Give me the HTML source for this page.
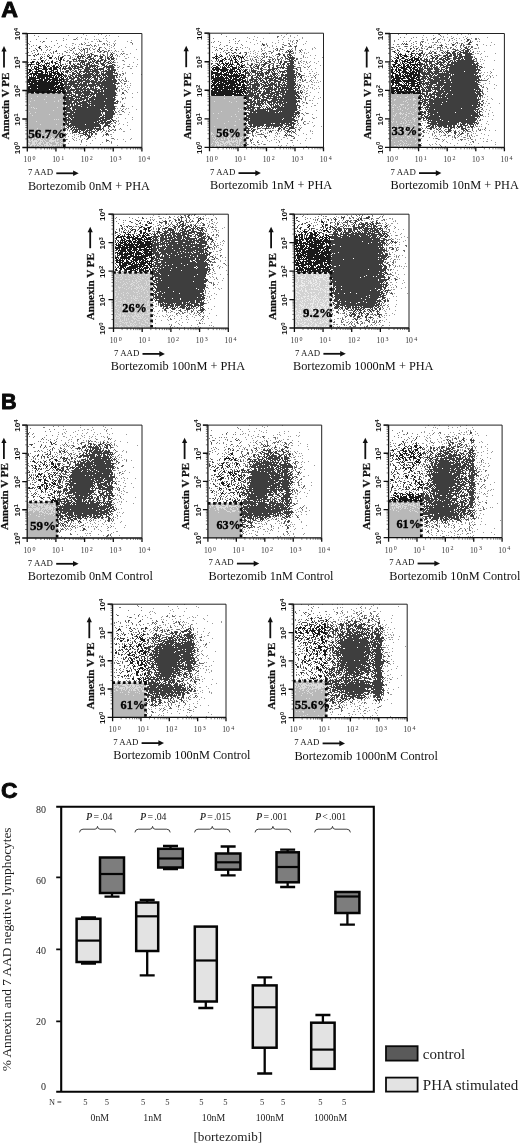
<!DOCTYPE html>
<html lang="en"><head><meta charset="utf-8"><title>Figure</title>
<style>html,body{margin:0;padding:0;background:#fff}body{width:520px;height:1144px;overflow:hidden}svg{display:block}</style>
</head><body>
<svg width="520" height="1144" viewBox="0 0 520 1144">
<rect width="520" height="1144" fill="#fff"/>
<text x="1.3" y="17.3" font-family='"Liberation Sans",Arial,sans-serif' font-weight="bold" font-size="21.8" fill="#0a0a0a" stroke="#0a0a0a" stroke-width=".9" textLength="16.7" lengthAdjust="spacingAndGlyphs" stroke-linejoin="round">A</text>
<text x="1" y="408.6" font-family='"Liberation Sans",Arial,sans-serif' font-weight="bold" font-size="21.6" fill="#0a0a0a" stroke="#0a0a0a" stroke-width=".9" textLength="15.6" lengthAdjust="spacingAndGlyphs" stroke-linejoin="round">B</text>
<text x="1.1" y="798.4" font-family='"Liberation Sans",Arial,sans-serif' font-weight="bold" font-size="22.9" fill="#0a0a0a" stroke="#0a0a0a" stroke-width=".9" textLength="16.5" lengthAdjust="spacingAndGlyphs" stroke-linejoin="round">C</text>
<g transform="translate(27.3,33.5)">
<rect x="0" y="59" width="37" height="55" fill="#b6b6b6"/>
<g transform="translate(0,.5)" fill="none" shape-rendering="crispEdges">
<path stroke="#dcdcdc" d="M35 60h1M10 62h1m8 0h1M27 63h1M4 64h1M17 65h1m15 0h1M7 66h1m23 0h1M3 67h1m23 0h1m3 0h1M19 68h1M2 70h1M35 71h1M4 73h1m1 0h1m23 0h1M7 74h1m1 0h1M26 76h1M2 77h1M8 78h1M3 79h1M22 80h1M5 81h1M27 85h1m1 0h1m1 0h1M9 87h1M13 90h1m15 0h1M34 92h1M10 94h1m23 0h1M22 95h1M5 96h1M7 98h1M6 99h2m2 0h2m3 0h1m3 0h1m8 0h1m1 0h1M18 100h1m1 0h1m12 0h1M7 101h2m1 0h1m1 0h1m1 0h1m1 0h1m12 0h1M5 102h1m3 0h1m2 0h4m1 0h3m4 0h1m8 0h1M1 103h2m1 0h3m1 0h3m3 0h1m1 0h2m3 0h2m2 0h1m1 0h1m3 0h1M5 104h2m1 0h1m2 0h2m1 0h1m9 0h3m1 0h1m4 0h3M1 105h2m2 0h1m4 0h4m2 0h1m2 0h1m3 0h2m3 0h1m1 0h2M2 106h1m1 0h2m1 0h3m1 0h1m1 0h3m1 0h1m4 0h7m1 0h1m3 0h1M2 107h2m1 0h6m2 0h1m1 0h1m2 0h1m3 0h5m1 0h1m4 0h1M5 108h3m1 0h1m2 0h3m1 0h1m2 0h3m2 0h1m3 0h4m2 0h2M1 109h2m2 0h3m1 0h1m1 0h3m2 0h1m2 0h2m1 0h1m6 0h2m2 0h1M2 110h1m1 0h5m1 0h1m1 0h2m3 0h4m1 0h3m4 0h1m1 0h1m1 0h2M3 111h2m2 0h1m2 0h2m2 0h2m1 0h1m1 0h3m1 0h2m1 0h4m1 0h1m1 0h1M3 112h1m3 0h1m1 0h1m2 0h2m1 0h1m1 0h7m1 0h1m1 0h1m5 0h1m1 0h1M5 113h2m1 0h2m2 0h4m1 0h2m8 0h1m1 0h2"/>
<path stroke="#9a9a9a" d="M56 0h1m14 0h1m2 0h1M41 1h1m17 0h1m19 0h1m2 0h1M67 2h1m10 0h1m12 0h1M50 3h1m3 0h1M58 4h1m17 0h1m2 0h1M39 5h1m6 0h1m3 0h1m7 0h1m1 0h1m6 0h1m1 0h1m1 0h1M79 6h1m8 0h1m15 0h1M64 7h2m4 0h1m3 0h1m5 0h1m6 0h1m12 0h1M57 8h1m3 0h1m20 0h1m20 0h1M45 9h2m21 0h1m10 0h1m6 0h1m1 0h1M39 10h1m8 0h1m3 0h1m4 0h1m13 0h1m3 0h1m6 0h1m22 0h1M45 11h1m13 0h1m11 0h1m8 0h1m3 0h1M38 12h1m12 0h1m13 0h1m3 0h1m12 0h1m3 0h1M39 13h1m2 0h1m11 0h1m8 0h1m10 0h1m2 0h1m6 0h1m13 0h1M44 14h1m6 0h1m13 0h1m2 0h1m13 0h1m4 0h1M42 15h1m36 0h1m14 0h1m14 0h1M40 16h1m7 0h1m14 0h1m20 0h1M37 17h1m8 0h1m20 0h1m19 0h1m1 0h1m1 0h1m3 0h2M40 18h1m1 0h1m22 0h1m1 0h1m15 0h1M45 19h1m41 0h1m9 0h1m5 0h1M73 20h1m19 0h1m5 0h2M38 21h1m1 0h1m5 0h1m41 0h1M48 22h1m41 0h1m1 0h1m4 0h1M45 23h1m55 0h1m5 0h1M37 24h1m30 0h1m20 0h1m8 0h2M89 25h1m20 0h1M95 26h1M97 27h1M88 28h1m1 0h1m15 0h1M38 29h1m1 0h1m7 0h1M96 30h2m4 0h1m7 0h1M90 31h1M72 32h1m1 0h1m17 0h1m7 0h1m1 0h1m2 0h1m3 0h1M90 33h1m5 0h1M95 34h1m7 0h2M90 35h1M91 37h1m3 0h1M98 38h1M98 39h1m6 0h1M114 40h1M95 41h1M92 43h1m1 0h1m3 0h1M101 47h1M95 49h1m7 0h1M94 51h1m5 0h1m2 0h1M92 52h1m1 0h1m3 0h1M100 53h1m1 0h1M94 54h1m1 0h1M92 55h1m8 0h1M97 56h1M90 57h1m1 0h1M100 58h1m9 0h1M105 59h1M94 60h1m2 0h1M90 61h1M94 63h1m3 0h1m6 0h1M98 64h1M93 67h1M93 68h1M97 69h1M95 70h1M89 72h1m7 0h1m7 0h1M90 74h1m2 0h1m2 0h1m2 0h1m1 0h1M98 75h1m10 0h1M92 76h1M92 78h1m4 0h1m4 0h1M90 80h1m1 0h1m1 0h1m6 0h1M87 82h1M91 83h1m13 0h1M89 84h1m8 0h1M105 85h1M91 86h1M91 87h1M100 88h1M37 89h1m47 0h1m6 0h1M91 90h1m4 0h1M88 91h1m11 0h1M37 92h1M84 93h1M92 95h1m1 0h1m8 0h1M40 96h1m38 0h1M37 97h1m4 0h1m53 0h2M74 98h1m11 0h1M38 99h1m1 0h1m2 0h1M47 100h1m1 0h1m1 0h1m24 0h1m6 0h2M38 101h1m8 0h1M41 102h1m3 0h1m5 0h1m13 0h1m1 0h1m7 0h1m8 0h1M38 103h1m8 0h1m5 0h1M37 104h1m7 0h1m3 0h1m7 0h1m10 0h1m15 0h1m19 0h1M40 105h1m11 0h1m2 0h1m31 0h1m2 0h1m5 0h1m6 0h1M47 106h1m1 0h1m15 0h1M37 107h1m4 0h1m16 0h1m22 0h1m1 0h1m13 0h1M54 108h1m20 0h1M41 109h1m21 0h1m20 0h1M38 110h1m14 0h1m19 0h1M59 111h1m30 0h1M74 113h2"/>
<path stroke="#6a6a6a" d="M49 4h1M47 5h2M72 6h1M72 7h2M104 8h1M54 9h1m3 0h1m17 0h2m27 0h1M54 10h2m7 0h1m13 0h1m2 0h1m6 0h1M60 11h3m1 0h1m2 0h2m18 0h1M67 12h1M47 13h1m24 0h2M46 14h2m8 0h1m1 0h3m1 0h1m15 0h1M45 15h1m6 0h1m1 0h1m5 0h1m1 0h1m3 0h2m4 0h1M43 16h2m8 0h1m1 0h1m1 0h1m2 0h1m9 0h1m4 0h2m4 0h2m5 0h1M38 17h1m15 0h1m2 0h1m2 0h1m9 0h1m3 0h1m3 0h2m1 0h1M39 18h1m6 0h1m5 0h1m4 0h1m1 0h2m11 0h2m2 0h2m2 0h1m4 0h1M47 19h1m1 0h1m1 0h1m1 0h1m3 0h1m5 0h1m16 0h1m5 0h1m7 0h1m1 0h1M48 20h2m4 0h2m1 0h1m2 0h1m1 0h1m3 0h1m8 0h2m3 0h1m2 0h1m5 0h1m5 0h1M37 21h1m3 0h2m15 0h1m1 0h1m9 0h1m6 0h1m2 0h1m9 0h1M43 22h1m20 0h1m5 0h1m1 0h1m5 0h1m1 0h1m1 0h1M43 23h1m14 0h1m7 0h1m11 0h1M42 24h2m3 0h1m1 0h1m3 0h1m1 0h2m15 0h1m5 0h1m8 0h1M45 25h1m3 0h1m8 0h1m2 0h1m9 0h1m4 0h1M37 26h1m2 0h2m37 0h1m7 0h1m8 0h1M39 27h2m3 0h1m1 0h5m8 0h1m1 0h1m19 0h1m2 0h1M79 28h1m6 0h2M46 29h1m3 0h1m8 0h1m6 0h1m4 0h1m1 0h1m4 0h1m4 0h1M38 30h1m16 0h1m15 0h1m8 0h1m6 0h1M40 31h1m1 0h1m45 0h1M56 32h1m44 0h1M87 33h1m3 0h1M40 34h1m15 0h1m22 0h1M53 35h2m33 0h1M45 36h2m2 0h1m1 0h1M55 37h1m18 0h1M38 38h1m3 0h2m28 0h1m16 0h1M40 39h1m13 0h1m32 0h1m2 0h1m4 0h2M38 40h1m3 0h2m48 0h2m2 0h1M41 41h1m48 0h1m2 0h1M92 42h1M89 43h2M64 44h1m33 0h1M72 45h1m18 0h2m2 0h1m2 0h1M92 46h1m1 0h1m1 0h1m2 0h1M93 47h1m3 0h3M91 48h1m2 0h1M92 49h1m4 0h2M90 50h1m6 0h1M45 52h1m24 0h1m20 0h1M90 53h1M70 54h1m19 0h1M95 55h1M89 56h1m2 0h1m5 0h1M99 57h1M46 58h1m48 0h2M89 59h1M46 60h1M89 61h1M88 63h1M95 64h2M88 65h1m6 0h1M90 66h1M37 67h1m53 0h1M90 69h1M37 71h1M37 72h1m50 0h1m5 0h3M88 74h1M95 75h1M94 76h1M88 77h1m2 0h1m3 0h2M88 78h2M37 79h1m37 0h1M76 80h1m10 0h1m5 0h1M87 86h2M89 87h1M87 88h2M84 89h1m3 0h1M75 90h1m7 0h1M86 91h1M39 92h1m36 0h1m6 0h1m2 0h1M37 93h1m43 0h1m5 0h1M37 94h3m1 0h1m34 0h1m4 0h1m11 0h1M40 95h1m2 0h1m38 0h1m2 0h2m1 0h1M42 96h1m30 0h1m2 0h2m3 0h1m1 0h2m2 0h2M69 97h2m4 0h1m3 0h1m1 0h2M45 98h1m32 0h1M45 99h1m7 0h2m14 0h1M39 100h1m22 0h1m5 0h2m8 0h1m2 0h1M53 101h3m20 0h1m2 0h1m1 0h1M53 102h1m5 0h1M63 103h1M85 104h2M39 105h1m6 0h1m12 0h2m18 0h1M38 106h1m15 0h1m24 0h1m1 0h1M54 107h1m24 0h1M84 108h1"/>
<path stroke="#3e3e3e" d="M72 14h1M56 15h2m13 0h1M72 16h1M71 17h1m1 0h1m3 0h1M64 19h1m19 0h1M50 20h1m10 0h1m2 0h2m18 0h2M51 21h1m2 0h1m1 0h1m5 0h1m1 0h1m2 0h3m3 0h1m2 0h1m6 0h1m1 0h1M50 22h8m3 0h3m3 0h2m4 0h3m8 0h2M50 23h2m1 0h1m1 0h1m4 0h4m9 0h3m4 0h2m1 0h2m1 0h1M51 24h2m6 0h2m2 0h4m6 0h2m5 0h3m1 0h3M46 25h3m3 0h1m9 0h3m1 0h2m6 0h2m2 0h1m2 0h2m1 0h3M46 26h1m2 0h1m1 0h6m1 0h2m2 0h1m2 0h1m1 0h2m1 0h2m1 0h3m1 0h2m4 0h1M42 27h2m8 0h1m1 0h5m4 0h1m1 0h3m1 0h5m3 0h2m3 0h1m3 0h1M42 28h2m9 0h5m3 0h4m1 0h1m1 0h3m2 0h1m2 0h2m2 0h2m1 0h1m1 0h1M42 29h2m7 0h1m1 0h1m1 0h1m1 0h1m2 0h3m2 0h1m3 0h2m3 0h3m4 0h2m1 0h1M43 30h1m2 0h2m2 0h4m2 0h2m1 0h4m1 0h1m2 0h1m6 0h4m7 0h2M39 31h1m4 0h2m1 0h3m3 0h2m2 0h4m1 0h9m4 0h3m1 0h1m2 0h4m1 0h1M37 32h3m2 0h1m1 0h8m1 0h3m3 0h2m1 0h7m1 0h2m5 0h10M38 33h1m2 0h3m1 0h1m1 0h2m1 0h6m2 0h6m1 0h1m1 0h1m1 0h2m5 0h2m1 0h8M37 34h3m1 0h4m1 0h6m3 0h1m2 0h5m3 0h3m1 0h1m1 0h5m4 0h2m1 0h3M37 35h2m3 0h3m2 0h1m3 0h2m4 0h9m1 0h10m3 0h3m1 0h4M39 36h3m1 0h1m4 0h1m4 0h1m3 0h5m1 0h1m1 0h6m2 0h1m2 0h1m1 0h2m1 0h8M38 37h4m2 0h1m2 0h3m2 0h3m1 0h16m3 0h11m1 0h1M39 38h2m4 0h2m2 0h2m1 0h2m2 0h2m1 0h4m2 0h2m1 0h4m2 0h1m1 0h1m2 0h9M45 39h4m1 0h3m5 0h2m1 0h5m1 0h1m1 0h3m2 0h3m1 0h8m2 0h2M45 40h3m1 0h1m1 0h3m2 0h11m1 0h3m1 0h1m1 0h12m4 0h1M37 41h3m3 0h3m2 0h16m1 0h9m1 0h4m1 0h10M37 42h3m1 0h3m1 0h2m1 0h2m1 0h4m1 0h9m1 0h3m1 0h3m1 0h1m1 0h1m1 0h2m1 0h7m1 0h1M38 43h1m1 0h1m1 0h3m1 0h6m1 0h11m1 0h4m1 0h1m1 0h3m1 0h12M39 44h2m1 0h6m2 0h3m1 0h3m1 0h2m1 0h2m4 0h4m2 0h4m1 0h10M37 45h5m2 0h3m3 0h5m1 0h3m1 0h2m1 0h1m3 0h4m2 0h3m1 0h8m1 0h3M37 46h1m1 0h2m2 0h2m1 0h1m1 0h15m1 0h3m1 0h3m2 0h2m1 0h2m1 0h11M37 47h13m1 0h5m2 0h12m1 0h3m1 0h15M37 48h3m2 0h11m1 0h1m1 0h7m1 0h25M37 49h3m1 0h7m2 0h2m1 0h2m1 0h4m1 0h1m3 0h3m1 0h17m1 0h5M37 50h23m1 0h12m1 0h14M38 51h2m1 0h1m1 0h2m1 0h5m1 0h17m1 0h19M37 52h7m2 0h7m1 0h4m1 0h2m1 0h5m1 0h2m2 0h4m1 0h12M37 53h7m3 0h3m1 0h1m1 0h3m1 0h3m3 0h2m1 0h1m1 0h1m4 0h16M37 54h6m1 0h1m3 0h7m1 0h3m1 0h2m1 0h4m1 0h2m3 0h2m1 0h3m1 0h10M37 55h1m1 0h3m1 0h27m1 0h2m1 0h16M37 56h2m1 0h8m1 0h3m1 0h3m1 0h2m1 0h3m2 0h11m1 0h11M37 57h2m1 0h4m2 0h1m1 0h6m1 0h9m3 0h6m1 0h2m1 0h11M37 58h8m2 0h19m1 0h3m1 0h18M37 59h1m1 0h6m3 0h7m1 0h7m1 0h25m6 0h2M37 60h3m2 0h1m1 0h2m2 0h1m2 0h3m1 0h1m1 0h11m1 0h7m1 0h12M37 61h8m1 0h3m2 0h11m1 0h2m1 0h1m2 0h20M37 62h2m1 0h2m2 0h9m1 0h5m1 0h1m1 0h2m1 0h3m1 0h19M38 63h8m2 0h7m2 0h5m2 0h22m1 0h1M37 64h11m1 0h1m1 0h1m1 0h8m1 0h17m1 0h8M37 65h5m1 0h4m1 0h10m1 0h2m1 0h5m1 0h20M37 66h18m1 0h1m2 0h29M39 67h6m2 0h3m1 0h2m2 0h8m1 0h13m1 0h9m2 0h2M38 68h7m1 0h5m1 0h8m1 0h28m1 0h1M37 69h11m1 0h12m1 0h1m1 0h26M37 70h6m1 0h2m1 0h1m1 0h5m1 0h32M40 71h3m1 0h2m1 0h4m2 0h10m1 0h3m1 0h10m1 0h8m8 0h1M39 72h2m1 0h12m1 0h33M37 73h7m1 0h15m1 0h16m1 0h10M37 74h6m2 0h43M37 75h7m1 0h3m1 0h24m1 0h4m2 0h8M37 76h1m1 0h6m1 0h28m1 0h5m1 0h5m1 0h1M37 77h50M37 78h3m3 0h4m1 0h26m1 0h1m2 0h9M39 79h35m4 0h10M38 80h7m1 0h29m3 0h9M37 81h3m1 0h34m1 0h10M37 82h2m2 0h32m2 0h2m1 0h8M38 83h4m1 0h3m1 0h25m1 0h13M38 84h2m1 0h2m1 0h33m1 0h7M37 85h7m1 0h29m1 0h8m1 0h2M37 86h35m1 0h7m3 0h1m1 0h2M37 87h3m1 0h1m1 0h27m1 0h5m1 0h2m1 0h5m1 0h1M38 88h2m1 0h26m1 0h5m1 0h10M39 89h3m2 0h28m1 0h4m1 0h5M39 90h3m1 0h15m1 0h14m5 0h3M40 91h34m3 0h6M41 92h4m1 0h1m1 0h26m3 0h2m2 0h2m4 0h1M40 93h2m1 0h1m1 0h22m1 0h1m3 0h2m2 0h1M44 94h2m1 0h1m1 0h1m1 0h23m1 0h1M44 95h1m1 0h13m1 0h1m1 0h4m1 0h1m1 0h6m1 0h1M45 96h2m1 0h3m1 0h1m1 0h4m1 0h6m3 0h1m1 0h2M45 97h1m1 0h4m1 0h2m2 0h1m1 0h3m1 0h1m1 0h4M46 98h4m1 0h2m3 0h4m1 0h4m1 0h2M52 99h1m2 0h2m1 0h2m2 0h1m1 0h2m2 0h1m10 0h2M56 100h5m3 0h2m13 0h2M58 101h1m1 0h3m1 0h1M61 102h3M61 103h2M60 104h2M80 106h1"/>
<path stroke="#808080" d="M7 1h1M11 2h1M19 4h1m16 0h1M9 5h1M29 6h1m6 0h1M3 7h1m9 0h1m3 0h1m6 0h1M15 8h1M1 9h1m28 0h1M2 10h1M6 11h1m2 0h1m8 0h1m8 0h1m6 0h1M4 12h1m17 0h1m9 0h1M18 13h1m1 0h1m3 0h1m6 0h1M2 14h1m5 0h1M20 15h1m2 0h1M6 16h2m6 0h1m4 0h1m2 0h1M4 17h1m5 0h1m15 0h1M1 18h1m5 0h1m8 0h1m1 0h1m4 0h1M5 19h1m18 0h1m1 0h1m3 0h1m1 0h1m2 0h1M13 20h1m1 0h1m1 0h1m17 0h1M1 21h1m1 0h1m21 0h1m6 0h1M17 22h1M17 24h1m9 0h1M4 25h1m1 0h1m1 0h1m2 0h1m7 0h1m9 0h1M21 26h1M30 27h1M1 28h1M7 30h1m28 0h1M24 31h1M1 32h1m3 0h1"/>
<path stroke="#4a4a4a" d="M16 7h1M12 12h2m5 0h1M11 13h1M12 14h2M9 15h1m4 0h1M10 16h1m18 0h1M28 17h2M26 18h1M11 19h1M8 20h1m1 0h2m9 0h1M2 21h1m3 0h2m1 0h1m10 0h1m1 0h1M7 22h1m6 0h1m5 0h1m4 0h1m5 0h1m3 0h2M13 23h1m1 0h1m12 0h1m2 0h1m1 0h1M13 24h1m8 0h1m1 0h1m4 0h1m1 0h1M7 25h1m5 0h1m17 0h1m4 0h1M16 26h1m1 0h1m6 0h1m10 0h1M7 27h1m2 0h1m6 0h1m11 0h1M3 28h1m5 0h1m3 0h1m1 0h1m1 0h1m2 0h1m1 0h1m4 0h1m4 0h2M22 29h1m2 0h1m4 0h1m2 0h1M1 30h1m3 0h2m2 0h1m4 0h1m2 0h1m4 0h1m5 0h1m2 0h1m1 0h1m1 0h1M1 31h1m17 0h1m11 0h1M3 32h1m3 0h1m1 0h1m3 0h2m6 0h2m11 0h1m1 0h1M4 33h1M4 34h1m8 0h2m6 0h1m11 0h1m1 0h1M1 35h1m3 0h2m23 0h1m2 0h1m1 0h1M33 36h1M5 37h1m1 0h1m13 0h2m5 0h1m4 0h1m1 0h2M1 38h1m14 0h1m19 0h1M1 39h1M1 41h1m2 0h1M2 42h1M1 50h1M1 52h1M1 58h1m28 0h1"/>
<path stroke="#1a1a1a" d="M12 13h1M21 22h1M22 23h3m9 0h2M14 24h1m8 0h1m9 0h2M33 25h2M14 26h2m16 0h2M5 27h2m7 0h2m8 0h2m7 0h1M4 28h3m3 0h2m12 0h2m2 0h1M4 29h1m4 0h1m1 0h2m5 0h4m6 0h2M2 30h3m5 0h2m7 0h1M3 31h1m7 0h3m1 0h3m3 0h1m4 0h2m5 0h2M8 32h1m2 0h1m4 0h3m1 0h1m4 0h3m1 0h2m1 0h1M7 33h1m1 0h3m4 0h4m3 0h2m1 0h6m1 0h1m2 0h1M7 34h3m1 0h2m3 0h4m2 0h3m1 0h4m2 0h1m3 0h1M2 35h2m4 0h4m3 0h6m1 0h3m1 0h4M2 36h3m4 0h1m1 0h4m3 0h2m4 0h3m3 0h1M2 37h2m4 0h8m2 0h2m3 0h2m1 0h1m2 0h2M2 38h1m2 0h1m2 0h3m3 0h2m2 0h3m1 0h1m1 0h5m1 0h2m2 0h1M3 39h13m2 0h1m1 0h1m1 0h3m1 0h7m1 0h2M2 40h3m1 0h4m1 0h10m1 0h3m2 0h2m1 0h7M6 41h2m1 0h19m1 0h1m1 0h4m1 0h1M4 42h1m1 0h1m1 0h1m1 0h15m1 0h1m1 0h2m1 0h2m1 0h2M2 43h7m1 0h8m1 0h2m1 0h5m1 0h4m1 0h2m1 0h1M2 44h11m1 0h4m1 0h4m2 0h6m1 0h1m1 0h3M1 45h8m3 0h4m1 0h14m1 0h5M1 46h3m1 0h11m1 0h4m1 0h2m1 0h10m1 0h1M1 47h9m1 0h9m1 0h2m1 0h4m1 0h2m1 0h1m1 0h3M1 48h2m1 0h31M2 49h4m1 0h25m1 0h3M2 50h29m2 0h4M3 51h7m1 0h17m1 0h1m1 0h6M2 52h25m1 0h5m1 0h2M1 53h36M1 54h2m1 0h6m1 0h18m1 0h7M1 55h21m1 0h9m1 0h4M1 56h24m1 0h4m1 0h3m1 0h2M1 57h28m1 0h1m1 0h5M2 58h5m1 0h22m1 0h3m1 0h2"/>
</g>
</g>
<path d="M65.6 92.5H27.3" stroke="#0c0c0c" stroke-width="2.7" stroke-dasharray="2.7 2.6" fill="none"/>
<path d="M64.3 147V92.5" stroke="#0c0c0c" stroke-width="2.7" stroke-dasharray="2.7 2.6" fill="none"/>
<path d="M22.3 33.5H141.9V147.5" stroke="#222" stroke-width="1" fill="none"/>
<path d="M27.3 33.5V147.5H141.9M27.3 147.5h-5M27.3 147.5v4M27.3 119h-5M55.95 147.5v4M27.3 90.5h-5M84.6 147.5v4M27.3 62h-5M113.25 147.5v4M27.3 33.5h-5M141.9 147.5v4" stroke="#111" stroke-width="1.3" fill="none"/>
<path d="M27.3 138.92h-2M35.92 147.5v2M27.3 133.9h-2M40.97 147.5v2M27.3 130.34h-2M44.55 147.5v2M27.3 127.58h-2M47.33 147.5v2M27.3 125.32h-2M49.59 147.5v2M27.3 123.41h-2M51.51 147.5v2M27.3 121.76h-2M53.17 147.5v2M27.3 120.3h-2M54.64 147.5v2M27.3 110.42h-2M64.57 147.5v2M27.3 105.4h-2M69.62 147.5v2M27.3 101.84h-2M73.2 147.5v2M27.3 99.08h-2M75.98 147.5v2M27.3 96.82h-2M78.24 147.5v2M27.3 94.91h-2M80.16 147.5v2M27.3 93.26h-2M81.82 147.5v2M27.3 91.8h-2M83.29 147.5v2M27.3 81.92h-2M93.22 147.5v2M27.3 76.9h-2M98.27 147.5v2M27.3 73.34h-2M101.85 147.5v2M27.3 70.58h-2M104.63 147.5v2M27.3 68.32h-2M106.89 147.5v2M27.3 66.41h-2M108.81 147.5v2M27.3 64.76h-2M110.47 147.5v2M27.3 63.3h-2M111.94 147.5v2M27.3 53.42h-2M121.87 147.5v2M27.3 48.4h-2M126.92 147.5v2M27.3 44.84h-2M130.5 147.5v2M27.3 42.08h-2M133.28 147.5v2M27.3 39.82h-2M135.54 147.5v2M27.3 37.91h-2M137.46 147.5v2M27.3 36.26h-2M139.12 147.5v2M27.3 34.8h-2M140.59 147.5v2" stroke="#222" stroke-width="0.6" fill="none"/>
<text transform="translate(20.1,148.1) rotate(-90)" font-family='"Liberation Sans",Arial,sans-serif' font-weight="bold" font-size="8.1" text-anchor="middle" fill="#111">10<tspan dy="-2.4" font-size="6">0</tspan></text>
<text transform="translate(20.1,119.6) rotate(-90)" font-family='"Liberation Sans",Arial,sans-serif' font-weight="bold" font-size="8.1" text-anchor="middle" fill="#111">10<tspan dy="-2.4" font-size="6">1</tspan></text>
<text transform="translate(20.1,91.1) rotate(-90)" font-family='"Liberation Sans",Arial,sans-serif' font-weight="bold" font-size="8.1" text-anchor="middle" fill="#111">10<tspan dy="-2.4" font-size="6">2</tspan></text>
<text transform="translate(20.1,62.6) rotate(-90)" font-family='"Liberation Sans",Arial,sans-serif' font-weight="bold" font-size="8.1" text-anchor="middle" fill="#111">10<tspan dy="-2.4" font-size="6">3</tspan></text>
<text transform="translate(20.1,34.1) rotate(-90)" font-family='"Liberation Sans",Arial,sans-serif' font-weight="bold" font-size="8.1" text-anchor="middle" fill="#111">10<tspan dy="-2.4" font-size="6">4</tspan></text>
<text x="23.5" y="162.3" font-family='"Liberation Serif","Times New Roman",serif' font-size="7.6" fill="#333" letter-spacing=".1">10<tspan dx="1.2" dy="-2.1" font-size="6">0</tspan></text>
<text x="52.15" y="162.3" font-family='"Liberation Serif","Times New Roman",serif' font-size="7.6" fill="#333" letter-spacing=".1">10<tspan dx="1.2" dy="-2.1" font-size="6">1</tspan></text>
<text x="80.8" y="162.3" font-family='"Liberation Serif","Times New Roman",serif' font-size="7.6" fill="#333" letter-spacing=".1">10<tspan dx="1.2" dy="-2.1" font-size="6">2</tspan></text>
<text x="109.45" y="162.3" font-family='"Liberation Serif","Times New Roman",serif' font-size="7.6" fill="#333" letter-spacing=".1">10<tspan dx="1.2" dy="-2.1" font-size="6">3</tspan></text>
<text x="138.1" y="162.3" font-family='"Liberation Serif","Times New Roman",serif' font-size="7.6" fill="#333" letter-spacing=".1">10<tspan dx="1.2" dy="-2.1" font-size="6">4</tspan></text>
<text transform="translate(8.5,139.5) rotate(-90)" font-family='"Liberation Serif","Times New Roman",serif' font-weight="bold" font-size="11" fill="#111" stroke="#111" stroke-width=".25">Annexin V PE</text>
<path d="M4 67.5V50.5" stroke="#111" stroke-width="1.8" fill="none"/>
<path d="M4 46.1l-2.6 5.4h5.2z" fill="#111"/>
<text x="27.9" y="175.1" font-family='"Liberation Serif","Times New Roman",serif' font-size="8.8" fill="#111">7 AAD</text>
<path d="M56.3 173.3H74.3" stroke="#111" stroke-width="1.8" fill="none"/>
<path d="M78.7 173.3l-5.6 -2.8v5.6z" fill="#111"/>
<text x="27.9" y="189.5" font-family='"Liberation Serif","Times New Roman",serif' font-size="12.3" fill="#111">Bortezomib 0nM + PHA</text>
<text x="28.2" y="137.9" font-family='"Liberation Serif","Times New Roman",serif' font-weight="bold" font-size="13.3" fill="#000" stroke="#000" stroke-width=".35">56.7%</text>
<g transform="translate(209.5,33.2)">
<rect x="0" y="62.8" width="35.5" height="51.3" fill="#b6b6b6"/>
<g transform="translate(0,.5)" fill="none" shape-rendering="crispEdges">
<path stroke="#dcdcdc" d="M26 64h1M14 65h1m9 0h1M4 68h1m14 0h1m6 0h1M21 69h1M28 75h1M30 76h1m1 0h1M11 78h1m16 0h1M3 80h1m4 0h1M25 81h1M21 83h1m4 0h1M7 85h1M29 86h1M18 88h1m6 0h1M14 90h1M24 92h2M4 93h1M15 94h1M16 96h1M19 98h1m9 0h1M1 99h1m16 0h3M1 100h2m8 0h1m5 0h1m4 0h1M1 101h1m1 0h1m3 0h2m8 0h1M6 102h1m3 0h1m1 0h1m1 0h1m3 0h2m4 0h1M2 103h1m1 0h1m6 0h1m2 0h1m2 0h3m2 0h1m9 0h1M5 104h1m1 0h1m6 0h2m1 0h1m1 0h1m4 0h1m5 0h2M3 105h1m1 0h1m2 0h1m2 0h1m2 0h1m2 0h2m2 0h1m1 0h2m1 0h1m1 0h1m2 0h1m1 0h1M4 106h1m2 0h1m3 0h2m1 0h1m3 0h1m2 0h1m4 0h1m2 0h2m2 0h1M6 107h1m2 0h1m8 0h2m1 0h1m1 0h1m1 0h3m1 0h3M3 108h1m1 0h1m1 0h1m2 0h4m2 0h10m1 0h1m1 0h2M5 109h4m3 0h2m1 0h5m2 0h2m2 0h2m1 0h1M2 110h1m3 0h1m1 0h1m1 0h1m2 0h3m1 0h1m1 0h2m6 0h1m1 0h1m3 0h1M1 111h1m3 0h1m1 0h2m1 0h3m1 0h1m1 0h1m2 0h3m2 0h1m1 0h1m2 0h1m1 0h1M5 112h1m1 0h4m3 0h2m5 0h1m4 0h3m3 0h1M1 113h1m2 0h2m2 0h1m1 0h3m1 0h1m1 0h1m2 0h1m2 0h3m1 0h1m1 0h1m2 0h1m1 0h1"/>
<path stroke="#9a9a9a" d="M59 0h1m17 0h1M76 1h1M71 2h1m8 0h1m6 0h1M44 3h1m29 0h1m5 0h1M37 4h1m9 0h1m25 0h1m10 0h1m7 0h1M39 5h1m13 0h1m24 0h1m13 0h1M43 6h1m28 0h1m16 0h1M46 7h1m21 0h1m9 0h1m1 0h1m2 0h1M36 8h1m13 0h1m29 0h1m15 0h1M40 9h1m21 0h1m5 0h1m4 0h1m8 0h1M47 10h1m8 0h1m8 0h1m18 0h1m1 0h1m8 0h1M44 11h1m27 0h1m9 0h1m10 0h1M51 12h1m10 0h1m13 0h1M57 13h1m4 0h1m3 0h1m11 0h1M35 14h1m1 0h1m17 0h1m3 0h1m44 0h1M39 15h1m11 0h1m2 0h1m8 0h1m18 0h1m19 0h1m2 0h1M39 16h1m33 0h1m21 0h1m6 0h1M44 17h1m9 0h1m8 0h1m21 0h1m6 0h1M40 18h1m2 0h1m4 0h1m2 0h1m6 0h1m10 0h1m2 0h1M38 19h1m6 0h1m39 0h1m3 0h1m1 0h1m2 0h1m3 0h1M40 20h1m2 0h1m3 0h1m11 0h1m12 0h1m12 0h1m8 0h1m1 0h1M45 21h1m5 0h1m4 0h1m34 0h1M39 22h1m7 0h1m14 0h1m2 0h1m18 0h1m8 0h1m6 0h1m4 0h1M37 23h1m1 0h1m1 0h1m1 0h1m5 0h1m1 0h1m11 0h1M93 24h1m1 0h1m1 0h1m14 0h1M37 25h1m2 0h1m1 0h1m5 0h1m1 0h1m39 0h2m12 0h1M38 27h1m9 0h1m24 0h1m17 0h1M41 28h1m2 0h1m43 0h1m4 0h2m1 0h1m3 0h1m7 0h1M37 29h1m53 0h1m7 0h1m4 0h1M44 30h1m21 0h1m26 0h1m3 0h1m8 0h1M85 31h1m9 0h1M89 32h1m1 0h1m8 0h1m9 0h1M56 33h1m28 0h1m7 0h1m3 0h1M38 34h1m56 0h1M105 35h1M39 36h1m57 0h1m3 0h1M99 38h1m2 0h1M106 39h1M94 40h1m4 0h2m3 0h1M106 41h1m1 0h1M69 42h1m24 0h1m5 0h1m2 0h1M96 43h1m1 0h1M94 44h1m6 0h2M105 45h1M101 46h1m11 0h1M103 47h1m3 0h1M87 48h1m11 0h1m10 0h1M89 49h2m5 0h2m4 0h1m1 0h1m1 0h1m1 0h1M87 50h1M91 51h1m9 0h2M93 52h1m4 0h1m5 0h1M98 53h1m9 0h1M92 54h1m1 0h1m5 0h1m1 0h1M91 55h1m4 0h2m4 0h1m3 0h1m2 0h1M93 56h1m10 0h1M94 57h1m2 0h1M96 58h1M94 59h1m5 0h1m7 0h1M97 60h1M92 61h1m2 0h1M99 62h1M91 63h1m1 0h1m3 0h1m6 0h1M93 64h1m16 0h1M103 65h1m4 0h1M95 67h1m3 0h2m1 0h1M92 68h1M94 69h1M92 70h1m9 0h1m4 0h1M93 72h1m10 0h2M54 73h1m46 0h1M96 74h1M92 76h1M90 77h1m15 0h1M95 79h1M91 80h1m6 0h1M102 81h1M94 82h1M92 84h1m9 0h1m3 0h1M86 85h1m17 0h1m8 0h1M88 86h1M95 88h1m3 0h1M102 89h1M97 90h2M35 91h1m59 0h1M86 92h1m1 0h1m1 0h1m13 0h1M103 93h1m7 0h1M86 94h1m2 0h1m1 0h1M52 97h1m2 0h1m2 0h1m4 0h1m1 0h1m34 0h1M70 98h1m29 0h1m1 0h1M48 99h1m4 0h1m3 0h1M40 100h1m4 0h1m9 0h1m1 0h1m7 0h1m3 0h1m11 0h1m11 0h1m8 0h1M47 101h1m19 0h1m18 0h1m9 0h1M37 102h1m7 0h1m13 0h1m5 0h1m22 0h1M39 103h1m6 0h1m3 0h1m15 0h1m2 0h1M51 104h1m12 0h1m8 0h2M42 105h1m13 0h1m20 0h1m18 0h1m3 0h1M64 106h1m1 0h1m4 0h1M48 107h1m8 0h1m3 0h1m6 0h1m11 0h1m1 0h1m4 0h1m7 0h1M52 108h1m6 0h1M43 109h1m22 0h1m2 0h1m12 0h1M41 110h1m9 0h1m25 0h1m12 0h1M38 111h1m4 0h1m4 0h2m3 0h1m1 0h1M35 112h1m9 0h1m22 0h1m2 0h1m4 0h1m6 0h1M41 113h1m5 0h1m22 0h1m9 0h1m15 0h1"/>
<path stroke="#6a6a6a" d="M67 3h2M67 4h1M86 7h2M82 8h1m4 0h1M86 9h1M52 10h1m25 0h2M54 11h1m1 0h1m16 0h1m5 0h1M54 12h1m2 0h1m16 0h2m10 0h1M72 13h1m6 0h3m2 0h1m1 0h1M72 14h2M66 15h2m2 0h1m14 0h1M51 16h1m13 0h1m4 0h3m6 0h1m1 0h1m3 0h1m5 0h1M52 17h1m13 0h2m1 0h1m7 0h1m4 0h1m6 0h2M59 18h2m2 0h1m18 0h1M36 19h1m18 0h1m5 0h2m12 0h3m5 0h1M52 20h3m1 0h1m4 0h1m19 0h3M36 21h1m29 0h2m2 0h1m3 0h1m2 0h1M35 22h1m18 0h1M46 23h1m5 0h1m1 0h1m1 0h2m1 0h1m7 0h2m6 0h1m1 0h1m15 0h1M36 24h1m7 0h2m1 0h1m6 0h1m1 0h1m2 0h3m5 0h1m3 0h2m11 0h1M52 25h1m9 0h1m1 0h1m2 0h1m2 0h1m1 0h1m2 0h1m10 0h2M40 26h1m1 0h1m2 0h2m11 0h3m1 0h1m2 0h1m1 0h1m1 0h1m1 0h1m3 0h1m1 0h1m9 0h1M36 27h2m3 0h1m1 0h1m2 0h1m3 0h1m1 0h3m7 0h1m2 0h1m5 0h1m13 0h1M46 28h1m10 0h1m5 0h2m3 0h1m8 0h2m6 0h1m4 0h1M46 29h3m1 0h2m1 0h1m10 0h1m3 0h1m19 0h1m7 0h1M37 30h1m3 0h2m6 0h1m7 0h2m2 0h3m3 0h1m20 0h2M37 31h2m7 0h2m1 0h1m1 0h1m8 0h1m23 0h1M39 32h1m4 0h1m4 0h1m1 0h1m10 0h2m2 0h1m1 0h2m1 0h1m4 0h1M43 33h1m32 0h1m22 0h1M36 34h2m2 0h1m2 0h1m10 0h2m13 0h1m17 0h4m3 0h1m3 0h1M45 35h2m23 0h1m4 0h1m8 0h2m4 0h1M37 36h1m10 0h1m4 0h4m11 0h1m18 0h1m2 0h1M39 37h1m6 0h1m18 0h1m1 0h1m1 0h1m4 0h1m9 0h1m2 0h1m2 0h1M39 38h1m7 0h1m1 0h1m17 0h1m18 0h1m3 0h2M54 39h1m6 0h1m13 0h1m10 0h1M41 40h1m25 0h1m1 0h1M41 41h1m13 0h1m2 0h1m1 0h1m25 0h1M37 42h1m5 0h3m22 0h1m23 0h2m11 0h1M55 43h1m31 0h2m15 0h1M37 44h1m6 0h1m42 0h1m17 0h1M37 45h1m15 0h1M37 46h1m1 0h1m45 0h1m3 0h2m1 0h1m2 0h1M48 47h1m39 0h1m1 0h1m1 0h1m1 0h2m4 0h1M85 48h1m6 0h2m7 0h1M42 49h1m6 0h1m22 0h1M66 50h1M87 51h1m1 0h1M51 52h1m35 0h1M49 53h1m40 0h1m3 0h1M64 54h1m21 0h1m1 0h1M51 56h1m1 0h1m31 0h1m1 0h2M90 57h2M51 58h1m36 0h1m3 0h1M92 59h1M89 60h1m6 0h1M70 61h1M50 62h1m5 0h1m33 0h1M50 63h1m45 0h1M95 64h1M42 65h1m48 0h1m3 0h1M59 66h1m31 0h1m3 0h1M35 67h1m53 0h1M55 69h1m33 0h1m3 0h1m2 0h1M87 70h1m8 0h2M35 71h1m17 0h1m1 0h2M46 72h1m10 0h1m31 0h1M36 73h1m16 0h1m2 0h1m1 0h1m31 0h1M45 74h2m5 0h1m35 0h1M35 75h1m53 0h1M45 76h1m41 0h1M35 77h1m1 0h2m50 0h1M35 79h2m1 0h1M92 80h1m3 0h2M36 81h1m56 0h1M87 82h1m1 0h1M89 83h1M86 84h1m1 0h1M92 85h1m10 0h1M91 86h2M35 87h1m51 0h1m3 0h1M87 88h1m6 0h1M35 89h1m51 0h1m5 0h1M36 90h1m48 0h1m2 0h1m4 0h1M74 91h1m12 0h1m6 0h1M37 92h1M35 93h1m2 0h1m15 0h1m18 0h1M51 94h1m9 0h1m3 0h1m19 0h1M35 95h1m3 0h1m1 0h1m5 0h1m1 0h2m1 0h3m3 0h3m1 0h2m12 0h2m12 0h1M45 96h1m1 0h1m23 0h1m1 0h1m11 0h1m2 0h2M36 97h1m3 0h1m9 0h2m8 0h1m1 0h1m4 0h1m3 0h1m3 0h2m4 0h1m3 0h1m3 0h1M46 98h1m3 0h1m17 0h1m5 0h1m8 0h1m1 0h1M46 99h2m11 0h1m1 0h1m4 0h1m8 0h1m1 0h1m1 0h1m1 0h1m1 0h1M39 100h1m2 0h1m8 0h1m15 0h1m17 0h1M42 101h1m5 0h6m23 0h1m1 0h1M42 102h2m10 0h1m19 0h1m3 0h2m1 0h1M43 103h1m10 0h1m1 0h1m19 0h1m4 0h3M84 104h1M35 105h1m2 0h1m44 0h2M40 106h1m1 0h1M40 107h1m40 0h1M40 108h1m6 0h1m21 0h1M35 109h2m4 0h1m5 0h2M35 110h1M37 111h1m6 0h1m9 0h1M36 112h1"/>
<path stroke="#3e3e3e" d="M52 11h2M53 12h1m26 0h1M85 13h1M85 14h1M67 16h1M78 17h1m1 0h1M76 18h1m1 0h4m8 0h1M79 19h2M36 20h1m31 0h2m9 0h1M53 21h1m14 0h2m3 0h1m4 0h3M69 22h1m3 0h2m2 0h1m1 0h3M74 23h1m3 0h1m1 0h1m1 0h1M53 24h1m21 0h1m2 0h6M76 25h2m1 0h6M51 26h1m11 0h1m4 0h1m9 0h2m1 0h3m2 0h1M59 27h1m8 0h1m10 0h4m1 0h1M51 28h1m2 0h1m3 0h3m9 0h2m2 0h3m2 0h5M55 29h2m2 0h2m9 0h2m2 0h3m3 0h4M54 30h3m12 0h2m2 0h2m2 0h7M41 31h2m2 0h1m6 0h4m3 0h1m3 0h1m6 0h1m1 0h3m2 0h2m1 0h3M40 32h2m4 0h1m1 0h1m4 0h2m3 0h2m7 0h1m5 0h1m4 0h6M40 33h1m4 0h4m3 0h2m4 0h2m3 0h1m2 0h2m3 0h1m1 0h1m3 0h8M41 34h1m2 0h1m2 0h2m2 0h1m6 0h2m2 0h2m3 0h2m1 0h5m2 0h7M41 35h2m4 0h2m1 0h3m6 0h1m2 0h6m4 0h2m2 0h8m2 0h1M36 36h1m4 0h1m1 0h1m6 0h2m6 0h7m1 0h1m10 0h6m3 0h1M36 37h1m4 0h5m5 0h2m4 0h4m1 0h2m11 0h9M37 38h1m3 0h5m2 0h1m1 0h2m4 0h1m1 0h2m1 0h1m1 0h2m4 0h6m1 0h9M35 39h4m1 0h1m1 0h4m1 0h1m1 0h1m1 0h2m2 0h5m2 0h1m1 0h1m3 0h1m1 0h1m1 0h3m2 0h8m2 0h1M36 40h4m5 0h9m1 0h4m3 0h5m5 0h1m4 0h7m2 0h1m1 0h2M38 41h2m5 0h1m1 0h2m1 0h4m2 0h1m5 0h4m1 0h1m3 0h3m1 0h11m2 0h3M35 42h1m2 0h3m1 0h1m4 0h7m3 0h1m2 0h2m1 0h2m1 0h1m4 0h14m1 0h1m2 0h1m1 0h1M38 43h1m2 0h2m3 0h2m1 0h1m2 0h2m3 0h6m1 0h2m1 0h1m3 0h2m2 0h11m4 0h2M35 44h2m4 0h2m2 0h4m1 0h1m1 0h1m2 0h4m2 0h1m1 0h5m1 0h3m1 0h3m1 0h9m4 0h2M41 45h3m2 0h1m1 0h4m2 0h10m1 0h7m1 0h11m1 0h1m5 0h1M40 46h8m1 0h2m1 0h1m2 0h2m2 0h4m1 0h2m2 0h6m1 0h10M37 47h1m1 0h4m1 0h3m3 0h4m2 0h1m1 0h10m2 0h6m1 0h7m1 0h1M36 48h3m1 0h1m1 0h6m2 0h2m1 0h2m1 0h2m1 0h2m3 0h7m2 0h1m1 0h10M36 49h3m1 0h2m2 0h1m1 0h2m4 0h6m1 0h1m1 0h2m1 0h2m2 0h3m2 0h2m2 0h8M36 50h2m1 0h2m3 0h5m1 0h2m2 0h2m1 0h2m1 0h5m3 0h2m2 0h1m1 0h1m1 0h10M37 51h13m1 0h3m1 0h2m1 0h9m1 0h4m1 0h3m1 0h9M36 52h3m1 0h1m1 0h8m3 0h10m1 0h3m1 0h2m1 0h14m1 0h1m2 0h2M36 53h1m2 0h2m1 0h4m1 0h2m3 0h6m1 0h2m1 0h1m2 0h6m1 0h1m1 0h1m1 0h8m1 0h1m2 0h1M36 54h5m1 0h6m3 0h2m1 0h1m3 0h5m3 0h3m1 0h16m3 0h1M36 55h13m1 0h2m1 0h10m1 0h3m1 0h17m3 0h1M36 56h1m1 0h1m1 0h3m1 0h4m1 0h1m5 0h12m1 0h2m1 0h3m1 0h2m1 0h6M36 57h5m1 0h5m1 0h2m4 0h1m1 0h4m1 0h2m1 0h2m2 0h2m1 0h15M37 58h4m1 0h1m1 0h1m1 0h5m2 0h2m1 0h6m3 0h10m1 0h10m1 0h1m2 0h1M36 59h7m1 0h3m2 0h2m2 0h7m1 0h8m1 0h5m1 0h13m1 0h2M36 60h2m1 0h7m1 0h4m1 0h13m1 0h5m1 0h15m1 0h1m2 0h1M36 61h1m1 0h6m1 0h1m1 0h2m2 0h5m2 0h1m1 0h3m1 0h5m2 0h3m1 0h13M36 62h13m2 0h3m3 0h5m1 0h2m1 0h3m3 0h13m1 0h3M35 63h8m1 0h5m3 0h3m2 0h10m1 0h3m1 0h14m1 0h3M35 64h4m2 0h1m1 0h7m2 0h7m1 0h1m2 0h24m1 0h2M36 65h3m5 0h7m2 0h1m2 0h11m1 0h1m1 0h3m1 0h17M36 66h6m2 0h2m1 0h1m1 0h1m1 0h6m5 0h24M37 67h5m1 0h2m2 0h3m1 0h7m3 0h7m1 0h18m1 0h1M36 68h3m1 0h6m1 0h7m1 0h1m1 0h9m1 0h5m1 0h17M36 69h7m1 0h2m1 0h3m1 0h2m1 0h1m2 0h5m1 0h13m1 0h10M35 70h2m3 0h2m1 0h11m1 0h1m2 0h2m1 0h1m1 0h2m1 0h2m1 0h4m1 0h12M36 71h2m2 0h5m1 0h5m1 0h1m6 0h5m1 0h1m1 0h1m1 0h2m1 0h14m1 0h1M37 72h5m1 0h2m3 0h4m8 0h2m1 0h1m1 0h4m1 0h1m1 0h17M37 73h2m1 0h4m5 0h1m1 0h1m9 0h1m1 0h7m1 0h2m1 0h13m2 0h1M37 74h8m2 0h4m5 0h2m1 0h1m1 0h26m2 0h1M36 75h5m1 0h3m2 0h3m3 0h1m1 0h1m1 0h4m1 0h2m1 0h1m1 0h20M35 76h2m1 0h1m1 0h4m3 0h16m3 0h21M39 77h5m1 0h11m1 0h1m1 0h28M40 78h18m1 0h10m1 0h1m1 0h13m2 0h2M37 79h1m2 0h2m1 0h3m1 0h18m1 0h2m1 0h21M36 80h1m1 0h46m1 0h5M39 81h48m1 0h1M36 82h48m1 0h1M36 83h50m2 0h1M35 84h2m1 0h44m1 0h2M35 85h4m1 0h33m1 0h10M36 86h36m1 0h12M36 87h3m1 0h47M36 88h1m1 0h44m2 0h2M38 89h46M38 90h23m1 0h1m2 0h5m1 0h4m1 0h3m1 0h5M39 91h3m1 0h11m2 0h17m2 0h7m1 0h2M40 92h2m1 0h11m1 0h18m3 0h1m1 0h4m1 0h1M36 93h1m2 0h7m1 0h3m2 0h1m3 0h4m1 0h1m1 0h6m1 0h2m3 0h4m2 0h3M35 94h3m2 0h1m2 0h2m2 0h1m8 0h1m1 0h1m4 0h1m5 0h1m1 0h2m1 0h2m3 0h5M36 95h3m3 0h1m5 0h1m6 0h3m10 0h3m2 0h2m4 0h6M38 96h1m2 0h1m1 0h2m10 0h1m12 0h2m4 0h1m3 0h2M37 97h3m2 0h3m23 0h1m8 0h2M36 98h3m2 0h3m15 0h3m15 0h4m1 0h1M36 99h3m3 0h1m41 0h1M37 100h2m37 0h1M75 101h1M75 102h2m3 0h1M55 103h1M36 104h3m16 0h1M36 105h2M41 107h1M36 110h1"/>
<path stroke="#808080" d="M11 1h1M16 3h1M3 5h1m21 0h1M23 6h1M19 7h1m9 0h1M4 8h1m3 0h1m16 0h1m2 0h1M1 9h1m1 0h1m6 0h1m8 0h1M25 10h1m1 0h1M10 11h1m20 0h1M9 12h1m6 0h2m14 0h1M2 13h1m11 0h1m5 0h1M4 14h1m1 0h1m15 0h1m3 0h2m2 0h1M9 15h1m2 0h1m4 0h1m14 0h1M28 16h1M5 17h1m1 0h1m6 0h1m1 0h2m4 0h1M13 18h1M2 19h1m7 0h1m4 0h1m3 0h1m1 0h1m12 0h1M6 20h1m19 0h1M4 21h1m14 0h1M32 22h1M17 23h1M17 24h1M11 25h1M29 26h1M1 27h1M2 28h1m2 0h1m10 0h1M5 30h1M24 32h1"/>
<path stroke="#4a4a4a" d="M10 15h1m10 0h1M6 16h1m4 0h1m8 0h1m4 0h2M21 17h1m4 0h1M18 19h1m5 0h2m4 0h1m4 0h1M16 20h2m4 0h2m5 0h2M6 21h1m3 0h1m5 0h1m18 0h1M9 22h1m9 0h1m1 0h1m1 0h2m1 0h1m1 0h1M11 23h2m7 0h1m1 0h1m3 0h1m3 0h1m3 0h1M2 24h2m4 0h2m5 0h1m4 0h1m7 0h1M3 25h1m15 0h1m1 0h1m1 0h1m5 0h1m3 0h1M8 26h1m7 0h1m1 0h2m11 0h1m2 0h1M6 27h1m1 0h1m5 0h1m7 0h1m4 0h1m3 0h1m3 0h1M7 28h1m12 0h1m1 0h1m5 0h1m4 0h2M9 29h1m5 0h1m2 0h1m1 0h1m1 0h1m1 0h1m5 0h1M1 30h2m3 0h2m1 0h1m1 0h1m20 0h1M1 31h1m8 0h1m12 0h1m5 0h1m1 0h1m2 0h1M3 32h3m20 0h1m7 0h1M2 33h1m7 0h1m1 0h1m13 0h1m1 0h1m6 0h1M1 34h1m8 0h1m7 0h1m9 0h1m4 0h2M20 35h1M18 36h1m12 0h1m1 0h1M1 37h1m30 0h1M27 38h1M32 39h2M3 42h1M1 46h1m33 0h1M1 48h1M1 50h1M1 55h1M1 62h1m31 0h1"/>
<path stroke="#1a1a1a" d="M6 22h1m4 0h1m15 0h1M5 23h3m2 0h1m13 0h1m3 0h2m2 0h1M4 24h1m1 0h1m16 0h3m4 0h4M5 25h3m6 0h2m9 0h1m5 0h1M6 26h1m5 0h2m1 0h1m5 0h1m2 0h3M10 27h3m7 0h2m3 0h1M9 28h4m12 0h2m4 0h2M12 29h1m12 0h3m3 0h1M12 30h2m1 0h4m1 0h1m1 0h1m4 0h2M7 31h2m4 0h2m1 0h2m1 0h4m4 0h2M8 32h2m3 0h1m1 0h2m1 0h2m1 0h1m7 0h1m1 0h3M6 33h2m6 0h1m1 0h1m1 0h1m1 0h3m7 0h3M3 34h6m3 0h4m1 0h1m1 0h1m2 0h5m2 0h1m1 0h2M2 35h2m1 0h5m2 0h5m5 0h5m1 0h1m1 0h1M2 36h16m2 0h5m2 0h3m5 0h1M3 37h2m1 0h3m1 0h8m1 0h4m1 0h1m1 0h1m2 0h2m3 0h2M1 38h2m4 0h2m2 0h5m1 0h1m1 0h8m2 0h2m2 0h3M1 39h7m2 0h2m1 0h1m2 0h7m2 0h1m1 0h1m2 0h1M1 40h11m2 0h3m1 0h1m1 0h3m1 0h1m1 0h1m1 0h3m4 0h1M1 41h2m2 0h14m2 0h1m1 0h5m1 0h1m1 0h3m1 0h1M1 42h1m3 0h5m1 0h1m1 0h22M1 43h3m1 0h1m1 0h2m1 0h3m1 0h1m1 0h1m1 0h12m1 0h1m1 0h3M1 44h3m1 0h9m1 0h3m1 0h3m1 0h1m1 0h4m1 0h5M1 45h18m1 0h2m1 0h4m2 0h2m1 0h3M3 46h12m1 0h1m1 0h3m1 0h11M2 47h22m1 0h6m1 0h4M2 48h1m1 0h5m1 0h7m1 0h9m1 0h2m1 0h5M2 49h5m1 0h4m1 0h14m2 0h5m1 0h1M3 50h3m1 0h2m1 0h4m1 0h10m1 0h2m1 0h2m2 0h1M2 51h3m1 0h13m1 0h11m1 0h3M1 52h15m1 0h1m1 0h7m1 0h4m1 0h4M1 53h2m1 0h3m1 0h5m1 0h9m1 0h4m3 0h4M1 54h1m2 0h32M2 55h6m1 0h4m1 0h11m1 0h4m1 0h1m1 0h3M2 56h16m1 0h1m1 0h4m1 0h3m1 0h6M1 57h2m1 0h7m1 0h11m1 0h8m1 0h2M1 58h6m1 0h28M1 59h22m1 0h9m1 0h2M1 60h25m1 0h1m1 0h2m1 0h2m1 0h1M1 61h4m1 0h26m1 0h1M2 62h12m1 0h7m2 0h9m1 0h2"/>
</g>
</g>
<path d="M245 146.8V96" stroke="#0c0c0c" stroke-width="2.7" stroke-dasharray="2.7 2.6" fill="none"/>
<path d="M204.5 33.2H323.5V147.3" stroke="#222" stroke-width="1" fill="none"/>
<path d="M209.5 33.2V147.3H323.5M209.5 147.3h-5M209.5 147.3v4M209.5 118.78h-5M238 147.3v4M209.5 90.25h-5M266.5 147.3v4M209.5 61.73h-5M295 147.3v4M209.5 33.2h-5M323.5 147.3v4" stroke="#111" stroke-width="1.3" fill="none"/>
<path d="M209.5 138.71h-2M218.08 147.3v2M209.5 133.69h-2M223.1 147.3v2M209.5 130.13h-2M226.66 147.3v2M209.5 127.36h-2M229.42 147.3v2M209.5 125.1h-2M231.68 147.3v2M209.5 123.19h-2M233.59 147.3v2M209.5 121.54h-2M235.24 147.3v2M209.5 120.08h-2M236.7 147.3v2M209.5 110.19h-2M246.58 147.3v2M209.5 105.17h-2M251.6 147.3v2M209.5 101.6h-2M255.16 147.3v2M209.5 98.84h-2M257.92 147.3v2M209.5 96.58h-2M260.18 147.3v2M209.5 94.67h-2M262.09 147.3v2M209.5 93.01h-2M263.74 147.3v2M209.5 91.56h-2M265.2 147.3v2M209.5 81.66h-2M275.08 147.3v2M209.5 76.64h-2M280.1 147.3v2M209.5 73.08h-2M283.66 147.3v2M209.5 70.31h-2M286.42 147.3v2M209.5 68.05h-2M288.68 147.3v2M209.5 66.14h-2M290.59 147.3v2M209.5 64.49h-2M292.24 147.3v2M209.5 63.03h-2M293.7 147.3v2M209.5 53.14h-2M303.58 147.3v2M209.5 48.12h-2M308.6 147.3v2M209.5 44.55h-2M312.16 147.3v2M209.5 41.79h-2M314.92 147.3v2M209.5 39.53h-2M317.18 147.3v2M209.5 37.62h-2M319.09 147.3v2M209.5 35.96h-2M320.74 147.3v2M209.5 34.51h-2M322.2 147.3v2" stroke="#222" stroke-width="0.6" fill="none"/>
<text transform="translate(202.3,147.9) rotate(-90)" font-family='"Liberation Sans",Arial,sans-serif' font-weight="bold" font-size="8.1" text-anchor="middle" fill="#111">10<tspan dy="-2.4" font-size="6">0</tspan></text>
<text transform="translate(202.3,119.38) rotate(-90)" font-family='"Liberation Sans",Arial,sans-serif' font-weight="bold" font-size="8.1" text-anchor="middle" fill="#111">10<tspan dy="-2.4" font-size="6">1</tspan></text>
<text transform="translate(202.3,90.85) rotate(-90)" font-family='"Liberation Sans",Arial,sans-serif' font-weight="bold" font-size="8.1" text-anchor="middle" fill="#111">10<tspan dy="-2.4" font-size="6">2</tspan></text>
<text transform="translate(202.3,62.33) rotate(-90)" font-family='"Liberation Sans",Arial,sans-serif' font-weight="bold" font-size="8.1" text-anchor="middle" fill="#111">10<tspan dy="-2.4" font-size="6">3</tspan></text>
<text transform="translate(202.3,33.8) rotate(-90)" font-family='"Liberation Sans",Arial,sans-serif' font-weight="bold" font-size="8.1" text-anchor="middle" fill="#111">10<tspan dy="-2.4" font-size="6">4</tspan></text>
<text x="205.7" y="162.1" font-family='"Liberation Serif","Times New Roman",serif' font-size="7.6" fill="#333" letter-spacing=".1">10<tspan dx="1.2" dy="-2.1" font-size="6">0</tspan></text>
<text x="234.2" y="162.1" font-family='"Liberation Serif","Times New Roman",serif' font-size="7.6" fill="#333" letter-spacing=".1">10<tspan dx="1.2" dy="-2.1" font-size="6">1</tspan></text>
<text x="262.7" y="162.1" font-family='"Liberation Serif","Times New Roman",serif' font-size="7.6" fill="#333" letter-spacing=".1">10<tspan dx="1.2" dy="-2.1" font-size="6">2</tspan></text>
<text x="291.2" y="162.1" font-family='"Liberation Serif","Times New Roman",serif' font-size="7.6" fill="#333" letter-spacing=".1">10<tspan dx="1.2" dy="-2.1" font-size="6">3</tspan></text>
<text x="319.7" y="162.1" font-family='"Liberation Serif","Times New Roman",serif' font-size="7.6" fill="#333" letter-spacing=".1">10<tspan dx="1.2" dy="-2.1" font-size="6">4</tspan></text>
<text transform="translate(190.7,139.3) rotate(-90)" font-family='"Liberation Serif","Times New Roman",serif' font-weight="bold" font-size="11" fill="#111" stroke="#111" stroke-width=".25">Annexin V PE</text>
<path d="M186.2 67.2V50.2" stroke="#111" stroke-width="1.8" fill="none"/>
<path d="M186.2 45.8l-2.6 5.4h5.2z" fill="#111"/>
<text x="210.1" y="174.9" font-family='"Liberation Serif","Times New Roman",serif' font-size="8.8" fill="#111">7 AAD</text>
<path d="M238.5 173.1H256.5" stroke="#111" stroke-width="1.8" fill="none"/>
<path d="M260.9 173.1l-5.6 -2.8v5.6z" fill="#111"/>
<text x="210.1" y="189.3" font-family='"Liberation Serif","Times New Roman",serif' font-size="12.3" fill="#111">Bortezomib 1nM + PHA</text>
<text x="216.3" y="137.4" font-family='"Liberation Serif","Times New Roman",serif' font-weight="bold" font-size="12.3" fill="#000" stroke="#000" stroke-width=".35">56%</text>
<g transform="translate(390,33.5)">
<rect x="0" y="59.2" width="29.5" height="54.6" fill="#b6b6b6"/>
<g transform="translate(0,.5)" fill="none" shape-rendering="crispEdges">
<path stroke="#dcdcdc" d="M7 62h1m9 0h1m5 0h1M10 63h1m4 0h2M1 64h1m21 0h2M4 65h2m12 0h1m1 0h1m2 0h3M4 66h1m11 0h1m6 0h1M1 67h1m11 0h1m1 0h1M17 68h1m7 0h1M1 70h1m2 0h1m5 0h4m4 0h1m4 0h2M3 71h1m1 0h1m5 0h1m5 0h1m5 0h1m2 0h1M9 72h1M2 73h2m3 0h1m5 0h1m1 0h1m5 0h1m1 0h1M10 74h1m4 0h1m2 0h1m7 0h1M3 75h1m4 0h1m1 0h1m6 0h1m7 0h1M12 76h1m13 0h1M3 77h1m16 0h1m4 0h1M10 78h1m5 0h1m6 0h1m4 0h1M6 79h1m2 0h3m1 0h1m4 0h2m1 0h1M5 80h1m4 0h1m1 0h1m2 0h2m5 0h2M3 81h1m1 0h1m10 0h1m10 0h1M4 82h1m10 0h1m2 0h1M10 83h1m2 0h1m9 0h1m2 0h1M3 84h1m8 0h1m2 0h1m6 0h1m1 0h2M3 85h1m10 0h1m8 0h2m2 0h1M15 86h1m2 0h1m1 0h1m3 0h1M1 87h1m1 0h1m2 0h1m4 0h1m4 0h1m7 0h1M2 88h1m3 0h1m6 0h1m2 0h1m2 0h1m1 0h1M10 89h2m1 0h1m1 0h1M7 90h1m9 0h3m3 0h1M12 91h1m2 0h2m7 0h2M2 92h1m2 0h1m1 0h1m4 0h1m5 0h1M3 93h1m1 0h1m6 0h1m3 0h1m5 0h3M6 94h1m7 0h2m1 0h1m3 0h1M2 95h1m5 0h1m2 0h1m1 0h2m4 0h2m2 0h1M5 97h3m2 0h1m5 0h1m1 0h1m2 0h1M15 98h1m7 0h1M12 99h1m5 0h1m2 0h1M12 100h1m12 0h1M4 101h1m4 0h1m5 0h1M17 102h3M5 103h2m4 0h1m1 0h1m3 0h1m2 0h1m2 0h1M2 104h1m15 0h1m6 0h1M25 105h1M1 106h1m8 0h2m3 0h1M8 107h1m3 0h1m3 0h1m4 0h1m5 0h1M4 108h1m8 0h1m12 0h1M10 109h1m3 0h1m1 0h1m8 0h1M9 110h1m3 0h1m4 0h1m1 0h1M4 111h2m1 0h1m2 0h2m1 0h1m1 0h1m1 0h1M8 112h1m1 0h1m2 0h1m2 0h1m2 0h1"/>
<path stroke="#9a9a9a" d="M48 0h1m8 0h1m9 0h1m3 0h1m6 0h1m1 0h1M33 1h1m9 0h1M51 2h1m1 0h1m7 0h1m13 0h1M32 3h1m3 0h1m8 0h1m7 0h1m3 0h1m5 0h1m9 0h1m3 0h1m19 0h1M50 4h1m10 0h1m4 0h1m2 0h1m11 0h1m6 0h1M32 5h2m3 0h1m3 0h1m10 0h1m1 0h1m4 0h1m4 0h1m9 0h1m14 0h1M37 6h1m16 0h1m7 0h1m3 0h1m4 0h1M58 7h1m23 0h1m4 0h1m1 0h1M35 8h1m6 0h2m1 0h1m2 0h1m1 0h1m12 0h1m10 0h1m26 0h1M38 9h1m16 0h1m5 0h1m7 0h1M45 10h1m10 0h1m1 0h1m17 0h1m16 0h1m10 0h1M41 11h1m1 0h1m3 0h1m1 0h1m16 0h1m29 0h1m3 0h1M35 12h2M43 13h1m22 0h1m21 0h1M34 14h1m17 0h1m1 0h1m3 0h1m25 0h1m1 0h1m1 0h1M44 15h2m1 0h1m34 0h1M40 16h1M46 17h1m2 0h1m11 0h1m25 0h1m1 0h1m4 0h1M35 18h1M85 19h1m1 0h2m2 0h1m13 0h1M83 20h1m6 0h1M51 21h1M35 22h1m3 0h1m44 0h1m10 0h1m1 0h1M91 23h1M61 24h1M90 25h1m1 0h1M94 26h1m9 0h1M90 27h1M93 29h1M91 30h1M94 33h1M103 35h1M100 37h1M91 38h1m2 0h1m2 0h1M100 39h1M93 40h1M92 41h1m4 0h1m1 0h1m2 0h1m3 0h1M96 42h1M100 43h1m2 0h1M94 44h1m3 0h1M99 47h1M90 48h1M95 49h1m3 0h1M93 50h1m10 0h1M106 51h1M96 53h1M104 54h1M92 55h1m4 0h1M97 57h1M95 60h1M97 62h1M92 63h1m1 0h1M101 64h1M97 65h1m4 0h1M96 67h1M95 69h1m2 0h2m9 0h1M97 71h1M94 72h1M100 73h1M96 75h1M93 76h1m5 0h1M95 77h1M92 78h1m9 0h1M98 79h1M98 80h1M103 81h1M93 82h1m1 0h1m2 0h1M92 85h1m9 0h1M30 87h2m65 0h1M35 88h1M32 89h1m63 0h1M91 90h1m6 0h1M34 91h1M87 92h1m1 0h1m1 0h1M31 93h1m52 0h1m10 0h1M35 94h1m17 0h1m34 0h1M31 95h1m24 0h1m22 0h1m12 0h1M37 96h1m6 0h1m18 0h1m5 0h1m16 0h1m8 0h1m3 0h1m5 0h1M39 97h1m6 0h1m24 0h1m11 0h1m2 0h1M30 98h1m5 0h1m9 0h1m14 0h1m13 0h1m5 0h1M38 99h1m3 0h1m1 0h1m38 0h1m1 0h1m5 0h1M31 100h1m17 0h1m31 0h1m12 0h1M29 101h1m12 0h1m8 0h1m1 0h1m6 0h1m14 0h1m3 0h1m6 0h2m10 0h1M44 102h1m1 0h1m3 0h1m11 0h1m8 0h1m5 0h1m4 0h1m1 0h1M39 103h1m16 0h1m5 0h1m4 0h1m5 0h1m1 0h1M31 104h1m11 0h1m1 0h1m31 0h2m11 0h1m2 0h1M29 105h1m19 0h1m2 0h1m1 0h1m7 0h1m11 0h2m6 0h1m2 0h1m11 0h1M37 106h1m30 0h1m9 0h1m6 0h1m15 0h1M46 107h1m5 0h1m3 0h1m36 0h1m2 0h2M57 108h1m22 0h1m24 0h1M31 109h1m13 0h1m14 0h1m6 0h1m8 0h1m11 0h1M39 110h1m2 0h1m3 0h1m2 0h1m29 0h1m1 0h1m23 0h1M30 111h2m8 0h1m23 0h1m10 0h1M55 112h1m28 0h1m7 0h1M39 113h1m12 0h1m32 0h1m3 0h1"/>
<path stroke="#6a6a6a" d="M49 0h1M50 1h1M43 4h2m17 0h1m13 0h1m8 0h2M43 5h1m4 0h2m29 0h1m5 0h2M47 6h1m11 0h1m20 0h1M31 7h3m13 0h1m28 0h2M30 8h1m1 0h1m13 0h1m19 0h2m13 0h1M30 9h1m34 0h1m1 0h1m3 0h2M30 10h1m13 0h1m6 0h1m12 0h1m8 0h1m3 0h1m2 0h1m5 0h2M30 11h1m1 0h1m19 0h1m9 0h1m7 0h2m1 0h2m12 0h1M32 12h1m6 0h1m1 0h1m13 0h2m8 0h1m4 0h1m2 0h1m2 0h1m1 0h2m1 0h2M31 13h1m6 0h2m1 0h1m5 0h4m1 0h1m3 0h1m3 0h2m8 0h1m3 0h1m3 0h1m3 0h1M31 14h2m4 0h1m9 0h1m2 0h1m6 0h1m2 0h1m2 0h1m7 0h1m8 0h1m4 0h1M29 15h1m6 0h2m12 0h1m11 0h2m1 0h1m1 0h1m2 0h1m2 0h1M29 16h4m17 0h3m4 0h2m8 0h2m2 0h1m8 0h1M40 17h1m1 0h2m9 0h1m1 0h1m24 0h1m2 0h1M51 18h1m15 0h1m14 0h2M34 19h1m3 0h2m1 0h1m2 0h1m1 0h1m5 0h2m1 0h1M34 20h1m1 0h2m4 0h1m5 0h2m17 0h1m14 0h1M31 21h1m1 0h1m6 0h1m3 0h2m4 0h1m2 0h1M33 22h1m3 0h1m23 0h1m20 0h1M32 23h1m4 0h1m13 0h1m32 0h1M34 24h1m5 0h1m8 0h1m10 0h1m25 0h1M39 25h1m43 0h2m1 0h1M31 26h1m12 0h1m17 0h1m23 0h1M44 27h1m1 0h1m38 0h2M44 28h1m11 0h1M34 29h1m53 0h1M39 30h1m14 0h2M47 32h1m41 0h1m1 0h1M49 33h1m1 0h1m37 0h1m2 0h1M90 34h1M42 35h1m10 0h1M34 36h2m54 0h1M43 37h1M101 38h1M89 39h2M90 41h1M100 42h1M90 43h1M91 45h1m5 0h1M37 46h1m53 0h6M89 48h1M89 50h1M35 51h1m7 0h2m45 0h2M33 52h1m57 0h1m1 0h1M92 53h2M97 54h1M42 55h1M92 56h1M30 57h1m11 0h1m49 0h1M34 59h1m4 0h1m52 0h2M93 60h1M92 61h1M32 62h1m59 0h1M88 63h1m1 0h1M30 64h1m59 0h1M90 65h1M29 66h1m62 0h2M89 67h1m1 0h1M29 68h1m7 0h1m55 0h1M29 69h1m63 0h1M31 70h1M91 71h2M32 72h1M32 73h1m1 0h1m55 0h2M33 74h1m55 0h1m2 0h1M31 75h1m3 0h1m55 0h2M89 76h1M29 77h1m61 0h1M37 79h1M30 80h1m4 0h1m56 0h1M92 81h1M30 82h1M89 83h1M31 84h1m56 0h1M90 85h1M33 86h3m51 0h1m1 0h2M87 87h1M88 88h1M37 89h1m30 0h1m1 0h1m17 0h1M30 90h1m37 0h1m16 0h1m1 0h1M30 91h2m45 0h1m7 0h1M36 92h1m8 0h1m40 0h1M51 93h1m14 0h1m8 0h1m1 0h3M32 94h1m4 0h2m4 0h2m1 0h1m1 0h1m15 0h1m2 0h1m14 0h1m12 0h1M41 95h1m4 0h1m3 0h1m4 0h1m15 0h1m6 0h1m3 0h1m5 0h1m1 0h1m3 0h1M33 96h2m13 0h1m2 0h1m2 0h1m6 0h1m3 0h1m16 0h1m6 0h2M32 97h1m10 0h1m5 0h1m2 0h1m2 0h2m11 0h1m4 0h1m1 0h1m1 0h4M33 98h2m9 0h1m4 0h1m1 0h1m1 0h1m12 0h1m2 0h1M31 99h1m22 0h1m2 0h1m11 0h1m3 0h1m3 0h2M42 100h1m12 0h1m9 0h1m2 0h1m2 0h1m5 0h1M33 101h1m11 0h1m8 0h2m2 0h2m4 0h1m2 0h1m1 0h1m7 0h1m3 0h1M32 102h2m24 0h1m5 0h1m3 0h1m10 0h1M64 103h2m8 0h1m5 0h1M46 104h2m17 0h1m14 0h1M48 105h1m21 0h3m8 0h1M53 106h1m17 0h1M82 107h2M83 108h1M50 111h1M51 112h1"/>
<path stroke="#3e3e3e" d="M77 5h2M77 6h2M80 7h1M79 8h2M78 9h2M31 10h1m30 0h2m7 0h1m6 0h2M50 11h2m11 0h1M51 12h1M40 13h1m34 0h2m4 0h1M75 14h3M64 15h1m9 0h1m2 0h3M65 16h2m5 0h2m1 0h4M32 17h1m24 0h1m5 0h3m3 0h2m2 0h1m1 0h4M31 18h2m6 0h1m1 0h1m2 0h2m6 0h1m1 0h1m1 0h4m2 0h3m3 0h1m1 0h8m1 0h1M29 19h4m7 0h1m4 0h1m11 0h4m1 0h4m1 0h1m1 0h2m2 0h9M29 20h2m2 0h1m22 0h2m2 0h2m1 0h3m2 0h4m3 0h7M30 21h1m5 0h1m4 0h1m4 0h2m1 0h1m4 0h4m1 0h3m1 0h3m1 0h1m1 0h3m3 0h6M30 22h1m10 0h2m2 0h1m1 0h2m4 0h3m1 0h4m3 0h4m1 0h13M42 23h3m1 0h2m4 0h1m2 0h4m4 0h4m1 0h5m1 0h9M30 24h2m4 0h1m4 0h3m1 0h3m2 0h2m1 0h3m1 0h3m3 0h8m1 0h1m1 0h8m3 0h1M30 25h2m2 0h4m4 0h1m2 0h2m2 0h5m1 0h5m3 0h3m2 0h2m1 0h3m1 0h7M32 26h3m1 0h2m1 0h1m2 0h1m4 0h2m3 0h3m1 0h2m2 0h2m2 0h1m1 0h18M33 27h11m3 0h1m1 0h2m2 0h3m2 0h3m1 0h1m1 0h2m1 0h18M30 28h1m4 0h2m2 0h3m5 0h8m3 0h2m1 0h23m3 0h1M29 29h4m3 0h1m2 0h3m3 0h4m1 0h2m1 0h1m3 0h2m2 0h24m1 0h2M30 30h5m1 0h2m3 0h4m1 0h2m1 0h4m4 0h6m1 0h18m1 0h5M29 31h3m2 0h4m2 0h3m1 0h2m4 0h4m2 0h30m1 0h2M30 32h2m1 0h3m1 0h2m1 0h3m1 0h1m1 0h1m3 0h1m2 0h5m2 0h28m2 0h1M29 33h2m1 0h1m1 0h2m1 0h1m1 0h1m1 0h1m1 0h5m4 0h3m1 0h32m3 0h1M30 34h3m1 0h9m1 0h5m2 0h1m3 0h3m1 0h27m1 0h1M30 35h4m3 0h5m2 0h6m1 0h2m1 0h1m1 0h1m2 0h31M30 36h3m4 0h4m4 0h4m1 0h2m1 0h1m1 0h3m1 0h28m1 0h2M30 37h3m1 0h1m1 0h1m1 0h4m2 0h8m1 0h21m1 0h11m2 0h1M30 38h6m1 0h6m1 0h5m3 0h1m1 0h1m1 0h33M31 39h9m1 0h18m1 0h28M32 40h9m1 0h2m1 0h2m1 0h13m1 0h1m1 0h20m1 0h2M30 41h1m2 0h2m1 0h1m2 0h4m1 0h1m2 0h14m1 0h24m1 0h1m1 0h1M29 42h9m1 0h3m1 0h11m1 0h4m1 0h31M32 43h4m1 0h2m1 0h9m1 0h9m1 0h29M29 44h1m1 0h6m1 0h3m2 0h15m1 0h30M30 45h4m1 0h1m1 0h6m1 0h16m1 0h26m1 0h2M30 46h1m2 0h2m4 0h11m1 0h3m1 0h5m1 0h30M29 47h6m3 0h1m1 0h45m1 0h3M30 48h2m1 0h1m1 0h12m1 0h6m2 0h5m1 0h25m1 0h1M30 49h9m1 0h7m1 0h40M30 50h1m1 0h3m1 0h7m3 0h43M30 51h2m1 0h1m3 0h1m1 0h3m3 0h8m1 0h34M30 52h2m4 0h6m2 0h1m2 0h3m1 0h1m1 0h7m1 0h28M31 53h2m1 0h17m1 0h37M32 54h2m1 0h1m1 0h4m1 0h1m1 0h6m1 0h39M31 55h4m1 0h1m1 0h3m2 0h7m1 0h2m1 0h30m1 0h6M30 56h1m1 0h3m1 0h6m3 0h1m1 0h13m1 0h25m1 0h1m1 0h2M32 57h9m3 0h2m2 0h6m1 0h37M32 58h1m3 0h2m5 0h42m1 0h4m2 0h1M31 59h3m2 0h2m2 0h1m1 0h3m1 0h6m1 0h4m1 0h28m1 0h4M30 60h1m1 0h3m1 0h2m1 0h12m1 0h4m1 0h5m1 0h28M29 61h3m2 0h3m1 0h4m2 0h1m1 0h42m1 0h3M29 62h3m2 0h5m1 0h5m2 0h8m1 0h32m1 0h2M30 63h1m1 0h1m2 0h1m1 0h2m1 0h5m1 0h3m1 0h1m1 0h35M31 64h1m1 0h1m1 0h1m3 0h2m2 0h14m1 0h29m1 0h1M30 65h1m1 0h11m1 0h46M30 66h3m1 0h4m1 0h50M29 67h1m2 0h4m2 0h18m1 0h31m4 0h1M30 68h3m1 0h3m2 0h13m1 0h37M31 69h1m1 0h3m1 0h1m1 0h4m1 0h44m1 0h2M30 70h1m2 0h2m1 0h15m1 0h38m1 0h2M30 71h1m2 0h3m1 0h45m1 0h4m1 0h2M29 72h2m5 0h3m1 0h50M29 73h3m3 0h53M29 74h2m4 0h1m1 0h1m1 0h32m1 0h14m2 0h1M29 75h2m5 0h8m1 0h44M29 76h1m6 0h1m1 0h46m1 0h1m1 0h1M30 77h3m1 0h2m1 0h48m1 0h2m1 0h2M30 78h6m2 0h9m1 0h17m1 0h20m1 0h3M31 79h1m2 0h2m2 0h1m1 0h48m1 0h1M31 80h3m4 0h5m1 0h44m1 0h2M31 81h2m1 0h1m2 0h2m1 0h41m1 0h7m1 0h2M31 82h1m2 0h4m1 0h10m1 0h40M31 83h3m1 0h50m2 0h1M33 84h2m1 0h51M33 85h1m2 0h1m1 0h12m1 0h25m1 0h10M37 86h2m1 0h1m1 0h10m1 0h33M38 87h8m1 0h11m1 0h26M37 88h2m2 0h28m2 0h16M38 89h9m1 0h19m5 0h4m1 0h6m1 0h1m1 0h2M40 90h27m3 0h5m2 0h1m1 0h5M38 91h3m1 0h2m1 0h1m1 0h10m1 0h4m1 0h2m2 0h1m2 0h2m1 0h4m3 0h1m2 0h1M37 92h3m1 0h3m2 0h1m1 0h4m1 0h4m1 0h4m1 0h2m2 0h6m2 0h1m2 0h1m1 0h4M36 93h1m3 0h4m1 0h1m3 0h1m4 0h5m1 0h5m3 0h2m1 0h2m8 0h2M39 94h3m8 0h1m7 0h1m1 0h2m9 0h5M40 95h1m6 0h1m1 0h1m8 0h3m11 0h2m1 0h2M58 96h3m12 0h2m1 0h2M33 97h1m16 0h1m6 0h4m3 0h2M56 98h1m1 0h1m5 0h2m6 0h1M64 99h2m5 0h2M70 100h1"/>
<path stroke="#808080" d="M8 0h1m7 0h1M10 3h1m3 0h1m8 0h1m2 0h1M21 4h1M8 5h1M4 6h1m15 0h1M4 7h1m8 0h1m2 0h1m2 0h1m5 0h2M23 8h1M21 9h1m4 0h1M3 10h1m3 0h2m2 0h1m11 0h1M21 11h1M6 12h1m1 0h2m4 0h1m2 0h1m2 0h1m2 0h1m1 0h2M1 13h1m26 0h1M4 14h1m4 0h2m5 0h1m7 0h1M1 15h2m9 0h1M5 16h1m8 0h1M2 17h1m23 0h1m1 0h1M15 19h1M5 20h1m12 0h1M1 22h1m3 0h1m12 0h1m7 0h1M3 23h1M1 25h1M6 59h1"/>
<path stroke="#4a4a4a" d="M12 9h1m1 0h1m1 0h1M13 10h1m1 0h3M15 12h2M2 13h2m19 0h1M20 14h2m4 0h2M7 15h1m12 0h1m5 0h1M7 16h2m8 0h1m5 0h2M3 17h1m5 0h1m6 0h1m2 0h1m2 0h2M4 18h2m2 0h1m9 0h1m2 0h1M6 19h1m1 0h1m1 0h1m12 0h2m1 0h2M20 20h1m4 0h1M7 21h1m4 0h2m8 0h1m2 0h1M10 22h1m9 0h1m3 0h1m3 0h1M16 23h1m3 0h1M4 24h2m5 0h1m2 0h1m3 0h1M9 25h1M9 26h1m1 0h2M1 27h3m5 0h1M10 28h1m12 0h1m1 0h1M7 29h1m2 0h1m4 0h2M2 30h1m8 0h1M1 32h1M1 33h1m2 0h1m4 0h1M3 35h1m13 0h1M11 36h1m6 0h1M4 37h1M6 38h1m4 0h1M12 40h1M1 44h1m13 0h1M12 48h1M13 49h1M1 51h1m3 0h1M23 54h1M2 59h1m1 0h1m16 0h1"/>
<path stroke="#1a1a1a" d="M4 17h1m12 0h2M21 19h2M7 20h1m1 0h3m3 0h1m5 0h1m6 0h1M8 21h1m1 0h1m3 0h3m4 0h1m7 0h1M8 22h1m2 0h1m2 0h4m3 0h1M6 23h3m3 0h2m8 0h3m3 0h2M7 24h2m3 0h2m7 0h2m1 0h5M6 25h1m3 0h1m4 0h3m1 0h4m1 0h5M2 26h1m2 0h3m6 0h2m1 0h3m1 0h4m1 0h4M5 27h3m4 0h6m2 0h1m1 0h2m1 0h2m2 0h1M4 28h3m5 0h1m1 0h1m2 0h6m5 0h2M5 29h2m5 0h2m5 0h2m4 0h1m1 0h1M3 30h3m2 0h2m3 0h2m2 0h2m1 0h10M3 31h2m2 0h4m2 0h2m1 0h3m1 0h1m1 0h3m1 0h2M3 32h4m1 0h1m2 0h1m1 0h3m1 0h3m1 0h1m2 0h2m1 0h1M2 33h1m3 0h2m2 0h5m1 0h6m1 0h4m1 0h1M2 34h1m3 0h1m1 0h1m2 0h6m2 0h2m1 0h3m2 0h1m1 0h1M1 35h2m2 0h2m1 0h3m2 0h4m3 0h2m1 0h5m1 0h1M1 36h2m2 0h2m1 0h3m2 0h3m4 0h2m1 0h1m1 0h5M1 37h2m3 0h2m1 0h1m2 0h5m2 0h2m1 0h3m1 0h4M1 38h3m4 0h2m2 0h7m1 0h7m1 0h2M2 39h4m3 0h2m2 0h1m1 0h9m1 0h2m1 0h2M2 40h1m2 0h3m1 0h2m3 0h2m1 0h1m1 0h11M1 41h2m2 0h6m1 0h2m1 0h7m1 0h7M1 42h3m1 0h4m1 0h12m1 0h3m1 0h2M1 43h3m1 0h6m2 0h2m1 0h3m1 0h5m1 0h4M3 44h12m2 0h3m1 0h6m1 0h1M2 45h3m1 0h4m1 0h2m5 0h6m2 0h4M1 46h10m1 0h14m1 0h3M1 47h3m1 0h7m1 0h14M1 48h8m5 0h1m1 0h3m2 0h4m2 0h3M2 49h2m1 0h5m5 0h2m1 0h10m1 0h1M2 50h2m2 0h1m1 0h4m2 0h1m1 0h1m1 0h1m2 0h4m2 0h3M2 51h1m3 0h13m1 0h5m1 0h3M1 52h1m3 0h1m2 0h1m2 0h5m1 0h1m1 0h1m1 0h9M1 53h7m1 0h2m1 0h7m1 0h2m3 0h1m2 0h2M1 54h7m1 0h2m1 0h10m2 0h6M1 55h3m2 0h7m1 0h1m1 0h7m2 0h3m1 0h1M1 56h8m1 0h2m2 0h3m1 0h3m2 0h1m1 0h5M1 57h4m1 0h8m1 0h3m1 0h6m2 0h1m1 0h1M1 58h3m1 0h1m2 0h17m1 0h3M9 59h2m2 0h4m1 0h2m3 0h5"/>
</g>
</g>
<path d="M420.8 92.7H390" stroke="#0c0c0c" stroke-width="2.7" stroke-dasharray="2.7 2.6" fill="none"/>
<path d="M419.5 146.8V92.7" stroke="#0c0c0c" stroke-width="2.7" stroke-dasharray="2.7 2.6" fill="none"/>
<path d="M385 33.5H504.4V147.3" stroke="#222" stroke-width="1" fill="none"/>
<path d="M390 33.5V147.3H504.4M390 147.3h-5M390 147.3v4M390 118.85h-5M418.6 147.3v4M390 90.4h-5M447.2 147.3v4M390 61.95h-5M475.8 147.3v4M390 33.5h-5M504.4 147.3v4" stroke="#111" stroke-width="1.3" fill="none"/>
<path d="M390 138.74h-2M398.61 147.3v2M390 133.73h-2M403.65 147.3v2M390 130.17h-2M407.22 147.3v2M390 127.41h-2M409.99 147.3v2M390 125.16h-2M412.26 147.3v2M390 123.26h-2M414.17 147.3v2M390 121.61h-2M415.83 147.3v2M390 120.15h-2M417.29 147.3v2M390 110.29h-2M427.21 147.3v2M390 105.28h-2M432.25 147.3v2M390 101.72h-2M435.82 147.3v2M390 98.96h-2M438.59 147.3v2M390 96.71h-2M440.86 147.3v2M390 94.81h-2M442.77 147.3v2M390 93.16h-2M444.43 147.3v2M390 91.7h-2M445.89 147.3v2M390 81.84h-2M455.81 147.3v2M390 76.83h-2M460.85 147.3v2M390 73.27h-2M464.42 147.3v2M390 70.51h-2M467.19 147.3v2M390 68.26h-2M469.46 147.3v2M390 66.36h-2M471.37 147.3v2M390 64.71h-2M473.03 147.3v2M390 63.25h-2M474.49 147.3v2M390 53.39h-2M484.41 147.3v2M390 48.38h-2M489.45 147.3v2M390 44.82h-2M493.02 147.3v2M390 42.06h-2M495.79 147.3v2M390 39.81h-2M498.06 147.3v2M390 37.91h-2M499.97 147.3v2M390 36.26h-2M501.63 147.3v2M390 34.8h-2M503.09 147.3v2" stroke="#222" stroke-width="0.6" fill="none"/>
<text transform="translate(382.8,147.9) rotate(-90)" font-family='"Liberation Sans",Arial,sans-serif' font-weight="bold" font-size="8.1" text-anchor="middle" fill="#111">10<tspan dy="-2.4" font-size="6">0</tspan></text>
<text transform="translate(382.8,119.45) rotate(-90)" font-family='"Liberation Sans",Arial,sans-serif' font-weight="bold" font-size="8.1" text-anchor="middle" fill="#111">10<tspan dy="-2.4" font-size="6">1</tspan></text>
<text transform="translate(382.8,91) rotate(-90)" font-family='"Liberation Sans",Arial,sans-serif' font-weight="bold" font-size="8.1" text-anchor="middle" fill="#111">10<tspan dy="-2.4" font-size="6">2</tspan></text>
<text transform="translate(382.8,62.55) rotate(-90)" font-family='"Liberation Sans",Arial,sans-serif' font-weight="bold" font-size="8.1" text-anchor="middle" fill="#111">10<tspan dy="-2.4" font-size="6">3</tspan></text>
<text transform="translate(382.8,34.1) rotate(-90)" font-family='"Liberation Sans",Arial,sans-serif' font-weight="bold" font-size="8.1" text-anchor="middle" fill="#111">10<tspan dy="-2.4" font-size="6">4</tspan></text>
<text x="386.2" y="162.1" font-family='"Liberation Serif","Times New Roman",serif' font-size="7.6" fill="#333" letter-spacing=".1">10<tspan dx="1.2" dy="-2.1" font-size="6">0</tspan></text>
<text x="414.8" y="162.1" font-family='"Liberation Serif","Times New Roman",serif' font-size="7.6" fill="#333" letter-spacing=".1">10<tspan dx="1.2" dy="-2.1" font-size="6">1</tspan></text>
<text x="443.4" y="162.1" font-family='"Liberation Serif","Times New Roman",serif' font-size="7.6" fill="#333" letter-spacing=".1">10<tspan dx="1.2" dy="-2.1" font-size="6">2</tspan></text>
<text x="472" y="162.1" font-family='"Liberation Serif","Times New Roman",serif' font-size="7.6" fill="#333" letter-spacing=".1">10<tspan dx="1.2" dy="-2.1" font-size="6">3</tspan></text>
<text x="500.6" y="162.1" font-family='"Liberation Serif","Times New Roman",serif' font-size="7.6" fill="#333" letter-spacing=".1">10<tspan dx="1.2" dy="-2.1" font-size="6">4</tspan></text>
<text transform="translate(371.2,139.3) rotate(-90)" font-family='"Liberation Serif","Times New Roman",serif' font-weight="bold" font-size="11" fill="#111" stroke="#111" stroke-width=".25">Annexin V PE</text>
<path d="M366.7 67.5V50.5" stroke="#111" stroke-width="1.8" fill="none"/>
<path d="M366.7 46.1l-2.6 5.4h5.2z" fill="#111"/>
<text x="390.6" y="174.9" font-family='"Liberation Serif","Times New Roman",serif' font-size="8.8" fill="#111">7 AAD</text>
<path d="M419 173.1H437" stroke="#111" stroke-width="1.8" fill="none"/>
<path d="M441.4 173.1l-5.6 -2.8v5.6z" fill="#111"/>
<text x="390.6" y="189.3" font-family='"Liberation Serif","Times New Roman",serif' font-size="12.3" fill="#111">Bortezomib 10nM + PHA</text>
<text x="391.6" y="135.4" font-family='"Liberation Serif","Times New Roman",serif' font-weight="bold" font-size="12.8" fill="#000" stroke="#000" stroke-width=".35">33%</text>
<g transform="translate(113.5,214.2)">
<rect x="0" y="58.3" width="38.1" height="55.6" fill="#c4c4c4"/>
<g transform="translate(0,.5)" fill="none" shape-rendering="crispEdges">
<path stroke="#dcdcdc" d="M2 59h3m4 0h1m8 0h1m2 0h1M6 60h1m1 0h2m4 0h1m11 0h1m3 0h1m1 0h3M1 61h1m3 0h1m1 0h1m7 0h2m2 0h1m3 0h1m2 0h1m5 0h1m3 0h1M1 62h1m5 0h1m3 0h1m2 0h1m2 0h1m2 0h1m3 0h2m10 0h1M2 63h3m1 0h1m1 0h1m6 0h1m7 0h1m2 0h1m1 0h1m2 0h1m2 0h1M8 64h1m10 0h1m1 0h1m2 0h1m3 0h2m3 0h1M2 65h1m3 0h2m3 0h2m1 0h2m6 0h1m2 0h2M1 66h1m16 0h1m2 0h2m4 0h1m3 0h1m2 0h2M2 67h1m1 0h1m4 0h1m5 0h1m2 0h1m3 0h1m1 0h2m6 0h1m2 0h1M6 68h1m5 0h1m6 0h2m2 0h1m8 0h1M10 69h1m2 0h1m3 0h2m3 0h1m3 0h1m3 0h1m1 0h1m2 0h1M2 70h1m6 0h1m1 0h1m4 0h2m1 0h1m4 0h1m7 0h1m1 0h2M8 71h1m9 0h1m1 0h1m3 0h1m2 0h1m3 0h1m1 0h1M4 72h1m7 0h1m4 0h1m4 0h1m2 0h1m1 0h2m6 0h1M4 73h3m1 0h1m6 0h1m6 0h3m1 0h1m1 0h1m1 0h1m1 0h1m3 0h1M1 74h1m3 0h1m4 0h1m3 0h1m2 0h1m2 0h2m1 0h1m1 0h1m2 0h1m2 0h1m3 0h1M12 75h1m4 0h1m4 0h1m4 0h1m1 0h2M5 76h1m18 0h1m4 0h1m2 0h1M1 77h2m16 0h1m4 0h1m2 0h1m5 0h1M9 78h1m3 0h1m6 0h1m1 0h2m6 0h1m2 0h1M1 79h1m2 0h1m2 0h1m4 0h1m1 0h1m10 0h1m4 0h1M1 80h1m2 0h1m4 0h1m13 0h1m9 0h1M1 81h1m7 0h1m3 0h1m2 0h1m2 0h1m7 0h1m6 0h1M3 82h1m15 0h1m1 0h1m1 0h1m1 0h1m1 0h1m4 0h2M2 83h2m2 0h1m3 0h1m6 0h1m3 0h1m7 0h1m1 0h1M7 84h1m5 0h1m3 0h1m1 0h1m1 0h3m11 0h1M2 85h1m3 0h1m13 0h1m6 0h1m2 0h1m5 0h1M1 86h1m7 0h3m5 0h1m3 0h2m1 0h1m6 0h1m2 0h1M4 87h4m2 0h2m5 0h1m9 0h1m5 0h2M1 88h2m4 0h1m1 0h1m1 0h1m1 0h2m1 0h1m8 0h1m7 0h2M1 89h1m4 0h1m3 0h1m9 0h1m5 0h1m1 0h2m1 0h1m1 0h1M1 90h1m6 0h2m4 0h1m9 0h1m3 0h1m4 0h1m1 0h2M1 91h1m1 0h2m1 0h1m5 0h1m4 0h2m1 0h2m11 0h3M2 92h1m3 0h1m6 0h1m6 0h2m2 0h2m1 0h1m2 0h1m1 0h1M5 93h1m2 0h2m8 0h1m3 0h3M1 94h2m5 0h1m1 0h2m11 0h1m3 0h1m3 0h2M4 95h1m3 0h1m1 0h2m1 0h1m1 0h1m3 0h1m1 0h1m3 0h1m1 0h1m4 0h1m2 0h1M3 96h1m6 0h1m5 0h1m1 0h4m2 0h1m2 0h1m5 0h4M4 97h1m4 0h1m1 0h2m2 0h1m7 0h1m3 0h1m5 0h1M6 98h1m3 0h1m3 0h2m5 0h1m5 0h1m5 0h1m2 0h1M1 99h1m1 0h1m2 0h1m1 0h2m2 0h1m5 0h1m1 0h2m3 0h1m3 0h1m4 0h2M4 100h3m2 0h1m11 0h1m1 0h2m1 0h1m1 0h2m1 0h4M2 101h1m2 0h2m1 0h4m2 0h1m2 0h1m2 0h3m1 0h1m2 0h1m1 0h1m6 0h1M2 102h3m1 0h1m1 0h1m1 0h2m1 0h1m1 0h1m2 0h3m1 0h5m1 0h1m5 0h1M1 103h1m3 0h1m4 0h1m7 0h2m3 0h1m2 0h1m1 0h1m2 0h1M1 104h1m1 0h3m4 0h1m1 0h1m1 0h1m4 0h3m2 0h4m2 0h1m2 0h1M6 105h1m3 0h1m1 0h1m1 0h1m5 0h1m1 0h1m6 0h1m2 0h2M6 106h1m1 0h1m1 0h1m1 0h1m4 0h2m4 0h3m4 0h2m2 0h1M5 107h3m7 0h1m2 0h1m2 0h1m6 0h1m2 0h1M8 108h2m1 0h3m1 0h1m4 0h2m3 0h1m5 0h3M1 109h2m3 0h1m3 0h1m1 0h1m3 0h2m1 0h1m5 0h1m1 0h1m5 0h1m1 0h1M3 110h1m8 0h1m3 0h1m1 0h1m1 0h1m1 0h1m4 0h4M6 111h2m5 0h2m1 0h2m1 0h1m1 0h1m9 0h1m2 0h2M1 112h1m1 0h1m1 0h2m1 0h1m2 0h1m2 0h2m3 0h1m5 0h2m2 0h1M5 113h2m2 0h1m8 0h2m2 0h1m3 0h1m2 0h1m1 0h1"/>
<path stroke="#9a9a9a" d="M44 0h2m6 0h1m20 0h1m4 0h1m17 0h1M39 1h1m26 0h1m10 0h1m13 0h1m7 0h1M44 2h2m14 0h1m3 0h1m19 0h1m4 0h1M38 3h1m10 0h1m19 0h1m12 0h1m18 0h1M45 4h1m1 0h1m3 0h1m2 0h1m4 0h1m19 0h1m12 0h1m1 0h1M38 5h1m1 0h1m61 0h1M48 6h1m43 0h1M42 7h1m15 0h1m36 0h1m2 0h1M95 8h1m4 0h1m2 0h1M43 9h1m10 0h1m29 0h1m1 0h1m6 0h1m3 0h1m4 0h1M39 10h1m33 0h1m5 0h1m15 0h1m3 0h1M43 11h1m5 0h1m2 0h1m30 0h1m1 0h2m14 0h1M41 12h1m7 0h1m6 0h1m39 0h1M39 13h1m53 0h1m7 0h2m7 0h1M42 14h1m52 0h1m12 0h1M39 15h1m2 0h1m55 0h1m1 0h1M63 16h1m40 0h1M38 17h1m60 0h1m2 0h1M97 18h1m6 0h1M93 19h1M79 22h1m24 0h1M101 23h2M102 25h1M94 27h1m6 0h1m6 0h1m1 0h1M106 28h1M103 29h1m5 0h1M106 30h1M104 31h1m3 0h1M102 33h1m1 0h1M106 34h1M96 35h1m1 0h1m1 0h1M105 36h1M99 37h1m2 0h2M106 38h1M101 40h1m1 0h1M99 41h1M101 42h1M108 43h1m2 0h1M97 45h1m6 0h1M106 46h1m4 0h1M106 47h1M109 49h1M104 51h1m7 0h1m1 0h1M103 52h1m2 0h1M99 53h1m8 0h1M105 54h1M112 56h1M100 57h1M98 58h1M96 59h1m3 0h2M98 60h1m7 0h1m6 0h1M95 62h1m2 0h1M96 63h1m2 0h1m2 0h1M109 64h1M100 65h1m2 0h1M108 66h1M99 68h1m4 0h1M103 70h1M93 71h1M101 73h1M94 74h1m4 0h1m4 0h1m2 0h1M105 75h1M95 77h1M91 79h1m2 0h1m5 0h1M102 80h1M91 81h1m5 0h1M93 82h1m1 0h1M95 83h1M92 84h1m7 0h1M96 85h1M38 86h1m54 0h1M38 88h2m54 0h1M42 89h1m49 0h1M42 90h1M38 91h2m4 0h1M41 92h2m57 0h1M38 93h1M94 94h1M38 95h1m58 0h1M45 96h1m2 0h1m7 0h1m5 0h1m1 0h1m5 0h1m11 0h1m8 0h1M40 97h1m3 0h1m3 0h1m9 0h1M52 98h1m1 0h1m1 0h1m3 0h1m10 0h1m1 0h1m6 0h1M43 99h1m31 0h1m6 0h1m6 0h1m5 0h1M39 100h1m12 0h1m13 0h1m9 0h1m2 0h1M40 101h1m7 0h1m4 0h1m2 0h1m1 0h1m4 0h1m9 0h1m7 0h2m7 0h1m11 0h1M42 102h1m2 0h1m3 0h1m1 0h1m8 0h1m6 0h1m10 0h1m7 0h1m6 0h1M54 103h1m18 0h1m6 0h1M60 104h1m6 0h1m26 0h1M41 105h1m11 0h1m18 0h1m1 0h1m14 0h1M47 106h1m6 0h1m10 0h1m16 0h1m1 0h1m1 0h1M62 107h1m25 0h1M38 108h1m22 0h1m6 0h1m4 0h1m23 0h1M41 109h1m22 0h1m23 0h1m1 0h1M55 110h1m1 0h1m7 0h1m17 0h1M67 111h1m9 0h1m17 0h1m1 0h1M38 112h1m21 0h1m23 0h1m14 0h1M41 113h1m14 0h1m1 0h1m4 0h1m6 0h1m5 0h1m4 0h1m4 0h1"/>
<path stroke="#6a6a6a" d="M75 0h1m4 0h2M70 1h2m3 0h1m4 0h1M55 2h1m15 0h1m1 0h1M55 3h2m6 0h1m2 0h1m4 0h1m3 0h1m7 0h1m2 0h1M46 4h1m17 0h1m7 0h1m2 0h1m8 0h1m3 0h2m12 0h1M60 5h2m5 0h1m4 0h1m3 0h1m10 0h1m1 0h1m7 0h2M39 6h1m11 0h1m3 0h2m5 0h1m1 0h1m6 0h2m2 0h1m2 0h1m18 0h1M45 7h1m3 0h1m5 0h1m5 0h1m7 0h1m5 0h1m1 0h3m3 0h1M45 8h1m1 0h2m8 0h1m4 0h1m1 0h1m7 0h3m1 0h1m10 0h1M47 9h1m9 0h1m13 0h1m10 0h1m5 0h2m8 0h1M45 10h1m5 0h1m2 0h1m1 0h1m1 0h1m3 0h2m7 0h1m4 0h2m3 0h1M44 11h1m1 0h1m13 0h1m10 0h1m16 0h1m1 0h1m3 0h1M47 12h1m6 0h1m3 0h1m3 0h1m14 0h1m1 0h1m14 0h1m3 0h1M44 13h1m1 0h1m18 0h1m9 0h1m9 0h1m3 0h2m6 0h3M39 14h1m8 0h1m14 0h1m27 0h1M48 15h1m12 0h1m1 0h1m17 0h1m10 0h1m8 0h1M48 16h1m12 0h1m3 0h1m18 0h1m5 0h1m1 0h1m9 0h1M39 17h2m1 0h1m6 0h1m32 0h1m8 0h2M40 18h1m6 0h1m6 0h1m7 0h1M38 19h1m52 0h1M43 20h1m34 0h2m1 0h1m9 0h1m2 0h1m4 0h1m2 0h2M91 21h1m1 0h1m4 0h2m2 0h1m1 0h1M77 22h1m3 0h1m13 0h1M83 23h1m8 0h1m4 0h1M44 24h1M93 25h1M44 26h1m54 0h1m9 0h1M97 27h1M97 28h1m1 0h1M96 29h1m3 0h1M93 30h1m2 0h2m2 0h1M46 31h1m47 0h1m5 0h2m1 0h1M91 32h1m7 0h1m2 0h1M96 33h2m2 0h1M98 34h1m1 0h1M107 35h1M106 36h1M94 37h1M97 38h1M95 41h1m10 0h2M96 42h2m8 0h1M95 43h1m2 0h2m1 0h1M94 44h1m7 0h2M98 45h3M45 47h1m51 0h1m2 0h1M94 48h1m1 0h1m1 0h4M39 49h1m70 0h1M95 50h1m1 0h2m12 0h1M95 51h1m1 0h2M95 53h1m9 0h1M98 54h1M96 55h1m2 0h1M99 56h1M95 57h1M94 58h1M95 59h1M93 60h2M38 64h1m63 0h1M93 65h1M38 66h1M94 67h1M95 68h3M38 69h1m58 0h1m1 0h1M91 70h1m7 0h2M99 71h1M38 73h1m53 0h2M39 74h1M38 76h3m50 0h1M91 77h1M91 78h1M38 79h1M39 83h1M38 85h1m1 0h1M90 86h1M41 87h1m47 0h1M44 89h1m46 0h1M44 90h1M46 92h1m42 0h1M55 93h1m7 0h1m1 0h1m16 0h2m2 0h1M39 94h1m8 0h2m4 0h1m9 0h1m5 0h1m6 0h1m2 0h1m1 0h1M66 95h1m12 0h1M50 96h1m1 0h1m18 0h1m5 0h1m1 0h1m4 0h2M52 97h1m4 0h1m8 0h2m5 0h1m3 0h1M64 98h1m3 0h1m1 0h1m6 0h1m5 0h2m1 0h2m1 0h1M62 99h2m1 0h1m2 0h2m10 0h1M62 100h1m21 0h1m1 0h1M85 101h1M55 102h1m16 0h1m15 0h2M89 103h1M56 104h1m31 0h1M56 105h2m29 0h1M85 108h1M85 109h2M57 111h1M56 112h1"/>
<path stroke="#3e3e3e" d="M74 1h1M67 2h1m6 0h1M67 3h2m5 0h1M67 4h1m17 0h2M64 5h2m18 0h1m1 0h1M61 6h1m3 0h1m1 0h1m16 0h2M50 7h3m13 0h3m3 0h1m11 0h1M46 8h1m4 0h2m12 0h2m2 0h1m13 0h1M51 9h2m10 0h1m1 0h1m2 0h2M66 10h4m19 0h2M55 11h1m3 0h1m3 0h1m1 0h2m1 0h3m3 0h1m1 0h2m2 0h2m7 0h1M60 12h2m2 0h2m1 0h3m2 0h4m5 0h2M51 13h3m5 0h3m2 0h1m3 0h1m2 0h3m2 0h1m2 0h1m1 0h1m1 0h2m2 0h2M44 14h2m3 0h4m1 0h4m2 0h2m5 0h3m1 0h2m4 0h4m1 0h2m1 0h4M44 15h2m4 0h1m3 0h6m6 0h1m1 0h4m3 0h2m1 0h2m3 0h2m2 0h3M44 16h1m6 0h1m1 0h7m6 0h3m1 0h2m1 0h4m1 0h2m5 0h4M43 17h3m4 0h4m2 0h1m1 0h3m4 0h1m2 0h7m2 0h5m4 0h1m1 0h1M43 18h4m3 0h4m2 0h5m3 0h1m1 0h5m1 0h1m1 0h7m1 0h6m1 0h1M40 19h1m1 0h2m1 0h1m2 0h5m2 0h2m1 0h9m1 0h5m1 0h4m2 0h1m2 0h8M39 20h3m4 0h3m1 0h2m1 0h4m1 0h3m1 0h5m1 0h7m7 0h2m1 0h5M40 21h2m2 0h1m1 0h12m1 0h3m1 0h8m2 0h5m3 0h1m1 0h6M38 22h8m1 0h3m1 0h2m1 0h1m1 0h2m1 0h9m1 0h3m1 0h2m1 0h1m3 0h1m3 0h4m1 0h3m1 0h2M39 23h5m2 0h4m1 0h2m1 0h7m1 0h6m1 0h7m5 0h1m2 0h1m2 0h4m3 0h2M38 24h2m1 0h2m3 0h13m1 0h2m1 0h5m1 0h1m1 0h12m2 0h7m2 0h4M39 25h5m2 0h7m2 0h2m1 0h9m1 0h3m1 0h9m1 0h1m1 0h5m1 0h1m3 0h1m1 0h3M38 26h6m2 0h4m1 0h23m1 0h3m1 0h12m2 0h1m4 0h1M38 27h2m1 0h1m1 0h1m2 0h3m1 0h6m1 0h4m3 0h17m1 0h3m1 0h7m5 0h1M38 28h4m1 0h4m1 0h3m1 0h1m1 0h15m2 0h10m2 0h10M38 29h1m1 0h5m1 0h17m1 0h13m1 0h1m1 0h1m1 0h1m2 0h8M38 30h13m1 0h2m1 0h33m3 0h2M38 31h7m3 0h1m1 0h1m1 0h6m1 0h9m1 0h3m1 0h2m1 0h16M38 32h4m1 0h2m3 0h4m1 0h26m2 0h10m2 0h2M39 33h3m1 0h26m1 0h7m1 0h6m1 0h5m3 0h3M38 34h7m1 0h5m1 0h6m1 0h6m1 0h22m1 0h1m1 0h3m1 0h1M38 35h5m1 0h6m1 0h20m1 0h21M38 36h5m1 0h16m1 0h20m1 0h8m1 0h3M38 37h4m1 0h1m1 0h21m1 0h2m1 0h9m1 0h4m1 0h5m1 0h1m1 0h1M39 38h6m2 0h16m1 0h7m1 0h2m1 0h2m1 0h2m2 0h8m1 0h2m2 0h2M38 39h7m1 0h6m1 0h4m1 0h9m1 0h10m1 0h7m1 0h1m1 0h5m1 0h2M38 40h2m1 0h6m1 0h5m1 0h10m1 0h26m1 0h4M41 41h5m2 0h1m1 0h5m1 0h5m1 0h14m1 0h6m1 0h10M39 42h2m1 0h4m1 0h2m1 0h21m1 0h7m1 0h3m1 0h9m5 0h1M39 43h2m1 0h13m1 0h11m1 0h7m1 0h17M39 44h4m1 0h1m1 0h35m1 0h11m7 0h1M38 45h2m1 0h5m3 0h32m1 0h3m1 0h6m1 0h2M38 46h1m1 0h4m1 0h31m1 0h2m2 0h10m1 0h4M38 47h2m2 0h3m2 0h29m2 0h3m1 0h8m1 0h1m3 0h2M40 48h4m3 0h4m1 0h30m1 0h10M41 49h26m1 0h26M39 50h1m1 0h6m1 0h10m1 0h14m1 0h21M39 51h3m1 0h3m1 0h4m1 0h2m1 0h15m1 0h23M38 52h44m1 0h9m1 0h1M40 53h1m2 0h1m1 0h4m1 0h12m1 0h17m2 0h1m1 0h7m2 0h2M38 54h8m1 0h10m1 0h24m1 0h11m1 0h1M38 55h2m1 0h2m1 0h52M38 56h4m1 0h13m1 0h10m1 0h26m1 0h1M38 57h5m1 0h49m1 0h1M39 58h2m1 0h51M38 59h7m1 0h47M38 60h8m1 0h36m1 0h8M38 61h1m1 0h14m1 0h37M38 62h42m1 0h11M38 63h2m1 0h1m2 0h47M41 64h5m1 0h45M41 65h49m1 0h2M39 66h4m1 0h3m1 0h46M39 67h2m1 0h37m1 0h13M40 68h3m1 0h48M39 69h1m2 0h48M38 70h53M39 71h1m2 0h50M39 72h2m2 0h49M40 73h2m1 0h11m1 0h36M41 74h41m1 0h8M42 75h42m1 0h4m1 0h1M42 76h48M39 77h1m1 0h5m1 0h12m1 0h30M40 78h3m2 0h5m1 0h38M39 79h1m1 0h1m1 0h5m1 0h16m1 0h20m2 0h2M38 80h5m1 0h46M38 81h2m1 0h2m1 0h44m1 0h2M39 82h1m1 0h6m1 0h42M40 83h43m1 0h3m1 0h3M39 84h1m1 0h9m1 0h7m1 0h7m1 0h24M42 85h1m2 0h21m1 0h23M41 86h40m1 0h6M44 87h31m1 0h5m1 0h4m1 0h1M44 88h5m1 0h18m1 0h3m1 0h1m1 0h6m1 0h8M46 89h1m1 0h2m1 0h1m1 0h6m1 0h1m1 0h6m1 0h7m1 0h7m2 0h5M46 90h10m1 0h3m1 0h11m1 0h5m2 0h5m1 0h4M46 91h4m1 0h9m1 0h5m1 0h4m1 0h7m1 0h9M47 92h1m1 0h5m2 0h4m1 0h1m1 0h1m2 0h6m1 0h1m1 0h1m1 0h5m2 0h1m1 0h1M49 93h1m2 0h2m2 0h1m1 0h1m1 0h1m1 0h1m3 0h5m1 0h1m1 0h2m1 0h1m1 0h1m7 0h2M51 94h3m3 0h5m6 0h2m2 0h5m1 0h1m7 0h1m1 0h2M50 95h2m6 0h3m11 0h4m10 0h5M51 96h1m13 0h2m6 0h1m12 0h4M78 97h1m4 0h1m3 0h2M85 99h1"/>
<path stroke="#808080" d="M2 3h1m12 0h1m8 0h1m11 0h1M1 4h1m16 0h1m13 0h1M5 5h1m15 0h1m14 0h1M9 6h1m1 0h1m13 0h1m1 0h1m8 0h1M2 7h1m12 0h1m14 0h1M9 8h1m8 0h1M4 9h1m16 0h1M9 10h1m13 0h1m4 0h1M26 11h1M10 12h1m8 0h1m1 0h2m1 0h1M5 14h1m4 0h1m4 0h1M2 15h1m34 0h1M12 16h1m1 0h1m8 0h1M5 17h1m1 0h1M3 18h1m3 0h1M5 19h1m16 0h1M3 20h1M1 21h1M1 41h1M1 52h1M8 57h1M1 58h1m1 0h1m24 0h1"/>
<path stroke="#4a4a4a" d="M28 3h1M28 4h2M22 6h2M16 7h1m7 0h1m8 0h2M17 8h1m8 0h1m6 0h1m3 0h1M25 9h2m7 0h2m1 0h1M22 10h1m8 0h1M6 11h2m6 0h1m16 0h1m1 0h1M7 12h1m4 0h2m1 0h3m10 0h1m7 0h2M8 13h1m4 0h1m4 0h1m6 0h1m1 0h1m1 0h2m2 0h1M7 14h2m8 0h1m7 0h1M5 15h1m2 0h1m2 0h1m4 0h1m2 0h3m2 0h1m4 0h1M5 16h1m4 0h1m7 0h1m8 0h1m8 0h1M1 17h1m7 0h1m4 0h1m1 0h1m3 0h2m3 0h1m5 0h1m2 0h1M1 18h1m7 0h1m1 0h1m1 0h1m2 0h1m3 0h1m8 0h1M1 19h1m18 0h1m6 0h1m5 0h1m1 0h2M6 20h1m3 0h1m1 0h1m3 0h1m1 0h2m4 0h1m12 0h1M8 21h1m13 0h1m3 0h1m8 0h1M11 22h1m14 0h1m10 0h1M1 24h1M1 26h1m1 0h2m1 0h1M1 27h1M1 28h1m1 0h1M1 30h1M1 32h1M1 36h2M28 37h1M1 38h1M1 39h1M3 41h1m1 0h1M1 42h1M4 43h1m30 0h1M33 44h2M1 46h1m14 0h1M1 49h1M2 50h1M3 51h1m9 0h1M1 53h1m1 0h2M36 55h1M1 56h1m1 0h1m1 0h1m4 0h1m8 0h1m3 0h1M14 57h1m19 0h1m1 0h1M5 58h2m4 0h2m1 0h1m6 0h1m1 0h2m1 0h1m4 0h1"/>
<path stroke="#1a1a1a" d="M35 8h1M36 9h1M32 10h1M32 11h1M27 12h1M26 13h1m7 0h3M30 14h3m1 0h2M18 15h1m11 0h3m1 0h1M17 16h1m3 0h1m4 0h1m4 0h1m2 0h2M26 17h2m7 0h1M2 18h1m7 0h1m4 0h1m10 0h2m2 0h2M11 19h1m2 0h1m11 0h1m2 0h2m1 0h1M13 20h3m9 0h1m3 0h1m1 0h1m1 0h2M4 21h2m4 0h1m3 0h1m1 0h1m2 0h1m3 0h1m1 0h1m2 0h3m1 0h3M3 22h2m1 0h5m2 0h3m1 0h1m1 0h2m2 0h2m3 0h4M2 23h6m1 0h1m2 0h8m1 0h3m3 0h3m1 0h2m1 0h4M2 24h1m4 0h1m1 0h2m2 0h3m2 0h10m2 0h1m1 0h5M2 25h1m4 0h2m1 0h2m3 0h1m2 0h4m1 0h6m1 0h8M7 26h4m1 0h5m1 0h1m2 0h2m1 0h3m1 0h3m2 0h1m2 0h1M4 27h1m1 0h1m1 0h1m1 0h3m1 0h4m1 0h3m1 0h5m2 0h8M5 28h7m1 0h1m1 0h3m1 0h11m1 0h6M2 29h1m1 0h1m1 0h3m1 0h3m1 0h2m1 0h2m1 0h1m2 0h7m1 0h7M2 30h1m1 0h3m2 0h16m1 0h12M2 31h7m1 0h10m1 0h3m1 0h11m1 0h1M4 32h3m1 0h3m1 0h2m1 0h6m1 0h10m1 0h5M1 33h30m1 0h6M1 34h5m1 0h7m1 0h3m1 0h4m2 0h2m3 0h3m2 0h1m1 0h1M2 35h2m1 0h1m1 0h5m1 0h5m1 0h5m1 0h13M4 36h8m1 0h4m1 0h5m1 0h4m1 0h6m2 0h1M4 37h1m1 0h7m1 0h4m2 0h1m1 0h3m5 0h8M2 38h2m1 0h4m2 0h1m1 0h1m1 0h6m1 0h5m2 0h5m1 0h3M3 39h6m1 0h10m1 0h8m1 0h8M3 40h1m1 0h13m1 0h1m1 0h7m1 0h1m1 0h7M4 41h1m2 0h2m1 0h4m2 0h4m1 0h2m1 0h1m2 0h11M3 42h1m3 0h6m1 0h20m1 0h1m1 0h1M1 43h3m2 0h11m2 0h13m4 0h3M1 44h2m1 0h1m1 0h10m2 0h2m1 0h8m1 0h3m4 0h2M2 45h2m1 0h2m1 0h1m1 0h1m1 0h1m1 0h2m2 0h12m1 0h2m4 0h1M2 46h8m2 0h2m3 0h1m1 0h5m1 0h2m1 0h4m1 0h1m2 0h2M2 47h2m1 0h2m1 0h2m2 0h3m2 0h3m1 0h2m2 0h1m1 0h3m1 0h7M2 48h7m1 0h8m1 0h2m1 0h2m1 0h9m1 0h1m1 0h1M5 49h2m1 0h9m1 0h3m1 0h1m1 0h1m1 0h6m1 0h5M5 50h2m1 0h5m1 0h5m1 0h11m3 0h2m1 0h2M5 51h8m4 0h7m1 0h3m1 0h5m1 0h3M4 52h1m1 0h6m3 0h15m2 0h2m2 0h2M6 53h4m1 0h1m1 0h11m1 0h2m1 0h1m1 0h5m1 0h2M2 54h1m2 0h3m1 0h2m1 0h10m1 0h3m1 0h1m1 0h5m1 0h1M1 55h2m3 0h2m2 0h8m1 0h1m1 0h3m1 0h5m1 0h1m3 0h1M2 56h1m3 0h1m4 0h2m3 0h3m1 0h2m3 0h5m1 0h4m1 0h1M5 57h1m6 0h1m2 0h3m3 0h2m2 0h2m2 0h3m1 0h1m3 0h1M15 58h2m13 0h1m6 0h2"/>
</g>
</g>
<path d="M152.9 272.5H113.5" stroke="#0c0c0c" stroke-width="2.7" stroke-dasharray="2.7 2.6" fill="none"/>
<path d="M151.6 327.6V272.5" stroke="#0c0c0c" stroke-width="2.7" stroke-dasharray="2.7 2.6" fill="none"/>
<path d="M108.5 214.2H228.3V328.1" stroke="#222" stroke-width="1" fill="none"/>
<path d="M113.5 214.2V328.1H228.3M113.5 328.1h-5M113.5 328.1v4M113.5 299.62h-5M142.2 328.1v4M113.5 271.15h-5M170.9 328.1v4M113.5 242.68h-5M199.6 328.1v4M113.5 214.2h-5M228.3 328.1v4" stroke="#111" stroke-width="1.3" fill="none"/>
<path d="M113.5 319.53h-2M122.14 328.1v2M113.5 314.51h-2M127.19 328.1v2M113.5 310.96h-2M130.78 328.1v2M113.5 308.2h-2M133.56 328.1v2M113.5 305.94h-2M135.83 328.1v2M113.5 304.04h-2M137.75 328.1v2M113.5 302.38h-2M139.42 328.1v2M113.5 300.93h-2M140.89 328.1v2M113.5 291.05h-2M150.84 328.1v2M113.5 286.04h-2M155.89 328.1v2M113.5 282.48h-2M159.48 328.1v2M113.5 279.72h-2M162.26 328.1v2M113.5 277.47h-2M164.53 328.1v2M113.5 275.56h-2M166.45 328.1v2M113.5 273.91h-2M168.12 328.1v2M113.5 272.45h-2M169.59 328.1v2M113.5 262.58h-2M179.54 328.1v2M113.5 257.56h-2M184.59 328.1v2M113.5 254.01h-2M188.18 328.1v2M113.5 251.25h-2M190.96 328.1v2M113.5 248.99h-2M193.23 328.1v2M113.5 247.09h-2M195.15 328.1v2M113.5 245.43h-2M196.82 328.1v2M113.5 243.98h-2M198.29 328.1v2M113.5 234.1h-2M208.24 328.1v2M113.5 229.09h-2M213.29 328.1v2M113.5 225.53h-2M216.88 328.1v2M113.5 222.77h-2M219.66 328.1v2M113.5 220.52h-2M221.93 328.1v2M113.5 218.61h-2M223.85 328.1v2M113.5 216.96h-2M225.52 328.1v2M113.5 215.5h-2M226.99 328.1v2" stroke="#222" stroke-width="0.6" fill="none"/>
<text transform="translate(105.3,328.7) rotate(-90)" font-family='"Liberation Sans",Arial,sans-serif' font-weight="bold" font-size="8.1" text-anchor="middle" fill="#111">10<tspan dy="-2.4" font-size="6">0</tspan></text>
<text transform="translate(105.3,300.23) rotate(-90)" font-family='"Liberation Sans",Arial,sans-serif' font-weight="bold" font-size="8.1" text-anchor="middle" fill="#111">10<tspan dy="-2.4" font-size="6">1</tspan></text>
<text transform="translate(105.3,271.75) rotate(-90)" font-family='"Liberation Sans",Arial,sans-serif' font-weight="bold" font-size="8.1" text-anchor="middle" fill="#111">10<tspan dy="-2.4" font-size="6">2</tspan></text>
<text transform="translate(105.3,243.28) rotate(-90)" font-family='"Liberation Sans",Arial,sans-serif' font-weight="bold" font-size="8.1" text-anchor="middle" fill="#111">10<tspan dy="-2.4" font-size="6">3</tspan></text>
<text transform="translate(105.3,214.8) rotate(-90)" font-family='"Liberation Sans",Arial,sans-serif' font-weight="bold" font-size="8.1" text-anchor="middle" fill="#111">10<tspan dy="-2.4" font-size="6">4</tspan></text>
<text x="109.7" y="342.9" font-family='"Liberation Serif","Times New Roman",serif' font-size="7.6" fill="#333" letter-spacing=".1">10<tspan dx="1.2" dy="-2.1" font-size="6">0</tspan></text>
<text x="138.4" y="342.9" font-family='"Liberation Serif","Times New Roman",serif' font-size="7.6" fill="#333" letter-spacing=".1">10<tspan dx="1.2" dy="-2.1" font-size="6">1</tspan></text>
<text x="167.1" y="342.9" font-family='"Liberation Serif","Times New Roman",serif' font-size="7.6" fill="#333" letter-spacing=".1">10<tspan dx="1.2" dy="-2.1" font-size="6">2</tspan></text>
<text x="195.8" y="342.9" font-family='"Liberation Serif","Times New Roman",serif' font-size="7.6" fill="#333" letter-spacing=".1">10<tspan dx="1.2" dy="-2.1" font-size="6">3</tspan></text>
<text x="224.5" y="342.9" font-family='"Liberation Serif","Times New Roman",serif' font-size="7.6" fill="#333" letter-spacing=".1">10<tspan dx="1.2" dy="-2.1" font-size="6">4</tspan></text>
<text transform="translate(93.7,320.1) rotate(-90)" font-family='"Liberation Serif","Times New Roman",serif' font-weight="bold" font-size="11" fill="#111" stroke="#111" stroke-width=".25">Annexin V PE</text>
<path d="M90.2 248.2V231.2" stroke="#111" stroke-width="1.8" fill="none"/>
<path d="M90.2 226.8l-2.6 5.4h5.2z" fill="#111"/>
<text x="114.1" y="355.7" font-family='"Liberation Serif","Times New Roman",serif' font-size="8.8" fill="#111">7 AAD</text>
<path d="M142.5 353.9H160.5" stroke="#111" stroke-width="1.8" fill="none"/>
<path d="M164.9 353.9l-5.6 -2.8v5.6z" fill="#111"/>
<text x="110.7" y="370.1" font-family='"Liberation Serif","Times New Roman",serif' font-size="12.3" fill="#111">Bortezomib 100nM + PHA</text>
<text x="122.3" y="312.2" font-family='"Liberation Serif","Times New Roman",serif' font-weight="bold" font-size="12.3" fill="#000" stroke="#000" stroke-width=".35">26%</text>
<g transform="translate(294.4,214.2)">
<rect x="0" y="58.4" width="36.4" height="55.4" fill="#d2d2d2"/>
<g transform="translate(0,.5)" fill="none" shape-rendering="crispEdges">
<path stroke="#ececec" d="M1 59h1m2 0h1m9 0h1m6 0h1m6 0h1M3 60h1m6 0h2m5 0h2m1 0h1m7 0h1m1 0h1m2 0h2M4 61h2m5 0h1m6 0h1m3 0h1m2 0h2m1 0h1m3 0h1M7 62h2m2 0h1m8 0h1m1 0h2m2 0h1m1 0h1m3 0h2M3 63h2m1 0h2m2 0h1m3 0h1m5 0h3m1 0h5m1 0h2m3 0h1M3 64h1m3 0h4m4 0h1m2 0h1m4 0h2m4 0h1m3 0h2M4 65h1m7 0h1m6 0h1m1 0h1m3 0h1m3 0h2M4 66h1m2 0h2m5 0h1m1 0h1m2 0h1m1 0h2m8 0h1m1 0h3M4 67h1m2 0h1m2 0h1m1 0h1m2 0h2m2 0h1m2 0h1m2 0h2m5 0h1M1 68h1m1 0h1m3 0h2m5 0h1m1 0h2m3 0h2m3 0h1M1 69h2m5 0h3m3 0h1m1 0h2m1 0h2m2 0h1m1 0h1m6 0h1M3 70h1m3 0h1m2 0h1m7 0h1m2 0h2m2 0h1M1 71h2m2 0h6m1 0h2m3 0h1m1 0h1m1 0h1m3 0h1m3 0h1m1 0h2m1 0h1M1 72h3m1 0h1m1 0h2m2 0h1m5 0h1m1 0h1m3 0h2M1 73h1m1 0h2m4 0h1m12 0h1m2 0h1m5 0h5M1 74h1m5 0h1m3 0h1m5 0h1m2 0h1m5 0h2m6 0h1M2 75h1m4 0h1m3 0h1m3 0h1m1 0h2m1 0h4m2 0h1m1 0h1m1 0h1m2 0h2M5 76h2m1 0h1m2 0h2m11 0h1m1 0h1m2 0h1m1 0h1m3 0h1M2 77h1m5 0h1m2 0h2m17 0h2m1 0h2M2 78h3m8 0h1m2 0h2m1 0h2m4 0h1m1 0h1m3 0h1m1 0h2M4 79h2m4 0h1m3 0h1m2 0h1m6 0h1M2 80h1m3 0h1m4 0h1m9 0h1m2 0h1m6 0h1M2 81h1m11 0h1m2 0h1m2 0h1m1 0h1m8 0h1m1 0h1M3 82h1m1 0h1m3 0h3m1 0h2m2 0h3m1 0h1m8 0h1M7 83h1m2 0h1m6 0h1m2 0h2m1 0h1m2 0h1m2 0h1m1 0h3M1 84h1m1 0h1m1 0h1m1 0h2m4 0h2m4 0h1m1 0h1m2 0h1M3 85h2m6 0h1m3 0h1m1 0h1m1 0h2m1 0h1m2 0h2m1 0h1m3 0h3M8 86h1m1 0h1m2 0h1m2 0h1m2 0h1m3 0h1m1 0h1m3 0h1m1 0h2m1 0h1M1 87h2m3 0h1m1 0h1m2 0h1m7 0h1m1 0h1m2 0h1m4 0h1m1 0h1m3 0h1M7 88h1m11 0h1m4 0h1m1 0h2m2 0h1m2 0h1M8 89h1m1 0h1m3 0h1m1 0h4m3 0h1m4 0h2m3 0h2M1 90h1m3 0h2m3 0h1m5 0h1m1 0h1m2 0h1m1 0h1m2 0h3m1 0h1m2 0h1M2 91h1m3 0h3m1 0h1m2 0h1m4 0h1m4 0h1m3 0h4m1 0h3M5 92h1m1 0h1m1 0h1m2 0h1m4 0h3m2 0h2m1 0h1m3 0h1m1 0h1m2 0h1M8 93h2m2 0h1m1 0h1m1 0h1m1 0h1m5 0h1m1 0h1m3 0h2m1 0h1M1 94h2m2 0h1m1 0h1m3 0h2m2 0h1m1 0h1m1 0h2m2 0h2m1 0h3m2 0h1m1 0h2M1 95h2m7 0h4m3 0h2m2 0h2m1 0h1m1 0h1m2 0h4M1 96h1m3 0h2m6 0h1m4 0h1m7 0h1m1 0h1m2 0h3M3 97h1m2 0h1m7 0h1m8 0h1m7 0h2M1 98h1m2 0h3m2 0h1m2 0h1m1 0h3m1 0h2m1 0h2m2 0h1m2 0h1m5 0h2M1 99h1m4 0h1m8 0h1m5 0h2m8 0h2m1 0h1M4 100h1m3 0h1m4 0h1m5 0h3m4 0h2m1 0h1m2 0h1M2 101h3m1 0h2m1 0h1m7 0h2m1 0h3m1 0h1m1 0h1M2 102h1m2 0h1m2 0h3m4 0h2m2 0h1m2 0h1m4 0h1m1 0h1m2 0h1m1 0h1M1 103h1m1 0h1m1 0h1m4 0h1m5 0h1m2 0h2m3 0h1m9 0h1M3 104h2m1 0h1m3 0h1m3 0h1m1 0h1m8 0h1m3 0h1m3 0h1M7 105h1m3 0h2m1 0h1m1 0h2m3 0h1m2 0h1m1 0h1m5 0h1m1 0h1M2 106h1m1 0h2m1 0h1m2 0h1m2 0h1m1 0h1m4 0h2m6 0h1m1 0h1m2 0h1M2 107h1m13 0h2m8 0h1m2 0h1m1 0h2M3 108h2m3 0h1m1 0h2m5 0h1m1 0h1m3 0h1m2 0h1m1 0h2m2 0h2M4 109h1m1 0h2m2 0h1m3 0h1m3 0h1m2 0h1m3 0h3M1 110h1m2 0h1m3 0h2m4 0h1m2 0h1m3 0h2m8 0h1M2 111h1m7 0h4m2 0h1m4 0h2m1 0h1m5 0h1m2 0h1M1 112h2m5 0h4m1 0h2m2 0h1m2 0h2m2 0h1m3 0h1m1 0h1m1 0h3M7 113h1m3 0h1m9 0h1m1 0h1m1 0h1m1 0h1m1 0h3"/>
<path stroke="#9a9a9a" d="M41 0h1m10 0h1m6 0h1m1 0h1m2 0h1m1 0h1m1 0h1m1 0h1m2 0h1m3 0h1m9 0h1M53 1h1m3 0h1m31 0h1M42 2h1m20 0h1m14 0h1m7 0h1M44 3h1m43 0h1M36 4h1m25 0h1m6 0h1m12 0h1m12 0h2m1 0h1M75 5h1m3 0h1m12 0h1m5 0h1M37 6h1m7 0h1m2 0h1m10 0h1m10 0h1m16 0h1m13 0h1M76 7h1m22 0h1m1 0h1M38 8h1m8 0h1m43 0h1M88 9h1m8 0h2m4 0h1M46 10h1m10 0h1m36 0h1M62 11h1m33 0h1M56 12h1m38 0h1m4 0h1M90 14h1m9 0h1M92 15h1m11 0h1m4 0h1M99 17h1M101 18h1M96 19h1m10 0h1M106 20h1M97 21h1m3 0h1m1 0h1M110 22h1M95 23h1m11 0h1m5 0h1M101 24h1M99 25h1m3 0h1m1 0h1M111 26h1M103 27h1m5 0h1M105 28h1M105 30h1M90 31h1m7 0h1m2 0h1M92 33h1m8 0h1m2 0h1M104 35h1M94 36h1M101 37h1M95 38h1m2 0h1M100 40h1M102 41h1m2 0h1m2 0h1M96 42h1m3 0h1M102 43h1m1 0h1m6 0h1M97 44h1M96 45h1m4 0h1m1 0h1m1 0h1M96 47h1m4 0h1M101 48h1M111 49h1M99 51h1m1 0h1m3 0h1M103 52h1m1 0h1m1 0h1m2 0h1m1 0h1M95 53h1m4 0h1M109 54h1M99 55h1M103 56h1M98 58h1m2 0h1M101 59h1M104 60h1m5 0h1M92 61h1m6 0h1M96 62h1m5 0h1M103 63h1M105 64h1M97 65h1m5 0h1M95 66h1m13 0h1M96 68h2m4 0h1m7 0h1M108 69h1M98 70h1M96 71h1m4 0h1M37 72h1M94 73h1m2 0h1m1 0h1m2 0h1m8 0h1M107 74h1M97 75h1m1 0h2M95 78h1M100 79h1m12 0h1M99 82h1m2 0h1M93 84h1m1 0h1M37 85h1M102 86h1M36 88h1M36 90h1m54 0h1m2 0h1m7 0h1M37 92h1m63 0h1M93 93h1M38 94h1m56 0h1M36 95h1m51 0h1m3 0h1m2 0h1M39 96h1m50 0h1m10 0h1M52 97h1m38 0h1M37 98h1M46 99h1m1 0h1m3 0h1m38 0h2m5 0h1M76 100h1m23 0h1M40 101h1m9 0h1m39 0h1m1 0h1m2 0h1M88 102h1M48 103h1m25 0h1m15 0h1M36 104h1m6 0h2m1 0h1m20 0h1m15 0h1M40 105h1m13 0h1m3 0h1m6 0h1m26 0h1M37 106h1m13 0h1m26 0h1m1 0h1m1 0h1m5 0h1M49 107h1m4 0h1m5 0h1m5 0h1m23 0h1M52 108h1m17 0h1m7 0h1m5 0h1m1 0h1m8 0h1M60 109h1m9 0h1M39 110h2m1 0h2m3 0h1m6 0h1m25 0h1m4 0h1M52 111h1m13 0h1m9 0h1m1 0h1m3 0h1m6 0h1m5 0h1M39 112h1m3 0h1m1 0h1m9 0h1m14 0h1m16 0h1M47 113h1m4 0h1m4 0h1m12 0h1m4 0h1m2 0h1m2 0h1"/>
<path stroke="#6a6a6a" d="M62 1h1m2 0h1m2 0h1m9 0h1M47 2h1m2 0h1m6 0h1m9 0h1m7 0h1m12 0h1M40 3h1m6 0h1m2 0h1m4 0h1m2 0h2m5 0h1m1 0h1m17 0h1M39 4h1m7 0h1m7 0h2m2 0h1m4 0h1m5 0h2m5 0h2m4 0h2M37 5h1m4 0h1m6 0h1m27 0h1m11 0h2M52 6h3m1 0h2m2 0h1m4 0h1m1 0h2m13 0h2m4 0h1m1 0h1M41 7h1m2 0h1m18 0h1m14 0h2M36 8h2m2 0h1m2 0h1m1 0h1m3 0h3m1 0h1m2 0h3m7 0h2m3 0h1m1 0h1m11 0h1M41 9h1m6 0h1m4 0h1m21 0h1m5 0h1m3 0h2m5 0h1M41 10h1m7 0h2m2 0h1m4 0h1m3 0h1m1 0h1m26 0h1M40 11h1m2 0h1m8 0h1m1 0h2m28 0h4m5 0h1M38 12h1m3 0h1m3 0h3m1 0h1m1 0h1m1 0h1m3 0h1m16 0h1m1 0h1m5 0h1m3 0h1m2 0h1M93 13h1m7 0h1M47 14h1m1 0h1m2 0h1m4 0h1m30 0h1m3 0h1M38 15h1m55 0h2M39 16h1m26 0h1m1 0h1m26 0h1M37 17h1m10 0h1m37 0h1m3 0h3m2 0h1M36 18h1m56 0h2M36 20h2M102 21h1M84 22h1m10 0h1M87 24h2m8 0h1M92 25h1m1 0h3m1 0h1M94 26h1M92 27h1m6 0h1m1 0h1M92 28h1m3 0h1M93 29h1m1 0h1m1 0h1m3 0h1M94 30h1M92 31h2m17 0h2M112 32h1M95 33h4m4 0h1M90 34h1m1 0h1m2 0h1m6 0h1M92 35h1m4 0h1m1 0h1m2 0h1M102 36h2m5 0h2M92 37h2m16 0h1M90 38h1M93 39h1m1 0h1M95 40h2M95 42h1m6 0h1m1 0h1M94 43h1M92 45h1m7 0h1M99 46h1M91 47h1m7 0h1M90 48h2m1 0h2m3 0h2M92 49h1m6 0h1M94 50h2m2 0h1M96 51h1M95 52h1m5 0h1M93 55h2m1 0h2M94 56h1m1 0h1M96 59h1M94 60h4M98 61h1M94 62h1M36 63h1m54 0h1M100 64h2M37 65h1M36 66h1m64 0h1M36 67h1M90 68h1m2 0h1M36 69h1M37 70h1m56 0h1M102 72h1M88 75h1m5 0h1M95 76h2M90 77h1M93 78h1m3 0h1M90 79h1m1 0h1m3 0h1m1 0h1M92 80h1m5 0h1M36 81h1m54 0h1M38 83h2m46 0h1m4 0h1M85 85h1m1 0h1m3 0h1m1 0h1M36 86h1m2 0h1m49 0h1M36 87h1m50 0h1m5 0h2M38 88h1m49 0h1m1 0h1M87 89h1m1 0h1M39 90h1m47 0h1M37 91h1m2 0h1m46 0h1m1 0h2m2 0h1M88 92h1m5 0h1M86 93h1m1 0h1M40 94h1m15 0h1m23 0h1m8 0h1M44 95h1m1 0h1m1 0h1m1 0h1m20 0h1m1 0h1M44 96h1m5 0h1m3 0h4m15 0h1m6 0h1m4 0h1M42 97h1m6 0h1m12 0h1m1 0h1m4 0h1m1 0h1m2 0h1m4 0h1m2 0h1M42 98h1m1 0h1m5 0h1m4 0h3m17 0h1m1 0h1m7 0h1M38 99h1m5 0h1m4 0h2m11 0h1m1 0h1m5 0h1m1 0h1m5 0h1M37 100h2m13 0h1m2 0h1m9 0h1m5 0h1m5 0h2m1 0h2m5 0h1M53 101h1m1 0h1m12 0h1m10 0h1m1 0h2m4 0h1M51 102h2m4 0h1m1 0h1m6 0h1m1 0h1m7 0h1m7 0h1M51 103h1m7 0h1m18 0h1m6 0h2M48 104h1m12 0h1m4 0h1m5 0h1m3 0h1m2 0h1M48 105h2m9 0h1m3 0h1m10 0h1m3 0h1M47 106h1m23 0h2m2 0h1m9 0h2M40 107h1m6 0h1m9 0h1m5 0h1m3 0h1m7 0h1m4 0h1m1 0h1M39 108h2m6 0h2m4 0h1m2 0h1m1 0h1m3 0h1m5 0h1m6 0h1m3 0h2m1 0h1M55 109h1m1 0h1m5 0h2m2 0h2m12 0h1M49 110h2m6 0h1m2 0h1m5 0h1m10 0h1M50 111h1m7 0h1m2 0h1m11 0h1m14 0h1M56 112h1m2 0h3m10 0h2M44 113h1"/>
<path stroke="#3e3e3e" d="M74 2h1M48 3h2m22 0h4M41 4h1m7 0h1m16 0h2m4 0h3M40 5h2m21 0h2m1 0h2M41 6h1m19 0h2m1 0h1M51 7h1m1 0h1m1 0h2m4 0h2m19 0h1M52 8h1m7 0h2m10 0h1m4 0h2m3 0h2M43 9h2m14 0h1m1 0h1m3 0h1m1 0h3m1 0h3m2 0h1m1 0h2m2 0h3M43 10h2m15 0h1m4 0h7m1 0h2m1 0h4m2 0h1M49 11h1m1 0h1m7 0h2m3 0h1m3 0h3m1 0h2m1 0h1m1 0h1m1 0h3m10 0h1M37 12h1m3 0h1m17 0h2m3 0h2m1 0h4m2 0h2m1 0h1m2 0h4m8 0h2M38 13h3m1 0h1m1 0h2m3 0h1m9 0h11m1 0h3m3 0h1m1 0h2m1 0h1m3 0h1m4 0h1M36 14h1m2 0h3m1 0h4m3 0h2m1 0h4m2 0h4m1 0h4m1 0h13m1 0h5M40 15h8m2 0h1m1 0h1m1 0h4m1 0h5m1 0h1m2 0h1m1 0h5m1 0h3m1 0h4m1 0h2m1 0h1M41 16h2m1 0h4m2 0h2m2 0h4m1 0h2m2 0h1m5 0h5m1 0h2m1 0h7m2 0h2M40 17h4m1 0h2m3 0h2m2 0h5m1 0h1m2 0h3m1 0h1m2 0h5m1 0h5m1 0h3m3 0h2M39 18h3m1 0h1m3 0h1m1 0h8m1 0h2m1 0h2m1 0h3m1 0h1m1 0h3m1 0h3m1 0h1m1 0h6m2 0h1m1 0h1M39 19h5m2 0h2m1 0h1m1 0h4m2 0h24m3 0h3m1 0h5M38 20h7m1 0h14m1 0h11m1 0h3m1 0h11m1 0h2m1 0h2M38 21h1m1 0h3m1 0h3m2 0h4m1 0h11m1 0h8m1 0h8m2 0h5m1 0h1m1 0h2M36 22h8m2 0h9m1 0h10m1 0h10m1 0h5m3 0h3m1 0h4M37 23h10m1 0h28m1 0h5m1 0h1m1 0h2m4 0h2M37 24h49m3 0h2M40 25h38m1 0h7m3 0h3M36 26h55m1 0h2m3 0h1M37 27h31m1 0h17m1 0h3m7 0h2M37 28h40m1 0h6m1 0h6m7 0h1m1 0h3M36 29h38m1 0h12m1 0h4M36 30h3m2 0h48m1 0h1m1 0h1M38 31h51M37 32h9m1 0h37m1 0h2m1 0h1M36 33h54M37 34h48m1 0h3m9 0h2M37 35h54m7 0h1M37 36h56M36 37h52m1 0h2M37 38h7m1 0h44M37 39h1m1 0h1m1 0h43m1 0h4m2 0h2M36 40h1m1 0h49m1 0h2m1 0h3M36 41h58M38 42h55m1 0h1M37 43h47m1 0h1m1 0h5m1 0h1M36 44h23m1 0h31m1 0h1M37 45h12m1 0h34m1 0h3m1 0h3M36 46h1m1 0h52M37 47h53M36 48h53M37 49h52m4 0h1M37 50h48m1 0h1m1 0h2M38 51h7m1 0h42m1 0h3m3 0h1M37 52h3m2 0h47m1 0h3M36 53h52m2 0h3M37 54h51m1 0h4M39 55h35m1 0h17M37 56h55M37 57h2m1 0h45m1 0h4m1 0h1M37 58h51m2 0h3M36 59h1m1 0h52m1 0h3M36 60h48m1 0h3m1 0h2m2 0h1M36 61h36m1 0h17M36 62h34m1 0h8m1 0h2m1 0h8M38 63h28m1 0h24m3 0h2M39 64h48m3 0h1m3 0h2M38 65h46m1 0h10m6 0h2M38 66h46m1 0h8M37 67h4m1 0h48m1 0h1M37 68h52m3 0h1M37 69h1m1 0h47m1 0h1m1 0h1m2 0h2M39 70h54M39 71h49m1 0h1m1 0h3M39 72h2m1 0h5m1 0h42m1 0h2M37 73h1m1 0h1m1 0h47m1 0h3M36 74h5m1 0h39m1 0h6m2 0h2M36 75h5m1 0h5m1 0h36m2 0h2m2 0h1M36 76h4m1 0h35m1 0h6m1 0h3m2 0h1m1 0h4M37 77h1m1 0h1m1 0h45m1 0h2m2 0h1m1 0h1M37 78h19m1 0h32m3 0h1M37 79h7m1 0h5m1 0h11m1 0h23m1 0h3m7 0h1M37 80h1m2 0h48m1 0h1M37 81h2m2 0h34m1 0h11m1 0h3M37 82h2m1 0h32m1 0h12m1 0h4M41 83h34m1 0h10m2 0h3M41 84h26m1 0h16m4 0h3M40 85h5m1 0h25m1 0h11m5 0h1M40 86h4m1 0h42m3 0h2m1 0h2M40 87h6m1 0h4m1 0h17m1 0h12m1 0h4m3 0h2M39 88h1m3 0h13m1 0h7m2 0h6m1 0h11m1 0h1M39 89h2m2 0h3m1 0h15m1 0h20m1 0h2M41 90h40m1 0h4M42 91h3m1 0h5m1 0h33m1 0h1M41 92h5m2 0h1m1 0h7m1 0h2m1 0h2m1 0h1m1 0h2m1 0h11m1 0h2m1 0h2M40 93h5m1 0h3m2 0h1m1 0h4m1 0h8m1 0h12m1 0h1m2 0h2M41 94h3m1 0h1m1 0h2m2 0h4m3 0h2m1 0h2m1 0h1m1 0h2m1 0h2m5 0h1m1 0h1m2 0h2m2 0h2M52 95h2m3 0h1m1 0h1m1 0h6m1 0h2m4 0h2m1 0h2m2 0h2m2 0h2M49 96h1m8 0h1m1 0h2m1 0h1m1 0h3m2 0h1m4 0h2m1 0h2m3 0h1M43 97h1m15 0h2m5 0h1m3 0h1m5 0h2m5 0h2M43 98h1m15 0h1m1 0h1m3 0h3m1 0h1m13 0h1M56 99h1m1 0h3m4 0h1m1 0h2m4 0h2m8 0h2M57 100h5m5 0h1m5 0h2m8 0h4M56 101h2m2 0h2m2 0h1m2 0h1m4 0h2m11 0h1M56 102h1m3 0h1m2 0h3m5 0h2m12 0h1M63 103h3m5 0h2m2 0h3M60 104h1m2 0h1M61 105h2m9 0h1M62 106h1m10 0h1M74 107h1m10 0h1M63 108h1"/>
<path stroke="#808080" d="M6 0h1m6 0h1m11 0h1M9 1h1m17 0h1M8 2h1m15 0h1m4 0h1m1 0h2M11 3h1m9 0h1M13 4h1m2 0h1m7 0h1m4 0h1m1 0h1M11 5h1m7 0h1m1 0h1m5 0h1M2 6h1m18 0h1m1 0h1M5 7h1m9 0h1m9 0h1m4 0h1m1 0h1M13 8h1m6 0h1m1 0h1m9 0h1M1 9h1m8 0h1m6 0h1M5 10h1m17 0h1m3 0h1M19 11h1m1 0h1M19 12h1M26 13h1M1 14h1m18 0h1M12 15h1m9 0h2M8 16h1m8 0h1m7 0h1M1 17h1M32 18h1M1 19h1M1 39h1M1 57h1M5 58h1"/>
<path stroke="#4a4a4a" d="M2 3h2M2 4h1M23 5h1m9 0h2M3 6h1m23 0h1m6 0h1M4 7h1M12 8h1m14 0h1M8 9h1m2 0h1m17 0h1m6 0h1M7 10h2m5 0h2m13 0h1m1 0h1m1 0h1M4 11h1m8 0h1m2 0h1m16 0h1m2 0h1M3 12h1m25 0h1m1 0h1M3 13h1m2 0h2m5 0h1m13 0h1m1 0h1m1 0h1m1 0h1m1 0h1M2 14h1m2 0h1m9 0h1m1 0h3m9 0h1m3 0h1M6 15h1m3 0h2m3 0h1m1 0h1m8 0h1m1 0h1m6 0h2M3 16h1m10 0h1m4 0h2m6 0h1M3 17h2m1 0h1m6 0h1m9 0h1m5 0h1m6 0h1M5 18h1m1 0h2m6 0h1m8 0h4m6 0h1M13 19h2m13 0h2M2 20h1m1 0h1m5 0h1m18 0h1m1 0h1m3 0h1M10 21h1m2 0h1m11 0h1m3 0h1M10 22h1m1 0h1m11 0h1M3 23h1m1 0h1m4 0h1M23 24h1M9 26h1M30 30h1m1 0h1M1 32h1m28 0h1M1 37h1M1 41h1M1 42h1M1 43h1M1 44h1M7 45h1M1 46h1M1 48h1M1 51h1M12 52h1m1 0h1m6 0h1M2 53h1M1 55h1M3 58h1m2 0h2m5 0h1m3 0h1m7 0h1m1 0h2m1 0h1m1 0h1"/>
<path stroke="#1a1a1a" d="M27 7h2M28 8h2M32 10h1M15 11h1m12 0h1m2 0h2M14 12h2m12 0h1m7 0h1M14 13h1m21 0h1M6 14h1m25 0h1M32 15h1M10 16h1m18 0h5M9 17h4m6 0h2m9 0h1m2 0h2M10 18h3m3 0h2m2 0h3m12 0h1M7 19h1m3 0h1m4 0h3m1 0h3m2 0h1M5 20h4m2 0h1m1 0h1m2 0h6m1 0h2m7 0h1M2 21h1m1 0h2m1 0h2m3 0h1m2 0h4m1 0h4m7 0h4M1 22h3m1 0h1m1 0h2m6 0h4m2 0h2m3 0h1m1 0h2m2 0h1m1 0h2M1 23h2m3 0h3m3 0h1m1 0h8m3 0h4m1 0h4m1 0h2M1 24h1m3 0h1m1 0h2m1 0h13m2 0h1m2 0h2m1 0h2m1 0h2M1 25h3m1 0h5m1 0h4m1 0h2m1 0h3m1 0h2m1 0h3m1 0h4m1 0h1M1 26h6m1 0h1m3 0h2m1 0h3m1 0h9m1 0h7M1 27h3m1 0h3m4 0h7m1 0h17M1 28h3m1 0h3m1 0h3m1 0h3m1 0h10m1 0h2m1 0h6M1 29h13m1 0h4m1 0h11m1 0h1m1 0h2M1 30h2m1 0h1m1 0h2m1 0h1m1 0h12m1 0h1m1 0h4m5 0h1M2 31h9m1 0h1m2 0h14m3 0h2m1 0h2M2 32h2m2 0h5m1 0h2m1 0h8m1 0h5m2 0h6M2 33h1m1 0h1m1 0h4m1 0h2m1 0h2m1 0h14m1 0h4M1 34h8m1 0h8m2 0h10m1 0h6M1 35h3m1 0h7m2 0h11m1 0h1m2 0h6M2 36h5m1 0h3m1 0h15m1 0h3m1 0h3m1 0h1M2 37h5m1 0h18m1 0h2m1 0h6M3 38h1m1 0h1m1 0h17m1 0h12M3 39h4m1 0h4m1 0h13m1 0h10M2 40h3m1 0h4m1 0h10m1 0h3m1 0h7m1 0h2M2 41h10m1 0h17m1 0h5M3 42h5m1 0h22m1 0h5M3 43h6m1 0h1m1 0h7m1 0h17M3 44h3m1 0h1m1 0h1m1 0h25M2 45h1m1 0h3m1 0h5m1 0h11m1 0h11M2 46h4m3 0h1m2 0h5m3 0h1m1 0h10m1 0h3M1 47h1m1 0h1m1 0h2m1 0h10m1 0h1m1 0h16M2 48h3m1 0h4m1 0h2m1 0h15m1 0h1m2 0h3M2 49h8m1 0h7m1 0h10m1 0h7M1 50h4m2 0h11m1 0h5m2 0h3m1 0h3m1 0h2M2 51h10m2 0h1m1 0h6m2 0h1m1 0h4m1 0h2m2 0h2M4 52h2m1 0h3m5 0h1m1 0h3m3 0h9m1 0h4M3 53h1m1 0h2m1 0h5m1 0h1m1 0h4m2 0h14M2 54h2m1 0h4m1 0h14m1 0h2m2 0h1m1 0h4m1 0h1M2 55h8m1 0h11m1 0h14M3 56h7m1 0h1m1 0h4m1 0h9m1 0h8M2 57h2m3 0h1m1 0h5m1 0h11m2 0h3m1 0h5M8 58h4m8 0h2m2 0h1m6 0h1m2 0h2"/>
</g>
</g>
<path d="M332.1 272.6H294.4" stroke="#0c0c0c" stroke-width="2.7" stroke-dasharray="2.7 2.6" fill="none"/>
<path d="M330.8 327.5V272.6" stroke="#0c0c0c" stroke-width="2.7" stroke-dasharray="2.7 2.6" fill="none"/>
<path d="M289.4 214.2H409V328" stroke="#222" stroke-width="1" fill="none"/>
<path d="M294.4 214.2V328H409M294.4 328h-5M294.4 328v4M294.4 299.55h-5M323.05 328v4M294.4 271.1h-5M351.7 328v4M294.4 242.65h-5M380.35 328v4M294.4 214.2h-5M409 328v4" stroke="#111" stroke-width="1.3" fill="none"/>
<path d="M294.4 319.44h-2M303.02 328v2M294.4 314.43h-2M308.07 328v2M294.4 310.87h-2M311.65 328v2M294.4 308.11h-2M314.43 328v2M294.4 305.86h-2M316.69 328v2M294.4 303.96h-2M318.61 328v2M294.4 302.31h-2M320.27 328v2M294.4 300.85h-2M321.74 328v2M294.4 290.99h-2M331.67 328v2M294.4 285.98h-2M336.72 328v2M294.4 282.42h-2M340.3 328v2M294.4 279.66h-2M343.08 328v2M294.4 277.41h-2M345.34 328v2M294.4 275.51h-2M347.26 328v2M294.4 273.86h-2M348.92 328v2M294.4 272.4h-2M350.39 328v2M294.4 262.54h-2M360.32 328v2M294.4 257.53h-2M365.37 328v2M294.4 253.97h-2M368.95 328v2M294.4 251.21h-2M371.73 328v2M294.4 248.96h-2M373.99 328v2M294.4 247.06h-2M375.91 328v2M294.4 245.41h-2M377.57 328v2M294.4 243.95h-2M379.04 328v2M294.4 234.09h-2M388.97 328v2M294.4 229.08h-2M394.02 328v2M294.4 225.52h-2M397.6 328v2M294.4 222.76h-2M400.38 328v2M294.4 220.51h-2M402.64 328v2M294.4 218.61h-2M404.56 328v2M294.4 216.96h-2M406.22 328v2M294.4 215.5h-2M407.69 328v2" stroke="#222" stroke-width="0.6" fill="none"/>
<text transform="translate(287.2,328.6) rotate(-90)" font-family='"Liberation Sans",Arial,sans-serif' font-weight="bold" font-size="8.1" text-anchor="middle" fill="#111">10<tspan dy="-2.4" font-size="6">0</tspan></text>
<text transform="translate(287.2,300.15) rotate(-90)" font-family='"Liberation Sans",Arial,sans-serif' font-weight="bold" font-size="8.1" text-anchor="middle" fill="#111">10<tspan dy="-2.4" font-size="6">1</tspan></text>
<text transform="translate(287.2,271.7) rotate(-90)" font-family='"Liberation Sans",Arial,sans-serif' font-weight="bold" font-size="8.1" text-anchor="middle" fill="#111">10<tspan dy="-2.4" font-size="6">2</tspan></text>
<text transform="translate(287.2,243.25) rotate(-90)" font-family='"Liberation Sans",Arial,sans-serif' font-weight="bold" font-size="8.1" text-anchor="middle" fill="#111">10<tspan dy="-2.4" font-size="6">3</tspan></text>
<text transform="translate(287.2,214.8) rotate(-90)" font-family='"Liberation Sans",Arial,sans-serif' font-weight="bold" font-size="8.1" text-anchor="middle" fill="#111">10<tspan dy="-2.4" font-size="6">4</tspan></text>
<text x="290.6" y="342.8" font-family='"Liberation Serif","Times New Roman",serif' font-size="7.6" fill="#333" letter-spacing=".1">10<tspan dx="1.2" dy="-2.1" font-size="6">0</tspan></text>
<text x="319.25" y="342.8" font-family='"Liberation Serif","Times New Roman",serif' font-size="7.6" fill="#333" letter-spacing=".1">10<tspan dx="1.2" dy="-2.1" font-size="6">1</tspan></text>
<text x="347.9" y="342.8" font-family='"Liberation Serif","Times New Roman",serif' font-size="7.6" fill="#333" letter-spacing=".1">10<tspan dx="1.2" dy="-2.1" font-size="6">2</tspan></text>
<text x="376.55" y="342.8" font-family='"Liberation Serif","Times New Roman",serif' font-size="7.6" fill="#333" letter-spacing=".1">10<tspan dx="1.2" dy="-2.1" font-size="6">3</tspan></text>
<text x="405.2" y="342.8" font-family='"Liberation Serif","Times New Roman",serif' font-size="7.6" fill="#333" letter-spacing=".1">10<tspan dx="1.2" dy="-2.1" font-size="6">4</tspan></text>
<text transform="translate(275.6,320) rotate(-90)" font-family='"Liberation Serif","Times New Roman",serif' font-weight="bold" font-size="11" fill="#111" stroke="#111" stroke-width=".25">Annexin V PE</text>
<path d="M271.1 248.2V231.2" stroke="#111" stroke-width="1.8" fill="none"/>
<path d="M271.1 226.8l-2.6 5.4h5.2z" fill="#111"/>
<text x="295" y="355.6" font-family='"Liberation Serif","Times New Roman",serif' font-size="8.8" fill="#111">7 AAD</text>
<path d="M323.4 353.8H341.4" stroke="#111" stroke-width="1.8" fill="none"/>
<path d="M345.8 353.8l-5.6 -2.8v5.6z" fill="#111"/>
<text x="293" y="370" font-family='"Liberation Serif","Times New Roman",serif' font-size="12.3" fill="#111">Bortezomib 1000nM + PHA</text>
<text x="303" y="316.8" font-family='"Liberation Serif","Times New Roman",serif' font-weight="bold" font-size="12.9" fill="#000" stroke="#000" stroke-width=".35">9.2%</text>
<g transform="translate(27.2,425.1)">
<rect x="0" y="76.9" width="29.9" height="36" fill="#b8b8b8"/>
<g transform="translate(0,.5)" fill="none" shape-rendering="crispEdges">
<path stroke="#dcdcdc" d="M1 78h2m5 0h1m1 0h1m1 0h1m1 0h1m2 0h2m2 0h1m2 0h5M2 79h4m2 0h1m1 0h7m3 0h1m6 0h2M3 80h1m1 0h2m4 0h5m1 0h1m1 0h3m1 0h1m1 0h4M2 81h1m1 0h5m2 0h1m2 0h2m1 0h4m1 0h2m2 0h3M5 82h1m3 0h2m1 0h1m1 0h1m3 0h8m2 0h1M1 83h4m1 0h7m2 0h6m1 0h4m1 0h1M1 84h1m1 0h3m1 0h6m1 0h2m1 0h1m1 0h1m1 0h3m1 0h1m2 0h1M1 85h4m1 0h1m1 0h1m1 0h2m2 0h1m1 0h1m3 0h1m3 0h2m1 0h2M1 86h1m4 0h2m4 0h4m2 0h1m2 0h1m2 0h1m1 0h2M6 87h1m5 0h1m2 0h2m1 0h1m5 0h1m2 0h1M17 88h1m1 0h2m1 0h4M3 89h1m8 0h1m1 0h1m6 0h1m1 0h1m3 0h1M9 90h1m7 0h1m8 0h1M1 91h1m9 0h2M17 93h1M9 95h1"/>
<path stroke="#9a9a9a" d="M53 0h1M31 1h1m4 0h1m39 0h1M53 2h1m11 0h1m12 0h1M84 3h1M36 4h1m1 0h1m18 0h1m2 0h2m4 0h1m10 0h1m2 0h1M51 5h1m3 0h1m8 0h1M39 6h1m8 0h1m30 0h1M31 7h1m5 0h1m8 0h1m13 0h1m6 0h1M35 8h1m2 0h1m16 0h1m3 0h1m13 0h1m6 0h1m4 0h1M31 9h1m3 0h1m14 0h1m15 0h1m3 0h1m11 0h1m16 0h1M43 10h1m10 0h1m2 0h1M30 11h1m5 0h2m10 0h1m6 0h1m6 0h1m2 0h1m2 0h1m5 0h1m1 0h1m3 0h1M39 12h1m5 0h1m11 0h1m6 0h1m12 0h1M30 13h1m22 0h1m8 0h1m5 0h1m15 0h1M42 14h1m1 0h1m25 0h1M34 15h1m6 0h1m14 0h1m2 0h1m17 0h1m10 0h1M44 16h1m5 0h1m8 0h1m5 0h1m1 0h1m5 0h1m13 0h1m5 0h1M38 17h1m2 0h1m4 0h1m10 0h1m11 0h1m1 0h1m12 0h1m15 0h1M46 18h1m3 0h1m36 0h1M35 19h1m15 0h1M33 20h1m8 0h1m1 0h1m40 0h1m1 0h1m1 0h1m20 0h1M37 21h1m1 0h1m35 0h1m14 0h1M43 22h1m42 0h1M48 23h1M31 24h1M40 25h1m4 0h2m39 0h1m9 0h1M51 26h2m37 0h1m4 0h1m3 0h1M46 27h1m52 0h1M30 28h1m5 0h1m11 0h1M32 29h1m1 0h1m3 0h1m7 0h1m45 0h1M30 30h1m6 0h1m3 0h1m52 0h1M47 31h1m38 0h1m1 0h1m1 0h1M30 32h1m61 0h1m1 0h1M32 34h1m58 0h1m5 0h1m1 0h1M95 35h1m8 0h1M33 36h1m65 0h1M35 38h1M37 39h1m51 0h1M46 40h1M106 42h1M88 45h1m2 0h1m6 0h1M95 46h1m1 0h1M102 47h1M87 48h1m2 0h1m5 0h1M94 49h1M30 50h1m61 0h1M96 52h1M90 53h1m3 0h1m2 0h1m2 0h1m7 0h1M88 54h1M97 55h1M89 56h1m1 0h2M96 57h1M35 58h1m62 0h1m5 0h1M91 59h1M93 60h1M97 61h2M87 62h1m1 0h1m16 0h1M96 63h1M88 64h1M96 65h1M94 66h1m2 0h1M68 67h1m23 0h1m6 0h2M88 68h1m5 0h1M90 69h1m5 0h1M29 70h1m60 0h1m1 0h1M34 72h1m73 0h1M73 73h1m20 0h1M89 74h1m1 0h1m4 0h1M74 75h1M92 76h1m1 0h1m4 0h1M86 77h1m3 0h1m3 0h1M106 78h1M93 79h1M88 80h1M88 82h1M94 83h1M91 84h1M90 87h1m1 0h1m3 0h1M95 88h1M89 89h1M86 91h1m3 0h1m2 0h1M88 92h1M90 93h1M30 94h1m45 0h1M56 95h1m2 0h1m6 0h1m1 0h1m4 0h1m4 0h1M35 96h1m35 0h1m22 0h1M60 97h1m6 0h1m9 0h1m15 0h1M46 98h1m1 0h1m9 0h1m4 0h1m4 0h1m6 0h1m8 0h1m2 0h1M65 99h1m5 0h1m4 0h1m2 0h1M48 100h1m1 0h1m32 0h1m14 0h1M52 101h1m5 0h1m2 0h1m2 0h1m1 0h1m1 0h1m1 0h1m3 0h1m5 0h1m5 0h1M50 102h1m4 0h1m5 0h1m21 0h1m13 0h1M30 103h1m2 0h1m9 0h1m4 0h1m18 0h1m12 0h1m7 0h1M30 104h1m10 0h1m25 0h1m3 0h1M38 105h1m4 0h1m9 0h1m5 0h1m13 0h1m6 0h2M48 106h1m15 0h1m9 0h1m14 0h2M30 107h1m55 0h1M58 108h1m1 0h1m1 0h2m20 0h1M50 109h1m20 0h1M59 110h1m3 0h1m12 0h1m15 0h1M34 111h1m18 0h1m1 0h1m28 0h1M30 112h1m7 0h1"/>
<path stroke="#6a6a6a" d="M79 5h1M80 12h1M81 13h2M50 14h2m17 0h1m11 0h1m1 0h1M50 15h1m10 0h1m1 0h1M61 16h1m2 0h1m3 0h1m7 0h1m3 0h1M54 17h3m16 0h1m3 0h1m2 0h2M38 18h1m14 0h1m7 0h1m2 0h1m1 0h1m8 0h1m3 0h1m3 0h1M37 19h1m1 0h1m14 0h1m3 0h1m2 0h1m4 0h1m1 0h1m2 0h1m5 0h1m6 0h1m2 0h1M36 20h1m3 0h1m4 0h2m13 0h1m14 0h1M41 21h1m5 0h1m7 0h1m17 0h1m3 0h1M33 22h1m11 0h1m13 0h1m1 0h1m15 0h1m5 0h1m1 0h1M33 23h2m2 0h1m6 0h1m4 0h1m5 0h1m3 0h1m14 0h1m1 0h1m6 0h1M36 24h1m1 0h1m11 0h1m1 0h1m1 0h1m6 0h1m14 0h1m4 0h1m5 0h1M32 25h1m1 0h1m19 0h1m2 0h1m30 0h1M35 26h1m3 0h1m15 0h1m33 0h1M32 27h1m5 0h1m1 0h1m15 0h2m27 0h1m2 0h1M34 28h1m6 0h1m1 0h2m7 0h2m33 0h1M44 29h1m2 0h1m4 0h1m33 0h1M43 30h1m5 0h2m18 0h1m4 0h1m16 0h1M34 31h1m8 0h1m41 0h1M33 32h1m6 0h1m4 0h1m3 0h1m1 0h1m4 0h1m31 0h1M33 33h1m13 0h2m9 0h1m1 0h1m24 0h1m3 0h1M41 34h2m1 0h1m3 0h1m5 0h1M42 35h1m4 0h1m2 0h1m1 0h1m34 0h1m1 0h1m9 0h1M31 36h2m3 0h1m1 0h1m1 0h1m2 0h3m4 0h1m34 0h1m3 0h1M43 37h1m2 0h1m42 0h1m1 0h2M30 38h1m2 0h1m6 0h1m2 0h1m43 0h2m2 0h1M36 39h1m6 0h1M35 40h1m59 0h2M31 41h1m5 0h2m3 0h1m44 0h1m6 0h2M32 42h1m1 0h1m53 0h1m1 0h1M42 43h2m43 0h1m2 0h2M39 44h1M41 45h1m2 0h1m41 0h2M31 46h1m10 0h1M30 47h1m9 0h2m1 0h1m48 0h2M30 48h1m1 0h2m1 0h2m55 0h1m2 0h1M36 49h1m1 0h2m2 0h1m44 0h1M31 50h1m8 0h2m45 0h1M36 51h1m1 0h1M31 52h1m8 0h1m48 0h1M30 53h1m5 0h1m51 0h1M30 54h1m3 0h1m1 0h2m2 0h2M36 55h1M35 56h1m2 0h3m46 0h1M35 57h1M30 58h1m7 0h1m48 0h1m1 0h1M32 59h2m4 0h1m50 0h1M35 60h1m32 0h1M38 61h1M30 62h1m4 0h1m5 0h1m27 0h1m21 0h1M90 63h1m1 0h1M42 64h1m47 0h1m1 0h1M31 65h1m1 0h1m34 0h1m2 0h1m13 0h1m5 0h2M34 66h1m38 0h1m1 0h1m1 0h1M30 68h1m4 0h2M34 69h1m3 0h1m26 0h3m1 0h1M35 70h1m8 0h1m1 0h1m22 0h1m17 0h1M30 71h1m5 0h2m1 0h1m53 0h1M32 72h1m34 0h2m4 0h1m1 0h1m3 0h1m13 0h1M30 73h1m11 0h1m24 0h1m17 0h1m2 0h1M86 74h2M42 75h1m16 0h1m13 0h1m11 0h1M35 76h1m32 0h1m10 0h1M74 77h1M34 78h1m52 0h1M30 79h1m54 0h2M29 81h2m55 0h1M30 83h1m58 0h1M89 84h1M30 85h1m57 0h1M85 86h2M85 88h1M30 89h1m54 0h1M84 90h1m5 0h1M62 92h1m13 0h1m1 0h2m6 0h1M30 93h1m7 0h1m18 0h1m6 0h1m4 0h1m1 0h1m2 0h1m10 0h1M35 94h1m2 0h1m20 0h1m3 0h1m2 0h1m17 0h1m1 0h1M33 95h1m16 0h1m11 0h1m1 0h1m15 0h1m3 0h1m1 0h1M30 96h2m5 0h1m6 0h1m1 0h1m16 0h1m14 0h1m3 0h1m2 0h1M33 97h1m3 0h1m6 0h1m6 0h1m2 0h1M35 98h1m4 0h1m2 0h1m8 0h1M31 99h1m1 0h1m4 0h1m4 0h1m12 0h1M33 100h1m6 0h1m1 0h1m2 0h1m8 0h3M34 101h1m1 0h1m1 0h2m1 0h2m1 0h1m1 0h2m5 0h1m30 0h1M37 102h1m7 0h1m2 0h1m20 0h1m11 0h1M35 103h1m2 0h1m1 0h1M35 104h2m2 0h1m4 0h1m13 0h1M33 105h1m21 0h2M31 106h1m1 0h1M32 107h1M43 108h1M43 109h2m36 0h1m1 0h1M81 110h1m1 0h1M79 111h2"/>
<path stroke="#3e3e3e" d="M62 16h1M61 17h1m14 0h1M54 18h1m7 0h2m9 0h1m2 0h1M63 19h2m2 0h1m4 0h3m3 0h1m1 0h3M57 20h2m4 0h1m3 0h1m1 0h1m1 0h2m5 0h3m1 0h2M46 21h1m9 0h3m2 0h4m1 0h1m1 0h3m1 0h1m6 0h2m2 0h1M51 22h2m2 0h3m4 0h10m1 0h1m4 0h3m3 0h1M50 23h4m9 0h1m1 0h7m1 0h1m5 0h2M58 24h1m1 0h1m2 0h1m1 0h2m1 0h6M37 25h1m20 0h3m1 0h4m1 0h4m1 0h2m1 0h2m1 0h2m1 0h2M32 26h2m2 0h2m21 0h2m1 0h3m1 0h10m1 0h6M33 27h1m3 0h1m21 0h1m2 0h1m1 0h11m1 0h9M56 28h1m1 0h2m1 0h2m2 0h17m1 0h1m1 0h1M42 29h1m12 0h2m2 0h2m1 0h6m2 0h3m1 0h1m1 0h2m2 0h6M53 30h15m3 0h3m2 0h3m1 0h1m1 0h1m1 0h1M50 31h1m1 0h3m1 0h6m1 0h5m1 0h5m2 0h6m1 0h1M34 32h1m1 0h2m6 0h1m7 0h2m6 0h2m1 0h19m1 0h2M35 33h6m3 0h2m16 0h12m1 0h9m3 0h1M36 34h2m1 0h1m15 0h4m1 0h1m1 0h3m2 0h13m1 0h2m1 0h1m1 0h3M30 35h1m5 0h1m1 0h2m14 0h3m1 0h4m1 0h1m1 0h21M37 36h1m9 0h2m2 0h3m2 0h3m1 0h3m1 0h13m1 0h6m6 0h1M40 37h2m5 0h2m2 0h1m1 0h5m1 0h7m1 0h17M31 38h2m8 0h1m6 0h1m1 0h2m1 0h25m1 0h8M30 39h3m9 0h1m5 0h8m1 0h9m1 0h17m1 0h2M31 40h2m9 0h1m5 0h8m1 0h7m1 0h3m1 0h17M36 41h1m2 0h3m3 0h1m2 0h1m2 0h7m1 0h28M35 42h2m2 0h2m2 0h5m1 0h5m1 0h10m1 0h21M30 43h2m2 0h3m3 0h1m4 0h2m1 0h4m1 0h26m1 0h2m1 0h1m1 0h2M30 44h4m1 0h2m3 0h2m5 0h13m1 0h1m1 0h4m1 0h16m1 0h1M30 45h1m1 0h5m1 0h1m6 0h10m1 0h7m1 0h5m1 0h15M34 46h2m1 0h3m5 0h9m1 0h5m1 0h4m1 0h5m1 0h13M34 47h1m3 0h2m4 0h42M38 48h1m6 0h23m1 0h6m1 0h7m1 0h2M33 49h1m3 0h1m6 0h42M32 50h1m1 0h1m8 0h15m1 0h3m1 0h2m1 0h16m1 0h2M32 51h4m1 0h1m4 0h40m1 0h5M33 52h2m1 0h1m1 0h2m2 0h31m1 0h14M32 53h1m1 0h1m4 0h1m3 0h1m1 0h22m1 0h9m1 0h8M32 54h2m9 0h21m1 0h11m1 0h9M31 55h3m5 0h1m2 0h25m1 0h2m1 0h5m1 0h1m2 0h6M31 56h3m7 0h3m1 0h23m1 0h8m1 0h6m1 0h2M31 57h3m8 0h24m1 0h7m3 0h6m1 0h2m2 0h1M32 58h1m6 0h3m1 0h4m2 0h19m2 0h2m1 0h7m1 0h2m1 0h2m2 0h1M30 59h1m9 0h26m1 0h1m2 0h10m1 0h2m1 0h1M30 60h2m2 0h1m4 0h2m1 0h25m3 0h5m1 0h5m1 0h3M31 61h3m1 0h1m3 0h1m3 0h2m1 0h22m3 0h5m2 0h8M31 62h4m4 0h1m2 0h3m1 0h18m1 0h1m1 0h1m3 0h7m2 0h7M31 63h3m3 0h3m2 0h1m1 0h19m1 0h3m1 0h6m1 0h11M36 64h5m2 0h20m2 0h1m2 0h1m3 0h14M36 65h5m2 0h25m7 0h1m3 0h5M30 66h4m2 0h2m1 0h1m2 0h25m4 0h2m5 0h2m1 0h4M30 67h4m2 0h1m1 0h1m1 0h8m1 0h18m4 0h2m2 0h3m1 0h1m2 0h3M32 68h1m5 0h7m1 0h15m1 0h3m2 0h1m4 0h5m2 0h7M32 69h1m6 0h1m1 0h1m4 0h18m4 0h1m4 0h4m2 0h2m1 0h1m1 0h2M31 70h3m7 0h3m1 0h1m2 0h4m1 0h10m1 0h1m7 0h3m1 0h11M32 71h1m7 0h3m1 0h1m3 0h8m1 0h4m1 0h4m4 0h2m1 0h1m1 0h1m1 0h3m1 0h2m2 0h2M38 72h1m1 0h1m1 0h18m1 0h2m1 0h2m4 0h2m4 0h2m3 0h3M31 73h2m2 0h5m3 0h1m1 0h3m1 0h17m3 0h3m4 0h3m2 0h4M30 74h8m1 0h2m3 0h1m1 0h3m1 0h5m1 0h3m3 0h2m2 0h1m2 0h3m4 0h2m3 0h3M30 75h4m3 0h1m1 0h3m1 0h2m2 0h8m1 0h2m3 0h3m1 0h2m2 0h1m1 0h2m3 0h2m3 0h1m2 0h1M30 76h1m1 0h3m1 0h6m2 0h2m2 0h7m1 0h1m1 0h2m1 0h7m2 0h1m1 0h1m3 0h2m2 0h5M30 77h3m1 0h1m2 0h2m1 0h5m1 0h2m1 0h13m1 0h4m2 0h5m1 0h2m1 0h1m1 0h1m1 0h3M31 78h2m2 0h3m1 0h5m1 0h14m1 0h2m1 0h10m1 0h1m1 0h8M31 79h2m3 0h7m1 0h1m1 0h2m1 0h23m1 0h1m3 0h1m1 0h6M33 80h1m1 0h1m1 0h36m1 0h1m1 0h4m1 0h4M31 81h40m1 0h12m1 0h1M30 82h1m1 0h50m1 0h4M31 83h4m1 0h25m1 0h3m1 0h13m1 0h1m1 0h3m1 0h1M31 84h12m1 0h28m1 0h5m1 0h4m2 0h3M32 85h37m1 0h5m2 0h6m1 0h1m2 0h1M30 86h2m1 0h2m1 0h45m1 0h3M30 87h2m1 0h7m1 0h5m1 0h25m1 0h9m1 0h1M31 88h3m1 0h4m1 0h6m1 0h8m1 0h22m1 0h3m2 0h1M32 89h2m4 0h8m1 0h18m1 0h9m1 0h4m1 0h3M31 90h5m1 0h3m1 0h6m1 0h1m1 0h10m2 0h3m1 0h2m1 0h2m2 0h3m3 0h1m2 0h1M30 91h2m1 0h4m1 0h3m1 0h1m1 0h10m1 0h7m1 0h2m1 0h8m1 0h1m3 0h3M30 92h2m1 0h3m4 0h6m2 0h1m1 0h4m1 0h2m1 0h1m1 0h1m2 0h1m1 0h4m1 0h3m1 0h2m5 0h2M32 93h2m1 0h3m2 0h4m2 0h4m1 0h4m3 0h2m7 0h2m6 0h1m5 0h3M32 94h2m3 0h1m3 0h1m1 0h3m1 0h3m3 0h1m27 0h2M34 95h1m5 0h3m1 0h3m5 0h1m28 0h2M38 96h2m1 0h1m9 0h3m27 0h1M30 97h2m7 0h2m12 0h1M31 98h2m1 0h1m1 0h1M35 99h1m1 0h1M35 100h2m1 0h1M56 103h2M34 104h1m21 0h2M80 110h1"/>
<path stroke="#808080" d="M26 1h1M16 2h2M3 3h1M22 4h1m4 0h1M18 6h1m4 0h1M2 7h1M6 8h1M1 9h1m3 0h1M19 10h1m5 0h1M2 11h1m4 0h1M6 12h1m10 0h1M14 14h1m1 0h1m2 0h1m3 0h1m5 0h1M21 15h1m5 0h1M11 16h1m1 0h1m15 0h1M16 17h1m2 0h1M7 18h1M2 19h1m11 0h1m14 0h1M18 20h1M1 21h1m20 0h2M6 22h2m5 0h1m5 0h1M16 23h1m10 0h1M20 24h1m2 0h1M14 25h1m10 0h1M7 26h2m1 0h1m1 0h1m2 0h1m4 0h1M17 27h2m8 0h1m1 0h1M1 28h1m1 0h1M15 29h1m2 0h1m9 0h1M8 30h1m16 0h1M2 31h1m2 0h1m17 0h1m3 0h1M6 33h1m1 0h1m5 0h1m2 0h1M4 34h1m3 0h1m2 0h1M16 35h1m2 0h1M3 36h1m7 0h1M19 37h1m2 0h1M1 38h1m26 0h1M11 39h1m1 0h1m8 0h1M1 40h1m20 0h1M2 41h1M5 43h1m10 0h1m1 0h1m1 0h1M1 45h1m3 0h1m19 0h1m1 0h1M12 46h1M5 47h1m2 0h1m8 0h1m2 0h1m3 0h1M2 49h1m1 0h1m1 0h1m1 0h1m8 0h1M6 50h1M6 52h1m6 0h1m14 0h1M1 53h1m2 0h1M9 54h1M1 55h2m2 0h1m1 0h1M9 56h1M5 57h1m1 0h1m7 0h1M3 58h1M3 59h1m1 0h1m5 0h1M7 60h1M8 62h1M9 64h1m5 0h1m6 0h1M2 65h1m5 0h1m16 0h1M3 66h1m6 0h1m11 0h1M16 67h1m1 0h1m1 0h1M1 68h1m2 0h1M11 69h1m6 0h1M4 70h1m8 0h1m13 0h1M10 71h1M1 72h1m15 0h1m2 0h1M7 74h1m8 0h1M4 75h1m1 0h1m5 0h1M21 76h2"/>
<path stroke="#4a4a4a" d="M1 8h1M15 13h1M23 16h1M23 17h2m3 0h1M26 18h2M3 19h3m18 0h2m2 0h1M4 20h1m9 0h1M13 21h1m4 0h1M17 22h1m8 0h1M25 23h1M25 24h1M11 25h1m10 0h1M23 26h1M23 27h1M20 28h1m2 0h1M1 29h1m9 0h1m7 0h2m1 0h2M1 30h1m8 0h2m3 0h1m5 0h1M7 31h1m2 0h1m3 0h1m1 0h2m2 0h1m4 0h1m3 0h1M6 32h1m7 0h1m2 0h1m2 0h2m4 0h1M24 33h2M22 34h2m3 0h1M6 35h1m15 0h1M5 36h1m7 0h1m3 0h1m5 0h1m1 0h1m3 0h1M7 37h2m1 0h1m2 0h2m2 0h1M9 38h1m5 0h1m1 0h1M19 39h1m4 0h1m3 0h1M4 40h2m1 0h2m7 0h1m1 0h1m1 0h1M5 41h1m3 0h1m2 0h2m6 0h1m3 0h1M6 42h1M7 43h1m1 0h1m1 0h2m1 0h1m8 0h1m1 0h1M11 44h1m1 0h2m7 0h1m3 0h1M8 45h1m1 0h1m8 0h3m7 0h1M2 46h1m5 0h1m9 0h1M1 47h2m23 0h3M11 48h1m2 0h2m5 0h2M21 49h1m1 0h2m1 0h1M2 50h1m1 0h1m3 0h1m18 0h2M11 51h1m2 0h1m1 0h1m1 0h1m2 0h2m1 0h2M2 52h1m1 0h1m4 0h1m1 0h1m4 0h1m2 0h1m5 0h1m3 0h1M6 53h1m1 0h1m7 0h1m1 0h1m3 0h2M6 54h1m4 0h1m2 0h1m8 0h1m1 0h2M11 55h1m8 0h1m4 0h1m2 0h2M13 56h1m6 0h2M8 57h1m15 0h1M20 58h1m1 0h1M6 59h1m7 0h1m7 0h1M17 60h1m4 0h1m1 0h1m4 0h1M10 61h1m4 0h1m1 0h1m6 0h1m1 0h2M1 62h1m3 0h2m3 0h1m6 0h1m3 0h1m1 0h1m2 0h1M1 63h1m1 0h3m1 0h1m3 0h1m5 0h1m6 0h1M13 64h1m9 0h1m1 0h1M18 65h1m8 0h1m1 0h1M14 66h1m3 0h1M8 67h1m5 0h1m11 0h1M7 68h1m1 0h1m13 0h2m2 0h1M6 69h1m1 0h1m12 0h1m3 0h1M5 70h1m15 0h3M6 71h2m4 0h1m12 0h1m1 0h1M6 72h1m6 0h2m1 0h1m4 0h2m2 0h1M14 73h1m7 0h1m5 0h1M23 74h1M25 76h1"/>
<path stroke="#1a1a1a" d="M24 18h1M28 34h2M28 35h2M6 36h2m10 0h1M24 37h2M24 38h3M16 39h2m7 0h2M12 40h1m13 0h1m1 0h1M8 41h1m10 0h1m5 0h1m1 0h3M8 42h1m10 0h1m4 0h1m1 0h4M8 43h1m19 0h1M9 44h1m19 0h1M12 48h1m14 0h1m1 0h1M11 49h4m13 0h1M10 50h1m2 0h1m3 0h1m4 0h1m2 0h1M3 51h1m5 0h2m6 0h1M22 52h1M12 54h2m3 0h2M12 55h2m3 0h3m7 0h1M17 56h1m8 0h1m1 0h1M17 57h2m6 0h1m1 0h1M17 58h3m5 0h4M15 59h2m2 0h1m3 0h1m2 0h3M14 60h2m3 0h2m4 0h1M11 61h3m5 0h2M2 62h1m9 0h2m5 0h1M2 63h1m9 0h2m4 0h3M18 64h2M14 65h1M15 66h1m11 0h2M27 67h1M24 69h1M26 72h2M15 73h1m11 0h1M25 74h2m1 0h1M24 75h6M27 76h3"/>
</g>
</g>
<path d="M58.4 502H27.2" stroke="#0c0c0c" stroke-width="2.7" stroke-dasharray="2.7 2.6" fill="none"/>
<path d="M57.1 537.5V502" stroke="#0c0c0c" stroke-width="2.7" stroke-dasharray="2.7 2.6" fill="none"/>
<path d="M22.2 425.1H142V538" stroke="#222" stroke-width="1" fill="none"/>
<path d="M27.2 425.1V538H142M27.2 538h-5M27.2 538v4M27.2 509.77h-5M55.9 538v4M27.2 481.55h-5M84.6 538v4M27.2 453.33h-5M113.3 538v4M27.2 425.1h-5M142 538v4" stroke="#111" stroke-width="1.3" fill="none"/>
<path d="M27.2 529.5h-2M35.84 538v2M27.2 524.53h-2M40.89 538v2M27.2 521.01h-2M44.48 538v2M27.2 518.27h-2M47.26 538v2M27.2 516.04h-2M49.53 538v2M27.2 514.15h-2M51.45 538v2M27.2 512.51h-2M53.12 538v2M27.2 511.07h-2M54.59 538v2M27.2 501.28h-2M64.54 538v2M27.2 496.31h-2M69.59 538v2M27.2 492.78h-2M73.18 538v2M27.2 490.05h-2M75.96 538v2M27.2 487.81h-2M78.23 538v2M27.2 485.92h-2M80.15 538v2M27.2 484.29h-2M81.82 538v2M27.2 482.84h-2M83.29 538v2M27.2 473.05h-2M93.24 538v2M27.2 468.08h-2M98.29 538v2M27.2 464.56h-2M101.88 538v2M27.2 461.82h-2M104.66 538v2M27.2 459.59h-2M106.93 538v2M27.2 457.7h-2M108.85 538v2M27.2 456.06h-2M110.52 538v2M27.2 454.62h-2M111.99 538v2M27.2 444.83h-2M121.94 538v2M27.2 439.86h-2M126.99 538v2M27.2 436.33h-2M130.58 538v2M27.2 433.6h-2M133.36 538v2M27.2 431.36h-2M135.63 538v2M27.2 429.47h-2M137.55 538v2M27.2 427.84h-2M139.22 538v2M27.2 426.39h-2M140.69 538v2" stroke="#222" stroke-width="0.6" fill="none"/>
<text transform="translate(20,538.6) rotate(-90)" font-family='"Liberation Sans",Arial,sans-serif' font-weight="bold" font-size="8.1" text-anchor="middle" fill="#111">10<tspan dy="-2.4" font-size="6">0</tspan></text>
<text transform="translate(20,510.38) rotate(-90)" font-family='"Liberation Sans",Arial,sans-serif' font-weight="bold" font-size="8.1" text-anchor="middle" fill="#111">10<tspan dy="-2.4" font-size="6">1</tspan></text>
<text transform="translate(20,482.15) rotate(-90)" font-family='"Liberation Sans",Arial,sans-serif' font-weight="bold" font-size="8.1" text-anchor="middle" fill="#111">10<tspan dy="-2.4" font-size="6">2</tspan></text>
<text transform="translate(20,453.93) rotate(-90)" font-family='"Liberation Sans",Arial,sans-serif' font-weight="bold" font-size="8.1" text-anchor="middle" fill="#111">10<tspan dy="-2.4" font-size="6">3</tspan></text>
<text transform="translate(20,425.7) rotate(-90)" font-family='"Liberation Sans",Arial,sans-serif' font-weight="bold" font-size="8.1" text-anchor="middle" fill="#111">10<tspan dy="-2.4" font-size="6">4</tspan></text>
<text x="23.4" y="552.8" font-family='"Liberation Serif","Times New Roman",serif' font-size="7.6" fill="#333" letter-spacing=".1">10<tspan dx="1.2" dy="-2.1" font-size="6">0</tspan></text>
<text x="52.1" y="552.8" font-family='"Liberation Serif","Times New Roman",serif' font-size="7.6" fill="#333" letter-spacing=".1">10<tspan dx="1.2" dy="-2.1" font-size="6">1</tspan></text>
<text x="80.8" y="552.8" font-family='"Liberation Serif","Times New Roman",serif' font-size="7.6" fill="#333" letter-spacing=".1">10<tspan dx="1.2" dy="-2.1" font-size="6">2</tspan></text>
<text x="109.5" y="552.8" font-family='"Liberation Serif","Times New Roman",serif' font-size="7.6" fill="#333" letter-spacing=".1">10<tspan dx="1.2" dy="-2.1" font-size="6">3</tspan></text>
<text x="138.2" y="552.8" font-family='"Liberation Serif","Times New Roman",serif' font-size="7.6" fill="#333" letter-spacing=".1">10<tspan dx="1.2" dy="-2.1" font-size="6">4</tspan></text>
<text transform="translate(8.4,530) rotate(-90)" font-family='"Liberation Serif","Times New Roman",serif' font-weight="bold" font-size="11" fill="#111" stroke="#111" stroke-width=".25">Annexin V PE</text>
<path d="M3.9 459.1V442.1" stroke="#111" stroke-width="1.8" fill="none"/>
<path d="M3.9 437.7l-2.6 5.4h5.2z" fill="#111"/>
<text x="27.8" y="565.6" font-family='"Liberation Serif","Times New Roman",serif' font-size="8.8" fill="#111">7 AAD</text>
<path d="M56.2 563.8H74.2" stroke="#111" stroke-width="1.8" fill="none"/>
<path d="M78.6 563.8l-5.6 -2.8v5.6z" fill="#111"/>
<text x="27.8" y="580" font-family='"Liberation Serif","Times New Roman",serif' font-size="12.3" fill="#111">Bortezomib 0nM Control</text>
<text x="30.1" y="529.7" font-family='"Liberation Serif","Times New Roman",serif' font-weight="bold" font-size="13" fill="#000" stroke="#000" stroke-width=".35">59%</text>
<g transform="translate(207.9,425.1)">
<rect x="0" y="78.2" width="33.1" height="34.5" fill="#b8b8b8"/>
<g transform="translate(0,.5)" fill="none" shape-rendering="crispEdges">
<path stroke="#dcdcdc" d="M6 79h1m3 0h1m2 0h1m1 0h1m2 0h2M1 80h1m1 0h3m1 0h5m2 0h3m1 0h2m1 0h2m4 0h3m1 0h1M2 81h1m1 0h1m3 0h3m1 0h2m3 0h3m1 0h7m2 0h1M2 82h1m5 0h10m1 0h1m3 0h1m4 0h1M6 83h1m2 0h2m2 0h1m1 0h2m5 0h1m2 0h1m3 0h1M1 84h1m7 0h2m5 0h2m4 0h2m5 0h1M7 85h1m2 0h1m7 0h1m5 0h4M19 86h3m2 0h3m3 0h1M10 87h1m11 0h1"/>
<path stroke="#9a9a9a" d="M41 0h1m32 0h1M54 1h1m4 0h1M56 2h1M48 3h1M40 4h1M51 5h1m6 0h1M34 6h1m6 0h1m4 0h1m6 0h1m22 0h1m3 0h1M55 7h1m2 0h1m12 0h1m19 0h1M35 8h1m1 0h1m38 0h1M34 9h1m5 0h1m9 0h1m18 0h1m1 0h1M40 10h1m4 0h1m19 0h1m6 0h1m15 0h1m2 0h1M43 11h1m5 0h2m29 0h1m1 0h1m7 0h1M37 12h1m9 0h1m4 0h1m12 0h1m3 0h1M44 13h1m11 0h1m3 0h1m8 0h1M38 14h1m28 0h1m7 0h1m3 0h2M45 15h1m3 0h1m6 0h1m5 0h1m10 0h1m10 0h1M33 16h1m20 0h1m35 0h1M42 17h1m2 0h1m5 0h1m22 0h1M64 18h1m19 0h1m7 0h1M40 19h1m8 0h1m19 0h1m2 0h1m26 0h1M33 20h1m11 0h2m5 0h1m9 0h1m4 0h1m5 0h1m6 0h1m2 0h2m5 0h1M41 21h1m57 0h1M35 22h1m1 0h1m7 0h1m4 0h1m2 0h1m10 0h1m6 0h1M51 23h1m19 0h1m10 0h1M34 24h1m1 0h1m16 0h1m10 0h1m35 0h1M82 26h1m3 0h1m2 0h1M47 27h1m2 0h1M43 28h1m40 0h1m3 0h1m2 0h1m1 0h1M85 30h1m8 0h1M39 31h1m1 0h1m1 0h1m43 0h1m2 0h1m1 0h1M83 32h1m1 0h1M37 33h1m56 0h1M35 34h1m50 0h2M35 36h1m1 0h1m56 0h1m5 0h1M39 37h1m53 0h1m2 0h1M35 38h1m48 0h1m4 0h1M39 39h1m53 0h1M35 40h1m70 0h1M94 41h1M90 43h1M92 44h1m3 0h1M93 47h1M87 49h1M39 50h1m51 0h1m8 0h1M95 51h2M87 53h1M85 54h1m3 0h1M39 55h1m47 0h1M86 57h1m6 0h1m9 0h1M86 59h1m6 0h1M103 60h1M84 62h1m6 0h1m1 0h1M86 63h1m10 0h1M101 65h1M92 66h1M91 67h1m4 0h1M87 68h1m1 0h1m9 0h1M85 69h1m3 0h1M87 71h2m9 0h1M34 72h1m1 0h1m47 0h1M87 73h2m3 0h1M89 75h1M89 76h1M89 78h1M96 80h1M98 82h1M84 83h1m6 0h1m6 0h1M89 84h1M87 85h1m6 0h1m6 0h1M90 86h1m1 0h1m4 0h2M88 87h1m4 0h1M84 89h1m2 0h1m5 0h1m4 0h1M90 90h1M84 91h1M70 93h1M50 94h1m12 0h1m1 0h1m25 0h1M56 95h1m4 0h1M59 96h1m9 0h1m1 0h1m21 0h1M46 97h1m10 0h1m15 0h1m9 0h1m9 0h1M39 98h1m8 0h1m1 0h2m1 0h1m13 0h1m3 0h1m1 0h1M54 99h1m1 0h1m1 0h1m3 0h1m19 0h1m1 0h1m1 0h1M72 100h1m25 0h1M52 101h1m1 0h1m10 0h1m8 0h1m7 0h1m2 0h1M49 102h1m13 0h1m6 0h1M39 103h1m12 0h1m6 0h1m5 0h1m4 0h1m16 0h1m6 0h1M33 104h1m2 0h1m13 0h1m4 0h2m3 0h1m17 0h1m7 0h1M40 105h1m3 0h2m16 0h1m1 0h1M35 106h1m2 0h1m8 0h1m1 0h1m7 0h1m1 0h1m10 0h1m11 0h1M37 107h1m11 0h1M41 108h1m1 0h1m17 0h1m13 0h1m9 0h1m10 0h1M34 109h1m3 0h1m8 0h1m7 0h1m23 0h1m5 0h1m9 0h1M49 110h1m26 0h1m4 0h1M44 111h1m24 0h1m2 0h1m13 0h1M33 112h1m1 0h1m1 0h1m8 0h1m13 0h1m6 0h1"/>
<path stroke="#6a6a6a" d="M54 11h3M66 12h2M67 13h1M58 15h1m12 0h1M48 16h1m9 0h2m8 0h1m1 0h1m1 0h1M47 17h1m4 0h1m6 0h1m5 0h3m1 0h2m5 0h2m4 0h2M48 18h1m4 0h1m5 0h1m6 0h1m11 0h1m2 0h1M53 19h2m1 0h1m2 0h1m16 0h1m1 0h1m1 0h1M41 20h1m33 0h1M55 21h1m1 0h1m1 0h1m1 0h1m14 0h1M48 22h1m5 0h1m11 0h1m1 0h1m11 0h1M36 23h1m9 0h1m1 0h1m7 0h1m3 0h1m2 0h1m2 0h1m7 0h1m1 0h1m2 0h1M38 24h2m3 0h1m23 0h2M39 25h1m3 0h2m2 0h1m1 0h1m19 0h1m1 0h1m5 0h2m1 0h1M33 26h2m9 0h1m3 0h1m4 0h1m4 0h1m6 0h1m4 0h3m7 0h1M33 27h1m5 0h2m3 0h1m6 0h1m4 0h1m20 0h1m9 0h1M33 28h1m36 0h1m8 0h1m2 0h1M34 29h1m3 0h1m1 0h1m4 0h1m1 0h1m1 0h2m2 0h1m1 0h1m17 0h1m1 0h1m1 0h2m5 0h1M34 30h1m1 0h2m10 0h1m19 0h1M34 31h1m17 0h2m27 0h2M33 32h1m2 0h1m5 0h1m3 0h2m1 0h1m24 0h1m11 0h1M81 33h1M39 34h1m3 0h1m1 0h1m2 0h1M35 35h1m3 0h1m41 0h2M33 36h1m39 0h1m7 0h1m5 0h3M73 37h1m11 0h1m4 0h1M36 38h1m50 0h1M37 39h1m3 0h1m1 0h1m43 0h1M37 40h1m1 0h1m48 0h1M37 41h1m1 0h1m1 0h1m44 0h1m1 0h1M39 42h1m1 0h1m44 0h1m1 0h1m3 0h2M35 43h1m50 0h1m4 0h1M39 44h1m1 0h1m1 0h1m39 0h2m2 0h1M37 45h1m29 0h1m13 0h1m3 0h1m1 0h1M81 46h1m1 0h2m3 0h1m2 0h1M33 47h1m2 0h1m1 0h1m50 0h1M33 48h1m6 0h1m43 0h1m7 0h1M35 49h1m6 0h1m41 0h1m4 0h2M37 50h1M84 51h1m1 0h3M35 52h1m53 0h1M35 53h1m57 0h1M33 54h2m2 0h1m54 0h2M37 55h1m3 0h1m49 0h1M33 56h2m55 0h1M35 57h1m1 0h1m1 0h1m45 0h1m3 0h2M33 58h1m56 0h1M35 59h1m3 0h1m44 0h1m5 0h1M33 60h1m1 0h1m47 0h1m6 0h2m4 0h1M37 61h1m1 0h1m55 0h2M39 62h1m42 0h1m12 0h1M94 63h1M33 64h1m48 0h1m1 0h1m3 0h1M35 65h2m49 0h1m1 0h2M33 66h1m40 0h1m7 0h1m1 0h1m1 0h1m2 0h1M76 67h1m7 0h1m2 0h1M70 68h2m1 0h1M65 69h1m1 0h1m16 0h1M34 70h1m38 0h1M37 71h1m27 0h1m1 0h2M62 72h1m6 0h2m12 0h1M64 73h1m3 0h1M34 74h2m26 0h1m1 0h1m3 0h1m1 0h2m11 0h1M33 75h1m49 0h1M58 76h1m10 0h1m1 0h1m11 0h1M83 78h1m1 0h2m1 0h1M87 79h1M33 80h1m50 0h2M33 81h1m48 0h2m11 0h1M92 82h1m1 0h1M83 83h1m9 0h1M94 84h1M83 85h1M74 86h1M85 87h1M33 90h1m38 0h1m3 0h1m5 0h1m5 0h1M64 91h1m5 0h1m1 0h1m1 0h1M33 92h1m28 0h1m3 0h1m7 0h1m6 0h2m6 0h2M33 93h1m5 0h1m7 0h1m11 0h2m3 0h1m3 0h1m4 0h1m2 0h1M33 94h1m24 0h1m8 0h2m4 0h2m3 0h1M34 95h1m5 0h1m1 0h1m4 0h2m11 0h1m9 0h1m6 0h1m3 0h1M33 96h1m10 0h1m4 0h3m1 0h1m22 0h2M33 97h1m2 0h1m7 0h1m34 0h1M47 98h1m10 0h1m16 0h2M34 99h1m1 0h2m40 0h1M40 100h1m1 0h1m20 0h1m13 0h2m1 0h2M34 101h1m11 0h1m4 0h1m11 0h1M37 102h1m3 0h1m1 0h2m1 0h1m3 0h1M34 103h1m6 0h1m38 0h1M63 104h1M78 106h2M34 107h1m44 0h1M35 108h1m44 0h1M75 109h1M48 110h1M36 112h1"/>
<path stroke="#3e3e3e" d="M55 12h1M77 18h1M55 20h1m1 0h1m1 0h2M56 21h1m1 0h1m8 0h1m9 0h2M67 22h1m9 0h3M47 23h1M48 24h1m6 0h2m2 0h1m1 0h2m10 0h3M55 25h8m10 0h2M54 26h1m5 0h3m4 0h2m5 0h2m2 0h2M52 27h1m1 0h2m4 0h5m1 0h3m6 0h2m3 0h1M39 28h2m11 0h2m2 0h5m1 0h2m1 0h1m1 0h3m5 0h1m5 0h1M46 29h1m9 0h1m1 0h3m1 0h1m1 0h2m4 0h2m2 0h1m5 0h3M45 30h2m3 0h1m5 0h1m2 0h3m1 0h5m3 0h3m2 0h1m1 0h1m2 0h1M35 31h1m9 0h2m3 0h2m3 0h2m1 0h2m1 0h8m1 0h3m3 0h3M51 32h1m2 0h1m1 0h3m1 0h5m1 0h6m1 0h1m2 0h5M40 33h2m7 0h2m3 0h2m2 0h14m1 0h2m1 0h5M40 34h3m3 0h2m2 0h5m1 0h1m1 0h1m1 0h3m1 0h6m1 0h2m1 0h1m1 0h4M42 35h1m1 0h1m1 0h2m2 0h2m1 0h1m1 0h3m1 0h1m2 0h3m1 0h2m1 0h3m2 0h2m1 0h1m1 0h2M41 36h9m1 0h3m1 0h6m1 0h1m1 0h2m1 0h1m2 0h1m4 0h5M40 37h2m2 0h1m1 0h1m1 0h4m1 0h18m1 0h1m3 0h2m1 0h1m7 0h1M41 38h1m3 0h1m1 0h17m1 0h2m1 0h2m1 0h2m3 0h6m4 0h1M42 39h1m2 0h9m1 0h1m1 0h12m2 0h8m1 0h3M42 40h1m1 0h6m1 0h10m1 0h9m1 0h12M38 41h1m3 0h6m1 0h13m1 0h2m1 0h2m1 0h4m1 0h11M43 42h16m1 0h2m1 0h3m2 0h3m1 0h13m2 0h1M42 43h1m3 0h2m2 0h3m1 0h2m1 0h9m1 0h2m1 0h3m1 0h3m1 0h2m4 0h1M34 44h2m4 0h1m5 0h3m1 0h17m1 0h3m1 0h3m1 0h5M33 45h4m2 0h2m3 0h5m1 0h16m3 0h4m1 0h6M34 46h1m1 0h1m1 0h1m1 0h12m1 0h3m1 0h6m1 0h3m2 0h4m1 0h7M34 47h2m1 0h1m1 0h20m1 0h8m1 0h3m1 0h7m2 0h2m6 0h2M43 48h27m1 0h4m1 0h3m1 0h3m7 0h1M36 49h1m6 0h18m1 0h10m1 0h2m1 0h5m1 0h2M33 50h1m1 0h2m7 0h18m1 0h3m1 0h8m1 0h4m1 0h3M33 51h2m1 0h1m4 0h31m1 0h9M33 52h1m5 0h23m1 0h20m1 0h2m2 0h1M33 53h1m4 0h25m1 0h9m2 0h7m1 0h2M39 54h1m1 0h1m1 0h28m3 0h1m1 0h3m1 0h4M36 55h1m5 0h24m1 0h14m1 0h1M35 56h1m1 0h1m3 0h1m1 0h17m1 0h9m1 0h10m1 0h3M36 57h1m3 0h28m2 0h3m1 0h8m1 0h2M39 58h2m1 0h24m1 0h17M42 59h30m1 0h8m1 0h1M36 60h1m3 0h23m1 0h8m2 0h8M33 61h1m2 0h1m4 0h20m1 0h7m1 0h10m1 0h1M33 62h3m1 0h1m2 0h32m1 0h9M34 63h4m3 0h3m1 0h14m3 0h5m1 0h1m1 0h1m1 0h2m1 0h6M34 64h1m2 0h45m3 0h1M38 65h2m1 0h3m1 0h16m1 0h7m1 0h5m2 0h5m1 0h2M35 66h1m2 0h26m1 0h4m2 0h1m1 0h1m4 0h4M33 67h4m2 0h2m2 0h22m1 0h3m3 0h1m4 0h4M34 68h8m1 0h2m1 0h13m2 0h2m2 0h1m1 0h2m5 0h2m2 0h6M33 69h2m1 0h3m1 0h19m1 0h5m3 0h3m3 0h2m1 0h6M35 70h2m1 0h1m1 0h17m1 0h1m1 0h5m4 0h3m3 0h7M39 71h9m1 0h11m4 0h1m6 0h2m2 0h7M39 72h2m1 0h18m3 0h1m2 0h1m6 0h10M38 73h16m1 0h4m3 0h1m3 0h2m5 0h3m1 0h3m2 0h1M36 74h2m1 0h10m1 0h2m1 0h9m3 0h2m6 0h7m1 0h2M36 75h3m1 0h2m3 0h9m1 0h2m2 0h2m1 0h1m1 0h1m1 0h2m3 0h2m1 0h2m1 0h5M33 76h1m1 0h10m1 0h2m1 0h1m1 0h1m1 0h1m1 0h3m1 0h2m1 0h3m1 0h3m4 0h3m1 0h5M33 77h24m4 0h7m1 0h1m2 0h1m1 0h1m1 0h1m1 0h3m1 0h2M33 78h15m2 0h9m2 0h14m1 0h7M34 79h1m1 0h3m1 0h1m1 0h7m1 0h13m1 0h3m1 0h8m1 0h3m1 0h1m4 0h1M35 80h1m3 0h3m1 0h2m1 0h2m1 0h11m1 0h5m1 0h10m1 0h4M35 81h28m1 0h7m1 0h4m1 0h1m1 0h2M33 82h7m1 0h16m1 0h22m1 0h1M33 83h2m1 0h22m1 0h7m1 0h5m1 0h6m1 0h3M33 84h1m1 0h28m1 0h18M33 85h2m1 0h1m1 0h37m1 0h1m1 0h1m1 0h1M33 86h5m1 0h34m3 0h9M33 87h6m1 0h30m1 0h2m2 0h10M33 88h11m1 0h9m1 0h5m1 0h3m1 0h3m1 0h6m1 0h6m1 0h1M33 89h33m1 0h1m1 0h2m1 0h1m1 0h2m2 0h3m1 0h1M35 90h1m1 0h8m1 0h16m3 0h6m2 0h1m4 0h1m1 0h2M34 91h6m1 0h3m1 0h5m1 0h2m1 0h2m1 0h6m2 0h1m1 0h2m8 0h5m7 0h1M34 92h4m1 0h5m1 0h1m1 0h1m1 0h6m1 0h3m2 0h1m13 0h2m1 0h2M36 93h1m3 0h6m2 0h2m2 0h4m1 0h1m19 0h1M36 94h2m4 0h1m1 0h2m1 0h1m4 0h4M35 95h4m6 0h2m5 0h1m1 0h1m25 0h1M36 96h2m1 0h4m36 0h3M34 97h2m4 0h4m32 0h1m3 0h1M34 98h1m7 0h2M35 99h1m7 0h1M34 100h1m3 0h2m3 0h2M35 101h2m1 0h2m3 0h1m1 0h1m33 0h1M35 102h2m3 0h1m1 0h1m36 0h2M79 103h1"/>
<path stroke="#808080" d="M29 2h1M30 3h1M32 4h1M3 5h1M19 7h1m7 0h1M14 9h1m3 0h1m6 0h1m1 0h1m4 0h1M2 10h2M4 12h1m6 0h1m1 0h1m2 0h1m1 0h1m5 0h1M1 13h1m5 0h1m20 0h1M17 14h1m1 0h1M4 15h1m1 0h1m4 0h1m7 0h1m11 0h1M2 16h1m19 0h2M9 17h1m5 0h1M8 18h1m2 0h1m3 0h1m15 0h1M3 19h1m14 0h1m5 0h1M22 20h1M18 21h1m6 0h1m2 0h1m1 0h1m1 0h1M5 22h1m1 0h1m8 0h1M3 23h1m4 0h1m15 0h1m6 0h1M6 24h1m3 0h1m6 0h1M4 25h1m11 0h1m5 0h1m7 0h1M1 26h2m4 0h1m12 0h1m7 0h1M4 27h1m12 0h1m2 0h1M1 28h1m8 0h1m3 0h1m3 0h1M1 29h1m7 0h1m6 0h1m3 0h1M25 30h1M14 31h1m1 0h1M31 32h1M2 33h1m9 0h1M4 34h1m25 0h1m1 0h1M9 35h1m1 0h1m8 0h1M1 36h2m27 0h1M20 37h1m3 0h1M1 38h1m7 0h1m1 0h1m10 0h1m1 0h1M4 39h1m21 0h1M7 40h1m9 0h1m6 0h1M32 41h1M3 42h1m18 0h1m1 0h1m2 0h1M17 43h1m12 0h1M2 44h1m8 0h1m10 0h1m3 0h1m1 0h1M9 45h1m3 0h1m4 0h1M19 48h1M15 49h1M3 50h2M16 51h1M5 52h1M3 53h1m13 0h1M3 54h1m1 0h1m1 0h1m12 0h1m7 0h1M1 55h1m7 0h1M4 56h1m2 0h1m8 0h1M25 57h1m4 0h1M2 58h1m6 0h1m1 0h1m15 0h1M12 60h1m18 0h1M9 61h1m12 0h1M1 62h1m15 0h1M1 63h1m1 0h1m5 0h1m5 0h1M18 64h1M2 65h1m7 0h1m4 0h1M6 66h1m1 0h1M8 67h1m3 0h1m5 0h1M6 68h1m3 0h1m9 0h1M8 69h1m20 0h1M6 70h1m1 0h1m10 0h1m2 0h1m2 0h1M15 71h1m7 0h1M7 72h1m9 0h1m7 0h1m2 0h1M1 73h2m1 0h1m5 0h1m3 0h1m4 0h1M14 74h1m2 0h1m6 0h1M5 75h1m5 0h1M15 76h1m6 0h1M18 77h1m4 0h1m6 0h1M6 78h1m1 0h1m1 0h1"/>
<path stroke="#4a4a4a" d="M18 8h1M27 14h1m2 0h1M5 15h1m22 0h2M3 17h1m28 0h1M3 18h1M23 19h1M29 20h1M20 23h2M20 24h1m1 0h1m2 0h1M24 25h2m3 0h1M24 27h1M22 28h1M21 29h1M22 30h1M19 31h1m12 0h1M24 32h2M16 33h1m5 0h1m4 0h2M3 34h1m7 0h1m12 0h1M16 35h1m5 0h2m2 0h1m1 0h2m2 0h1M4 36h1m27 0h1M4 37h2m9 0h2m1 0h2m7 0h2M13 38h1m4 0h1m7 0h1m3 0h1M1 39h1m8 0h1m8 0h1m1 0h1m9 0h1M1 40h2m8 0h2m1 0h1m6 0h1m9 0h1M1 41h1m2 0h2m1 0h1m10 0h1m8 0h1m1 0h1M6 42h1m2 0h2m2 0h1m5 0h2m9 0h1M8 43h2m3 0h1m1 0h1M7 44h1m7 0h1m7 0h1m9 0h1M5 45h1m10 0h1m7 0h1m1 0h1m4 0h1M7 46h1m4 0h1m7 0h1m1 0h1m1 0h1m1 0h1m1 0h1m2 0h1M11 47h1m2 0h1m1 0h2m6 0h1m5 0h1M10 48h1m2 0h1m14 0h1M6 49h2m2 0h1m1 0h1m1 0h1m13 0h1m1 0h1m2 0h1M6 50h1m6 0h1m5 0h2m1 0h1m7 0h1M8 51h2m1 0h1m7 0h1m8 0h1M9 52h1m10 0h1m2 0h1m2 0h2m1 0h1M15 53h1m4 0h1m2 0h2M10 54h1m15 0h1M7 55h1m4 0h1m10 0h2m5 0h1M14 56h1m3 0h2m3 0h1m2 0h2M18 57h1m4 0h1m8 0h1M5 58h1m10 0h1m2 0h1m1 0h1m1 0h1m6 0h1M5 59h2m4 0h1m6 0h1m2 0h1m1 0h1m1 0h2m2 0h1m3 0h1M7 60h1m7 0h3m6 0h1m1 0h1m3 0h1M7 61h2m19 0h1M11 62h1m8 0h1m9 0h1M11 63h1m1 0h1m4 0h1m5 0h2m1 0h2M13 64h1m6 0h1m1 0h1m2 0h1m3 0h3M3 65h1m1 0h1m6 0h1m9 0h1m4 0h2M15 66h1m12 0h1m1 0h1M3 67h2m17 0h5m5 0h1M15 68h1m1 0h1m3 0h1m7 0h1m1 0h1M13 69h1m2 0h1m9 0h1m4 0h1M12 70h1M11 71h1m1 0h1m4 0h1M12 72h1m19 0h1M5 73h1m1 0h1m4 0h1m9 0h1m3 0h1m2 0h1M6 74h1m2 0h1m2 0h1m8 0h2m4 0h1m1 0h1m1 0h1M9 75h1m8 0h2m4 0h1m6 0h1M9 76h1m8 0h1m9 0h2M8 77h1m16 0h1m6 0h1"/>
<path stroke="#1a1a1a" d="M23 28h2M23 29h2M18 32h1m1 0h1M17 33h5m3 0h1M16 34h2m3 0h1m1 0h1m2 0h2M27 35h1M14 38h2m12 0h2M14 39h1m13 0h2M13 40h1m6 0h1m7 0h1M14 41h1m4 0h1m1 0h1M14 42h1M6 45h2m21 0h1M6 46h1m8 0h2m10 0h1m1 0h2M20 47h4m2 0h1M21 48h2m1 0h1m1 0h2M22 49h2m1 0h1m1 0h1M11 50h1m12 0h3m4 0h2M10 51h1m1 0h1m12 0h1m5 0h1M13 52h3m16 0h1M12 53h3m11 0h1m3 0h2M11 54h3m11 0h1m4 0h2M26 55h1m4 0h2M13 57h3M13 58h3M14 59h2m4 0h1M19 60h2M19 61h3m7 0h1M28 62h1m3 0h1M12 63h1m18 0h2M11 64h1m9 0h1M21 65h1M4 66h1M14 67h1m14 0h2M13 68h2m10 0h1M31 70h2M31 71h2M26 75h2m2 0h1M25 76h3"/>
</g>
</g>
<path d="M242.3 503.3H207.9" stroke="#0c0c0c" stroke-width="2.7" stroke-dasharray="2.7 2.6" fill="none"/>
<path d="M241 537.3V503.3" stroke="#0c0c0c" stroke-width="2.7" stroke-dasharray="2.7 2.6" fill="none"/>
<path d="M202.9 425.1H321.7V537.8" stroke="#222" stroke-width="1" fill="none"/>
<path d="M207.9 425.1V537.8H321.7M207.9 537.8h-5M207.9 537.8v4M207.9 509.62h-5M236.35 537.8v4M207.9 481.45h-5M264.8 537.8v4M207.9 453.27h-5M293.25 537.8v4M207.9 425.1h-5M321.7 537.8v4" stroke="#111" stroke-width="1.3" fill="none"/>
<path d="M207.9 529.32h-2M216.46 537.8v2M207.9 524.36h-2M221.47 537.8v2M207.9 520.84h-2M225.03 537.8v2M207.9 518.11h-2M227.79 537.8v2M207.9 515.88h-2M230.04 537.8v2M207.9 513.99h-2M231.94 537.8v2M207.9 512.36h-2M233.59 537.8v2M207.9 510.91h-2M235.05 537.8v2M207.9 501.14h-2M244.91 537.8v2M207.9 496.18h-2M249.92 537.8v2M207.9 492.66h-2M253.48 537.8v2M207.9 489.93h-2M256.24 537.8v2M207.9 487.7h-2M258.49 537.8v2M207.9 485.81h-2M260.39 537.8v2M207.9 484.18h-2M262.04 537.8v2M207.9 482.74h-2M263.5 537.8v2M207.9 472.97h-2M273.36 537.8v2M207.9 468.01h-2M278.37 537.8v2M207.9 464.49h-2M281.93 537.8v2M207.9 461.76h-2M284.69 537.8v2M207.9 459.53h-2M286.94 537.8v2M207.9 457.64h-2M288.84 537.8v2M207.9 456.01h-2M290.49 537.8v2M207.9 454.56h-2M291.95 537.8v2M207.9 444.79h-2M301.81 537.8v2M207.9 439.83h-2M306.82 537.8v2M207.9 436.31h-2M310.38 537.8v2M207.9 433.58h-2M313.14 537.8v2M207.9 431.35h-2M315.39 537.8v2M207.9 429.46h-2M317.29 537.8v2M207.9 427.83h-2M318.94 537.8v2M207.9 426.39h-2M320.4 537.8v2" stroke="#222" stroke-width="0.6" fill="none"/>
<text transform="translate(200.7,538.4) rotate(-90)" font-family='"Liberation Sans",Arial,sans-serif' font-weight="bold" font-size="8.1" text-anchor="middle" fill="#111">10<tspan dy="-2.4" font-size="6">0</tspan></text>
<text transform="translate(200.7,510.23) rotate(-90)" font-family='"Liberation Sans",Arial,sans-serif' font-weight="bold" font-size="8.1" text-anchor="middle" fill="#111">10<tspan dy="-2.4" font-size="6">1</tspan></text>
<text transform="translate(200.7,482.05) rotate(-90)" font-family='"Liberation Sans",Arial,sans-serif' font-weight="bold" font-size="8.1" text-anchor="middle" fill="#111">10<tspan dy="-2.4" font-size="6">2</tspan></text>
<text transform="translate(200.7,453.88) rotate(-90)" font-family='"Liberation Sans",Arial,sans-serif' font-weight="bold" font-size="8.1" text-anchor="middle" fill="#111">10<tspan dy="-2.4" font-size="6">3</tspan></text>
<text transform="translate(200.7,425.7) rotate(-90)" font-family='"Liberation Sans",Arial,sans-serif' font-weight="bold" font-size="8.1" text-anchor="middle" fill="#111">10<tspan dy="-2.4" font-size="6">4</tspan></text>
<text x="204.1" y="552.6" font-family='"Liberation Serif","Times New Roman",serif' font-size="7.6" fill="#333" letter-spacing=".1">10<tspan dx="1.2" dy="-2.1" font-size="6">0</tspan></text>
<text x="232.55" y="552.6" font-family='"Liberation Serif","Times New Roman",serif' font-size="7.6" fill="#333" letter-spacing=".1">10<tspan dx="1.2" dy="-2.1" font-size="6">1</tspan></text>
<text x="261" y="552.6" font-family='"Liberation Serif","Times New Roman",serif' font-size="7.6" fill="#333" letter-spacing=".1">10<tspan dx="1.2" dy="-2.1" font-size="6">2</tspan></text>
<text x="289.45" y="552.6" font-family='"Liberation Serif","Times New Roman",serif' font-size="7.6" fill="#333" letter-spacing=".1">10<tspan dx="1.2" dy="-2.1" font-size="6">3</tspan></text>
<text x="317.9" y="552.6" font-family='"Liberation Serif","Times New Roman",serif' font-size="7.6" fill="#333" letter-spacing=".1">10<tspan dx="1.2" dy="-2.1" font-size="6">4</tspan></text>
<text transform="translate(189.1,529.8) rotate(-90)" font-family='"Liberation Serif","Times New Roman",serif' font-weight="bold" font-size="11" fill="#111" stroke="#111" stroke-width=".25">Annexin V PE</text>
<path d="M184.6 459.1V442.1" stroke="#111" stroke-width="1.8" fill="none"/>
<path d="M184.6 437.7l-2.6 5.4h5.2z" fill="#111"/>
<text x="208.5" y="565.4" font-family='"Liberation Serif","Times New Roman",serif' font-size="8.8" fill="#111">7 AAD</text>
<path d="M236.9 563.6H254.9" stroke="#111" stroke-width="1.8" fill="none"/>
<path d="M259.3 563.6l-5.6 -2.8v5.6z" fill="#111"/>
<text x="208.5" y="579.8" font-family='"Liberation Serif","Times New Roman",serif' font-size="12.3" fill="#111">Bortezomib 1nM Control</text>
<text x="216.5" y="528.7" font-family='"Liberation Serif","Times New Roman",serif' font-weight="bold" font-size="12.1" fill="#000" stroke="#000" stroke-width=".35">63%</text>
<g transform="translate(388.6,425.1)">
<rect x="0" y="76.1" width="32.7" height="36.5" fill="#b8b8b8"/>
<g transform="translate(0,.5)" fill="none" shape-rendering="crispEdges">
<path stroke="#dcdcdc" d="M3 77h1m1 0h1m2 0h1m10 0h2m1 0h1M3 78h1m1 0h1m2 0h2m2 0h3m2 0h2m3 0h1m1 0h1m2 0h2m1 0h1M3 79h3m1 0h1m1 0h2m1 0h1m2 0h3m1 0h3m2 0h2m2 0h1m1 0h1M2 80h3m1 0h3m2 0h1m1 0h2m4 0h1m1 0h4m3 0h1m1 0h2M7 81h1m1 0h3m1 0h1m1 0h3m6 0h3M3 82h1m1 0h1m1 0h3m1 0h1m1 0h1m2 0h1m4 0h1m4 0h1m1 0h1M3 83h1m1 0h1m3 0h1m2 0h1m2 0h2m1 0h1m4 0h2m4 0h3M1 84h1m2 0h1m6 0h1m9 0h1M4 85h1m2 0h1m12 0h1m2 0h1m1 0h1M9 86h1m11 0h1m4 0h2M28 87h1"/>
<path stroke="#9a9a9a" d="M39 0h1m5 0h1m4 0h1m26 0h1M59 1h1m11 0h1M36 2h1m7 0h1m1 0h1m16 0h1m4 0h1m14 0h1M48 3h1m10 0h1m17 0h1M84 4h1M43 5h1m26 0h1m8 0h1m1 0h1M35 6h1m41 0h1m8 0h1M35 7h1m9 0h1m15 0h1m2 0h1m7 0h1m2 0h1m1 0h1M40 8h1m8 0h1m19 0h1m18 0h1M43 9h1m11 0h1m3 0h1m5 0h1m5 0h1m2 0h2m2 0h1m1 0h1m5 0h1M38 10h1m2 0h1m8 0h1m16 0h1m15 0h1m5 0h1m7 0h1M35 11h1m27 0h2m4 0h1M37 12h1m2 0h1m10 0h1m4 0h1m4 0h1m21 0h1M38 13h1m2 0h1m10 0h1m10 0h1m5 0h1M36 14h1m11 0h1m28 0h1M41 15h1m12 0h2m7 0h1M38 16h1m10 0h1m2 0h1m15 0h1m23 0h1M45 17h1m4 0h1m1 0h1m4 0h1m8 0h1m7 0h1m15 0h1m2 0h1M33 18h2m5 0h1m14 0h1m1 0h1m21 0h1M37 19h1m15 0h1m12 0h1m18 0h1m12 0h1M43 20h2m35 0h1M57 21h1m22 0h1m6 0h1m4 0h1m3 0h1M37 22h1m9 0h1m44 0h1M76 23h1m9 0h1m11 0h1M39 24h1m31 0h1m1 0h1M37 25h1m33 0h1m1 0h1m13 0h1m10 0h1M94 26h1m8 0h1M88 27h2m2 0h1m9 0h1M98 28h1M36 30h1m1 0h1m49 0h1m3 0h1M87 31h1M98 32h1M87 33h1m3 0h1m9 0h1M94 35h1M38 37h1m49 0h1m1 0h1m1 0h1m1 0h1M96 38h1m2 0h1M32 39h1m59 0h1M87 40h1m3 0h1m8 0h1M33 41h1m60 0h2m3 0h1M88 42h1m1 0h1M90 44h2m2 0h1M32 45h1m2 0h1M33 46h1m58 0h1M35 48h1M92 49h1m6 0h1M34 50h1m56 0h1m5 0h1m1 0h1M96 51h1M34 52h1m59 0h1m3 0h1M34 53h1m52 0h1m10 0h1M36 54h1m51 0h1M36 56h1m50 0h1m2 0h1m1 0h1M105 57h1M95 59h1m5 0h1M96 61h1M92 63h1m3 0h1M90 64h1m11 0h1m1 0h1M99 65h1m1 0h1M90 66h1m7 0h1M92 67h1M88 68h1m1 0h1m7 0h1M94 69h1m1 0h1M103 70h1M97 71h2M70 74h1m18 0h1M97 75h1M89 76h1m3 0h1M91 77h1M108 78h1M88 79h1m1 0h1M33 81h1m52 0h1m6 0h1M101 82h1m1 0h1M89 83h1m1 0h1m5 0h1M87 85h1m2 0h1m1 0h1M87 88h1m3 0h1M94 89h1M90 90h1M87 91h1M77 92h1m1 0h1m9 0h1M81 93h1m7 0h1m2 0h1M32 94h1m41 0h1M50 95h1m60 0h1M33 96h1m26 0h1m22 0h1m8 0h1M35 97h1m31 0h1m8 0h1m3 0h1m1 0h1m2 0h1M42 98h2m6 0h1m1 0h1m10 0h1m5 0h1m6 0h1M33 99h1m1 0h1m4 0h1m4 0h1m19 0h1m6 0h2m9 0h1m2 0h1m4 0h1m4 0h1M33 100h1m16 0h1m4 0h1m6 0h1M35 101h1m21 0h1m12 0h1M38 102h1m1 0h1m9 0h1m8 0h1m2 0h1m19 0h1M33 103h1m12 0h1m17 0h1m7 0h1m2 0h1m2 0h1m4 0h1m21 0h1M36 104h1m5 0h1m45 0h1M33 105h1m8 0h1m9 0h1m12 0h1m7 0h1M53 106h1m1 0h1m5 0h1m4 0h1m1 0h1m4 0h1m3 0h1m5 0h1m1 0h1M37 107h1m4 0h1m16 0h1m2 0h1m20 0h1m10 0h1m7 0h1M40 108h1m6 0h1m5 0h1m11 0h1m7 0h1m5 0h1m1 0h1M33 109h1m8 0h1m25 0h2m1 0h1m5 0h1m27 0h1M43 110h1m3 0h1m3 0h1m5 0h1m1 0h1m5 0h1m18 0h1M39 111h1m13 0h1m1 0h1m6 0h1m5 0h1m1 0h1m8 0h1m1 0h1m1 0h1M43 112h2m2 0h1m10 0h1m2 0h1m3 0h1m11 0h1m7 0h1m6 0h1"/>
<path stroke="#6a6a6a" d="M81 6h1M50 7h2M44 8h1m6 0h1m18 0h1m11 0h1M57 11h4M58 12h1m7 0h1m2 0h1m4 0h1M65 13h1m1 0h1m7 0h1m6 0h1M57 14h3m3 0h1m3 0h1m16 0h1M37 15h1m23 0h1m8 0h1m1 0h1m2 0h1m9 0h1M41 16h1m17 0h1m10 0h1m4 0h1M42 17h2m15 0h1m1 0h1m2 0h1m2 0h1m4 0h1m9 0h1m1 0h1M44 18h1m14 0h1m9 0h2m11 0h1M63 19h1m4 0h1m4 0h1m2 0h2M37 20h1m21 0h1m6 0h1m1 0h1m3 0h1m2 0h1m8 0h1M38 21h1m2 0h1m8 0h1m1 0h1m2 0h1m6 0h1m1 0h1m1 0h1m7 0h1m2 0h2m3 0h2m1 0h1M34 22h1m9 0h2m4 0h1m4 0h1m1 0h1m10 0h1m2 0h3m2 0h1m9 0h1M35 23h1m14 0h1m14 0h1m12 0h3M33 24h1m1 0h1m5 0h1m6 0h1m5 0h1m13 0h2M39 25h1m4 0h1m1 0h1m1 0h1m16 0h2m8 0h1m9 0h1M35 26h1m9 0h1m4 0h1m26 0h1M37 27h1m1 0h1m8 0h1m14 0h1m1 0h1m4 0h2m2 0h1M38 28h1m2 0h1m2 0h1m2 0h1m29 0h1m8 0h1M34 29h1m1 0h1m9 0h1m28 0h1m1 0h1m8 0h1M40 30h1m2 0h1m29 0h1M34 31h1m7 0h1m33 0h1m8 0h1M32 32h2m1 0h2m7 0h2m32 0h1m6 0h1M34 33h1m14 0h1M36 34h1m7 0h2m47 0h1M38 35h1m53 0h1M35 36h2m3 0h1m3 0h1m27 0h1m19 0h1M36 37h1M34 38h1m6 0h1M34 39h2m1 0h1m1 0h1M33 40h1m6 0h1M35 41h2M35 42h1m2 0h1m47 0h1M36 43h1m49 0h1m1 0h1M36 44h3M75 45h1m2 0h1m8 0h1m8 0h2M37 46h1m38 0h1m10 0h1m1 0h2m5 0h1M89 47h1M33 48h1m3 0h1m39 0h1m1 0h2M33 49h1M36 50h1m35 0h1m4 0h1m11 0h1M36 51h2m36 0h1m12 0h1m1 0h1M85 52h1M91 53h1M39 54h1m45 0h1m5 0h2m2 0h1M95 55h2M86 56h1m8 0h1M40 57h1m1 0h1M36 58h1m41 0h1m9 0h2M86 59h1m2 0h1m4 0h1M37 60h1m55 0h1M77 61h3m6 0h1m5 0h1M35 62h1m38 0h1m16 0h1m3 0h1M86 63h1M33 64h1m1 0h1m4 0h1m33 0h1m11 0h1M33 65h1m6 0h1m35 0h1M34 66h2m1 0h1m36 0h1M38 67h1m47 0h1M39 68h1m33 0h1m1 0h2m1 0h1m7 0h1m8 0h1M69 70h1m10 0h1m4 0h1M77 71h1m8 0h1m2 0h1M70 72h1m8 0h1m6 0h1m1 0h2M72 73h1m1 0h1m2 0h1m10 0h1M72 74h1m6 0h1M79 75h1M69 76h1m15 0h1M78 77h1m6 0h1m4 0h1m5 0h2M77 78h1m8 0h1m10 0h1M33 79h1m1 0h1m34 0h1m15 0h1M85 80h1m3 0h1M84 82h1m9 0h1M32 83h1m50 0h1m10 0h1M85 84h1m8 0h2M78 85h1m4 0h1m1 0h1m5 0h1M33 86h1m52 0h1M85 87h1M85 88h1M32 89h1m52 0h1M77 90h1M34 91h2m41 0h1m3 0h1M33 92h1m41 0h1m11 0h1M34 93h1m3 0h1m1 0h1m38 0h1m3 0h1m2 0h1M72 94h1m3 0h2m1 0h1m2 0h1m2 0h1M32 95h1m2 0h1m5 0h1m18 0h1m2 0h1m13 0h1m1 0h1M41 96h1m2 0h1m1 0h1m1 0h1m3 0h1m5 0h1m4 0h2m2 0h1m4 0h1M40 97h1m4 0h1m2 0h1m9 0h1m13 0h1M38 98h1m9 0h1m5 0h1m1 0h2m1 0h1m20 0h1M36 99h1m9 0h1m12 0h2m19 0h1m4 0h1M38 100h2m3 0h1m4 0h1m10 0h1m4 0h1m16 0h1m2 0h1M36 101h1m3 0h1m1 0h1m1 0h1m3 0h1m1 0h1m4 0h1m9 0h1m14 0h1M43 102h2m11 0h1m8 0h1m14 0h1M47 103h1m23 0h1m8 0h1M48 104h1m21 0h1m5 0h1m3 0h1M39 105h1m9 0h1m19 0h1m6 0h1m3 0h2M39 106h1m8 0h2M39 107h1M78 108h1M54 111h1M69 112h1"/>
<path stroke="#3e3e3e" d="M81 7h2M81 8h1M66 13h1m7 0h1M73 14h2m6 0h2M58 15h1m1 0h1m13 0h1m6 0h4M61 16h1m9 0h1m10 0h1m1 0h1M62 17h2m19 0h1M60 18h1m2 0h2m6 0h1M60 19h2m8 0h1m1 0h1M60 20h2m9 0h1m5 0h1M53 21h2m5 0h1m4 0h1m2 0h3M41 22h2m6 0h1m2 0h3m4 0h1m2 0h3m4 0h1m13 0h1M33 23h1m7 0h2m1 0h2m2 0h1m3 0h2m3 0h5m1 0h2m17 0h2M34 24h1m9 0h1m2 0h1m3 0h1m5 0h4m1 0h2m15 0h1m1 0h3M41 25h1m3 0h1m5 0h2m1 0h4m2 0h2m2 0h1m3 0h2m6 0h1m3 0h5M38 26h1m1 0h3m8 0h4m1 0h1m1 0h6m1 0h1m1 0h2m6 0h2m3 0h2m1 0h2M34 27h2m6 0h2m7 0h1m2 0h6m2 0h1m3 0h2m11 0h5M33 28h4m6 0h1m5 0h4m2 0h7m3 0h1m1 0h1m3 0h4m3 0h1m1 0h2m1 0h3M41 29h2m5 0h4m1 0h2m1 0h3m1 0h3m1 0h4m1 0h2m1 0h1m1 0h1m4 0h1m1 0h2m1 0h1M41 30h1m4 0h2m1 0h1m1 0h6m2 0h13m4 0h1m2 0h3m1 0h1m1 0h1M38 31h1m1 0h1m5 0h10m1 0h1m1 0h8m3 0h2m2 0h2m3 0h6M37 32h4m2 0h1m2 0h1m1 0h1m3 0h1m2 0h8m1 0h1m1 0h3m1 0h2m1 0h2m1 0h1m3 0h1m1 0h2M38 33h1m1 0h4m3 0h2m2 0h15m1 0h7m2 0h2m1 0h2m2 0h2M37 34h1m1 0h1m1 0h2m3 0h3m2 0h4m1 0h2m2 0h6m1 0h6m1 0h8m1 0h3M36 35h1m3 0h2m1 0h1m2 0h15m2 0h5m1 0h2m3 0h2m1 0h9M41 36h2m3 0h2m1 0h11m1 0h1m2 0h1m1 0h5m2 0h2m1 0h3m1 0h5M42 37h3m1 0h3m1 0h16m1 0h2m1 0h1m1 0h4m1 0h5m1 0h1M42 38h2m1 0h3m1 0h16m1 0h6m1 0h1m1 0h3m1 0h1m1 0h4M42 39h2m1 0h17m2 0h8m2 0h6m2 0h3M37 40h2m3 0h2m1 0h2m1 0h24m1 0h4m1 0h7M38 41h1m1 0h2m1 0h26m1 0h8m1 0h3m1 0h3M39 42h3m1 0h5m1 0h27m1 0h3m1 0h4M40 43h1m3 0h9m1 0h7m1 0h4m1 0h4m1 0h4m1 0h3m1 0h4M40 44h25m1 0h8m2 0h2m1 0h6m2 0h1M39 45h1m1 0h2m1 0h17m1 0h5m1 0h4m1 0h2m2 0h1m2 0h7M38 46h6m1 0h29m6 0h2m1 0h3M38 47h1m1 0h1m1 0h1m1 0h2m1 0h1m1 0h11m1 0h5m1 0h5m1 0h2m1 0h1m3 0h1m1 0h4m2 0h1M40 48h1m1 0h21m2 0h12m5 0h2m1 0h3M38 49h25m1 0h7m3 0h1m1 0h1m3 0h1m1 0h6M37 50h1m1 0h3m1 0h28m2 0h1m5 0h7m1 0h2M40 51h2m2 0h24m1 0h2m1 0h2m2 0h1m2 0h6M41 52h1m1 0h24m1 0h3m1 0h1m2 0h3m2 0h5M41 53h28m1 0h8m2 0h5M40 54h1m1 0h23m1 0h8m1 0h4m1 0h1m1 0h3M39 55h4m1 0h23m1 0h2m1 0h1m1 0h1m2 0h2m1 0h1m1 0h4M33 56h1m5 0h1m3 0h28m1 0h4m1 0h4m1 0h2M33 57h1m4 0h1m4 0h30m1 0h3m2 0h7M34 58h1m2 0h3m1 0h1m2 0h22m2 0h3m2 0h2m1 0h2m2 0h6M33 59h3m2 0h2m1 0h5m1 0h20m1 0h9m3 0h1m1 0h4M34 60h1m3 0h1m1 0h4m1 0h24m2 0h5m4 0h6M33 61h1m5 0h4m1 0h1m1 0h18m2 0h7m2 0h2m4 0h2m1 0h2M33 62h1m2 0h3m1 0h2m1 0h1m1 0h1m1 0h13m1 0h2m1 0h4m1 0h3m1 0h1m3 0h1m2 0h5M32 63h2m1 0h5m2 0h3m1 0h27m1 0h1m2 0h1m2 0h4m1 0h1M37 64h2m4 0h22m2 0h5m1 0h1m1 0h6m1 0h3M39 65h1m2 0h7m1 0h10m1 0h10m1 0h1m5 0h2m1 0h1m1 0h3M40 66h1m1 0h23m1 0h4m1 0h2m5 0h7M34 67h1m1 0h1m3 0h2m2 0h2m1 0h16m3 0h1m1 0h1m1 0h2m1 0h2m4 0h7M33 68h3m1 0h1m3 0h5m1 0h1m1 0h10m1 0h11m9 0h5M33 69h3m1 0h2m2 0h1m1 0h3m1 0h15m2 0h4m1 0h1m2 0h1m2 0h1m1 0h2m1 0h5M33 70h2m1 0h4m1 0h2m1 0h7m2 0h4m1 0h7m1 0h2m3 0h8m2 0h3M32 71h3m1 0h4m1 0h2m1 0h20m3 0h3m1 0h5m6 0h3M33 72h8m1 0h1m2 0h12m1 0h5m4 0h1m1 0h1m2 0h1m2 0h1m4 0h5M32 73h12m1 0h3m1 0h10m1 0h9m6 0h2m3 0h6M33 74h2m1 0h5m1 0h7m1 0h12m1 0h5m5 0h1m2 0h1m1 0h1m2 0h5M33 75h2m2 0h8m1 0h2m1 0h2m1 0h3m1 0h5m1 0h6m3 0h1m2 0h4m3 0h4M35 76h3m1 0h5m1 0h8m1 0h9m2 0h1m1 0h2m2 0h4m1 0h2m2 0h4M34 77h2m1 0h6m1 0h22m2 0h1m1 0h6m4 0h5M33 78h2m2 0h2m1 0h22m1 0h2m1 0h4m2 0h2m1 0h2m3 0h4M34 79h1m2 0h1m2 0h1m1 0h5m1 0h11m1 0h2m1 0h6m3 0h2m1 0h2m2 0h5M35 80h1m1 0h3m1 0h1m1 0h1m1 0h26m1 0h2m1 0h1m2 0h2m1 0h3M34 81h20m1 0h5m1 0h9m1 0h9m1 0h2m1 0h1M35 82h1m1 0h2m1 0h4m1 0h23m1 0h2m1 0h3m1 0h3m1 0h4M33 83h2m1 0h32m1 0h1m1 0h2m2 0h5M33 84h4m1 0h1m1 0h25m1 0h1m1 0h9m3 0h1M34 85h2m1 0h28m1 0h4m1 0h6m2 0h4m1 0h1M34 86h1m1 0h2m1 0h22m1 0h5m1 0h4m1 0h4m2 0h3m1 0h1M34 87h31m1 0h2m1 0h2m1 0h4m2 0h2m1 0h2m1 0h1M33 88h16m1 0h20m1 0h2m1 0h5m1 0h2m1 0h1M33 89h8m2 0h1m1 0h25m1 0h2m1 0h3m1 0h3m1 0h2M33 90h1m5 0h5m1 0h24m1 0h4m1 0h1m5 0h4M36 91h19m1 0h7m1 0h2m1 0h3m1 0h2m1 0h1m7 0h3M36 92h2m2 0h2m2 0h6m1 0h3m1 0h3m1 0h7m1 0h3m1 0h4m9 0h1M36 93h2m3 0h1m1 0h7m1 0h4m1 0h3m1 0h1m1 0h8m1 0h1m3 0h1m8 0h2M35 94h3m4 0h7m2 0h2m1 0h6m1 0h2m2 0h6m7 0h1M38 95h1m3 0h2m3 0h2m3 0h1m1 0h4m10 0h4M37 96h3m13 0h1m2 0h1m14 0h1M36 97h3m14 0h1m1 0h2M37 98h1M47 99h1M37 100h1m9 0h1M37 101h1M38 106h1"/>
<path stroke="#808080" d="M3 5h1m9 0h1M13 6h1M10 7h1m7 0h1m13 0h1M8 8h1m14 0h1M14 9h2m1 0h1m10 0h1M9 10h1M5 11h1m16 0h1m5 0h1m1 0h1M9 12h1m2 0h1m6 0h1M20 13h1m3 0h1M15 14h1m2 0h1M3 15h1m13 0h1m5 0h1m1 0h1M1 17h1m14 0h1m1 0h1m3 0h1M4 18h1m1 0h1m17 0h1m4 0h1M1 19h1m11 0h1m9 0h1M5 20h1m24 0h1M1 21h2m3 0h1M9 22h2m13 0h1M12 23h1M8 24h1M1 25h1m29 0h1M8 26h1M1 27h1m1 0h1M7 28h1M18 32h1M1 33h1M24 35h1M1 36h1M7 37h1m10 0h1M1 38h1m1 0h1M1 40h1m7 0h1m11 0h1m5 0h1m1 0h1M31 41h1M11 42h1m15 0h1M24 43h1m7 0h1M3 44h1m5 0h1m16 0h1M24 45h1M2 46h1m4 0h1m6 0h1m13 0h1M17 48h1m10 0h1M2 49h1m3 0h1m3 0h1m3 0h1m4 0h1m2 0h1M28 50h1M9 51h1m4 0h1M32 52h1M5 53h1m4 0h1m1 0h2m2 0h1m4 0h2M7 54h1M15 55h1M1 56h1m7 0h1m2 0h1m5 0h1M4 57h1m15 0h1m1 0h1M1 58h1m9 0h1M3 59h1m4 0h1m9 0h1M7 61h1m1 0h1m1 0h1m11 0h1m2 0h1M14 62h1M5 63h2m4 0h1M9 64h1m4 0h1M5 65h1m1 0h1m4 0h1m9 0h1M17 66h1m6 0h1M1 67h1m24 0h1M2 70h1M1 72h1"/>
<path stroke="#4a4a4a" d="M18 8h1M27 12h1M27 13h1M26 14h1M13 16h2m7 0h1M14 17h1m12 0h1M12 18h1m2 0h1m10 0h2M10 19h2m3 0h1M9 20h2m4 0h1m4 0h1m4 0h1m2 0h1M16 21h2m1 0h1m1 0h2M18 22h1M7 23h1m8 0h1m2 0h2m1 0h1m6 0h1m1 0h1M3 24h1m1 0h2m15 0h1m2 0h1M2 25h1m8 0h2m4 0h1m1 0h1m2 0h1m1 0h1M4 26h1m4 0h2m15 0h1m2 0h1M13 27h1m6 0h1m7 0h1m2 0h1M1 28h1m3 0h1m4 0h1m7 0h1m7 0h1m1 0h1M1 29h1m2 0h1m1 0h1m8 0h1m4 0h1m1 0h1M1 30h1m2 0h1m3 0h1m1 0h1m6 0h1m1 0h1m8 0h1m3 0h1M1 31h1m2 0h1m2 0h1m19 0h1M3 32h1m7 0h1m4 0h1m2 0h1M3 33h1m3 0h1m19 0h1M4 34h1m1 0h2m3 0h1m2 0h1m5 0h2m2 0h1M3 35h1m5 0h1m4 0h1m3 0h1m2 0h1M2 36h1m8 0h1m3 0h1m15 0h1M8 37h3m1 0h2m5 0h5m1 0h1m5 0h1M10 38h1m4 0h1m9 0h1M1 39h1m2 0h1m6 0h1m3 0h1m1 0h1m1 0h1m3 0h1m3 0h1m1 0h1M4 40h2m6 0h2m1 0h1m1 0h2m1 0h1m4 0h1M6 41h1m16 0h1M6 42h2m10 0h2m1 0h1M11 43h1m1 0h2m4 0h1m7 0h1M6 44h2m2 0h1m6 0h1M5 45h1m9 0h1M5 46h1m14 0h1m1 0h2m5 0h2M2 47h1m1 0h1m3 0h1m10 0h2m4 0h1m4 0h1M3 48h1m4 0h2m5 0h2m8 0h2m3 0h1m1 0h1M5 49h1m25 0h1M4 50h1m11 0h1m2 0h1m4 0h1M4 51h2m16 0h2m2 0h1m3 0h2M5 52h1m3 0h1m16 0h1m3 0h1M8 53h1m9 0h1m5 0h1M1 54h1m22 0h1m4 0h3M4 55h1m5 0h1m13 0h1m2 0h1m4 0h1M6 56h1m4 0h1m7 0h1m10 0h1M6 57h2m6 0h3m11 0h1m3 0h1M22 58h1m2 0h2M14 59h1m5 0h1m5 0h1m1 0h1M3 60h1m4 0h1m5 0h1m6 0h2m4 0h1M4 61h1m9 0h1m2 0h1m1 0h1M2 62h1m13 0h2m1 0h2m7 0h1M2 63h1m7 0h1m9 0h1m3 0h1m1 0h1M2 64h1m10 0h1m2 0h4m3 0h2m1 0h1m2 0h1M2 65h1m3 0h1m20 0h1m1 0h1M1 66h1m18 0h1M5 67h1m3 0h1m6 0h1m3 0h1m1 0h1M8 68h1m1 0h2m1 0h1m4 0h1m7 0h1m2 0h1m1 0h1M4 69h1m10 0h2m10 0h1M4 70h1m4 0h1m1 0h1m14 0h1M2 72h2M1 74h1m6 0h1M1 75h1m6 0h1M2 76h1m1 0h1m4 0h1m1 0h1m1 0h1m3 0h1m1 0h1m5 0h1m1 0h1m2 0h1m1 0h1"/>
<path stroke="#1a1a1a" d="M27 19h1M26 20h2M25 21h3m3 0h1M15 22h1m6 0h1m3 0h2m2 0h3M14 23h2m5 0h1m6 0h1M13 24h2m4 0h1m6 0h3M3 25h2m8 0h2m1 0h1m3 0h1m5 0h3M14 26h4m2 0h2m1 0h2M10 27h1m5 0h1m4 0h3m1 0h1m3 0h1M11 28h1m2 0h4m4 0h3m5 0h2M11 29h3m3 0h1m1 0h1m4 0h2m3 0h1m1 0h2M2 30h2m3 0h1m3 0h3m4 0h1m2 0h1m2 0h1m5 0h2M8 31h1m1 0h1m2 0h2m6 0h5m3 0h2M9 32h1m2 0h2m1 0h1m4 0h3m1 0h3m3 0h2M9 33h2m2 0h2m1 0h1m3 0h1m3 0h3m4 0h1M8 34h1m1 0h1m5 0h2m10 0h3M16 35h2m9 0h1m1 0h2M13 36h1m12 0h4M14 37h1m12 0h4M23 38h1m2 0h1m3 0h1M14 39h1m9 0h1M24 40h1M14 41h1m9 0h1M14 42h2m4 0h1m2 0h1M6 43h1m9 0h2m3 0h2M16 44h1m4 0h1M21 45h2M17 50h1m5 0h1M16 51h3m6 0h1M17 52h2m6 0h1M30 53h1M2 54h2m21 0h1M2 55h2m22 0h1M26 56h2m4 0h1M26 57h1m2 0h2M15 58h1m13 0h2M21 59h1m8 0h3M31 60h2M3 61h1m26 0h1M3 62h1m25 0h4M17 63h1m11 0h1M25 64h1m2 0h1M6 67h1m14 0h1M5 68h3m4 0h1m4 0h1m2 0h1m2 0h1m8 0h1M7 69h1m3 0h1m1 0h2m3 0h7m3 0h2m2 0h1M5 70h2m1 0h1m4 0h1m3 0h1m1 0h3m1 0h2m4 0h4M6 71h4m1 0h2m1 0h4m2 0h5m1 0h6M4 72h2m2 0h2m1 0h7m2 0h12M3 73h1m1 0h2m2 0h10m2 0h4m1 0h4m1 0h1M2 74h6m2 0h13m1 0h4m1 0h1m1 0h2M3 75h1m1 0h1m4 0h2m1 0h7m1 0h5m1 0h6M12 76h1"/>
</g>
</g>
<path d="M422.6 501.2H388.6" stroke="#0c0c0c" stroke-width="2.7" stroke-dasharray="2.7 2.6" fill="none"/>
<path d="M421.3 537.2V501.2" stroke="#0c0c0c" stroke-width="2.7" stroke-dasharray="2.7 2.6" fill="none"/>
<path d="M383.6 425.1H502.1V537.7" stroke="#222" stroke-width="1" fill="none"/>
<path d="M388.6 425.1V537.7H502.1M388.6 537.7h-5M388.6 537.7v4M388.6 509.55h-5M416.98 537.7v4M388.6 481.4h-5M445.35 537.7v4M388.6 453.25h-5M473.73 537.7v4M388.6 425.1h-5M502.1 537.7v4" stroke="#111" stroke-width="1.3" fill="none"/>
<path d="M388.6 529.23h-2M397.14 537.7v2M388.6 524.27h-2M402.14 537.7v2M388.6 520.75h-2M405.68 537.7v2M388.6 518.02h-2M408.43 537.7v2M388.6 515.8h-2M410.68 537.7v2M388.6 513.91h-2M412.58 537.7v2M388.6 512.28h-2M414.23 537.7v2M388.6 510.84h-2M415.68 537.7v2M388.6 501.08h-2M425.52 537.7v2M388.6 496.12h-2M430.51 537.7v2M388.6 492.6h-2M434.06 537.7v2M388.6 489.87h-2M436.81 537.7v2M388.6 487.65h-2M439.06 537.7v2M388.6 485.76h-2M440.95 537.7v2M388.6 484.13h-2M442.6 537.7v2M388.6 482.69h-2M444.05 537.7v2M388.6 472.93h-2M453.89 537.7v2M388.6 467.97h-2M458.89 537.7v2M388.6 464.45h-2M462.43 537.7v2M388.6 461.72h-2M465.18 537.7v2M388.6 459.5h-2M467.43 537.7v2M388.6 457.61h-2M469.33 537.7v2M388.6 455.98h-2M470.98 537.7v2M388.6 454.54h-2M472.43 537.7v2M388.6 444.78h-2M482.27 537.7v2M388.6 439.82h-2M487.26 537.7v2M388.6 436.3h-2M490.81 537.7v2M388.6 433.57h-2M493.56 537.7v2M388.6 431.35h-2M495.81 537.7v2M388.6 429.46h-2M497.7 537.7v2M388.6 427.83h-2M499.35 537.7v2M388.6 426.39h-2M500.8 537.7v2" stroke="#222" stroke-width="0.6" fill="none"/>
<text transform="translate(381.4,538.3) rotate(-90)" font-family='"Liberation Sans",Arial,sans-serif' font-weight="bold" font-size="8.1" text-anchor="middle" fill="#111">10<tspan dy="-2.4" font-size="6">0</tspan></text>
<text transform="translate(381.4,510.15) rotate(-90)" font-family='"Liberation Sans",Arial,sans-serif' font-weight="bold" font-size="8.1" text-anchor="middle" fill="#111">10<tspan dy="-2.4" font-size="6">1</tspan></text>
<text transform="translate(381.4,482) rotate(-90)" font-family='"Liberation Sans",Arial,sans-serif' font-weight="bold" font-size="8.1" text-anchor="middle" fill="#111">10<tspan dy="-2.4" font-size="6">2</tspan></text>
<text transform="translate(381.4,453.85) rotate(-90)" font-family='"Liberation Sans",Arial,sans-serif' font-weight="bold" font-size="8.1" text-anchor="middle" fill="#111">10<tspan dy="-2.4" font-size="6">3</tspan></text>
<text transform="translate(381.4,425.7) rotate(-90)" font-family='"Liberation Sans",Arial,sans-serif' font-weight="bold" font-size="8.1" text-anchor="middle" fill="#111">10<tspan dy="-2.4" font-size="6">4</tspan></text>
<text x="384.8" y="552.5" font-family='"Liberation Serif","Times New Roman",serif' font-size="7.6" fill="#333" letter-spacing=".1">10<tspan dx="1.2" dy="-2.1" font-size="6">0</tspan></text>
<text x="413.18" y="552.5" font-family='"Liberation Serif","Times New Roman",serif' font-size="7.6" fill="#333" letter-spacing=".1">10<tspan dx="1.2" dy="-2.1" font-size="6">1</tspan></text>
<text x="441.55" y="552.5" font-family='"Liberation Serif","Times New Roman",serif' font-size="7.6" fill="#333" letter-spacing=".1">10<tspan dx="1.2" dy="-2.1" font-size="6">2</tspan></text>
<text x="469.93" y="552.5" font-family='"Liberation Serif","Times New Roman",serif' font-size="7.6" fill="#333" letter-spacing=".1">10<tspan dx="1.2" dy="-2.1" font-size="6">3</tspan></text>
<text x="498.3" y="552.5" font-family='"Liberation Serif","Times New Roman",serif' font-size="7.6" fill="#333" letter-spacing=".1">10<tspan dx="1.2" dy="-2.1" font-size="6">4</tspan></text>
<text transform="translate(369.8,529.7) rotate(-90)" font-family='"Liberation Serif","Times New Roman",serif' font-weight="bold" font-size="11" fill="#111" stroke="#111" stroke-width=".25">Annexin V PE</text>
<path d="M365.3 459.1V442.1" stroke="#111" stroke-width="1.8" fill="none"/>
<path d="M365.3 437.7l-2.6 5.4h5.2z" fill="#111"/>
<text x="389.2" y="565.3" font-family='"Liberation Serif","Times New Roman",serif' font-size="8.8" fill="#111">7 AAD</text>
<path d="M417.6 563.5H435.6" stroke="#111" stroke-width="1.8" fill="none"/>
<path d="M440 563.5l-5.6 -2.8v5.6z" fill="#111"/>
<text x="389.2" y="579.7" font-family='"Liberation Serif","Times New Roman",serif' font-size="12.3" fill="#111">Bortezomib 10nM Control</text>
<text x="396.5" y="528.3" font-family='"Liberation Serif","Times New Roman",serif' font-weight="bold" font-size="12.2" fill="#000" stroke="#000" stroke-width=".35">61%</text>
<g transform="translate(112.6,604.2)">
<rect x="0" y="78.4" width="32.9" height="34.7" fill="#b8b8b8"/>
<g transform="translate(0,.5)" fill="none" shape-rendering="crispEdges">
<path stroke="#dcdcdc" d="M8 79h1m8 0h1m3 0h1m2 0h2m2 0h1m1 0h1M1 80h1m5 0h2m1 0h3m1 0h2m1 0h4M4 81h1m4 0h5m3 0h1m1 0h3m1 0h3m2 0h2M1 82h5m6 0h3m1 0h2m1 0h3m1 0h1m2 0h1m4 0h1M2 83h1m1 0h2m1 0h5m1 0h4m1 0h1m1 0h1m1 0h6m2 0h1M1 84h1m4 0h4m1 0h1m1 0h2m2 0h1m1 0h1m1 0h4m3 0h1m1 0h1M3 85h1m4 0h1m1 0h2m1 0h1m2 0h1m1 0h1m1 0h2m2 0h2m2 0h1m2 0h1M3 86h2m3 0h1m3 0h1m3 0h1m1 0h1m1 0h3m2 0h1m3 0h2M1 87h1m13 0h1m10 0h1m2 0h3M7 88h1m1 0h1m5 0h2m5 0h1m1 0h1M26 89h1M12 90h1m2 0h1M20 91h1"/>
<path stroke="#9a9a9a" d="M71 0h1M55 2h1m8 0h1m18 0h1M85 3h1M40 4h1m24 0h1m7 0h1M59 5h1M57 6h1M37 7h1m1 0h1m20 0h1m10 0h1M36 8h1m4 0h1M42 9h1m13 0h1M37 10h1M62 11h1m7 0h1m13 0h1m9 0h1M49 12h1m16 0h2m11 0h1M34 13h1m13 0h1m7 0h1m19 0h1m3 0h1m1 0h1M37 14h2m23 0h1m11 0h1m15 0h1M48 15h1m1 0h1m8 0h1m7 0h1m23 0h1M39 16h1m13 0h1m25 0h2M60 17h1m6 0h1m26 0h1m13 0h1M69 18h1m1 0h1m1 0h1m34 0h1M34 19h2m19 0h1m4 0h1m14 0h1m7 0h1m15 0h1M38 20h1m11 0h1m1 0h1m17 0h1m1 0h1m6 0h1M36 21h1m9 0h2m4 0h1m4 0h1m3 0h1M42 22h1m19 0h1m1 0h1m10 0h1M48 23h1m5 0h1m17 0h1m6 0h1M68 24h1m1 0h1m13 0h1m6 0h1M37 25h1m13 0h1m1 0h1m4 0h2m3 0h1M36 26h1m3 0h1m39 0h1M38 27h1m7 0h1m37 0h1m5 0h1M37 28h1m2 0h1m15 0h1m27 0h1m11 0h1M39 29h1m42 0h1m12 0h1M84 30h1m3 0h1M51 31h1m42 0h2M91 32h1M34 33h1m51 0h1M99 34h1M83 35h1M90 36h1M37 38h1m45 0h1m1 0h1m10 0h1M35 40h1m47 0h1m6 0h1M85 41h1M87 42h1m3 0h1M86 43h1m6 0h1M89 46h1M88 47h1m13 0h1M84 49h1m3 0h1M82 50h1m3 0h1M90 51h1m3 0h1M93 52h1M88 54h1m6 0h1M100 57h1M91 58h1m1 0h1M86 61h1m2 0h1m8 0h1M92 62h2m2 0h1M84 64h1m2 0h1m2 0h1M93 65h1m1 0h1M93 66h1m4 0h1M98 67h1M92 68h1m3 0h1M85 69h1M81 70h1M84 71h2M82 72h1m5 0h1M80 73h1m3 0h2M91 74h1M89 75h1m9 0h1M72 76h1M79 77h1m9 0h1M86 79h1m16 0h1M80 80h1m2 0h1m14 0h1M32 81h1M74 82h1m5 0h1m1 0h1m10 0h1M86 83h2M95 84h1M32 85h1M84 86h1m4 0h1M87 87h1m8 0h1M89 88h1m6 0h1m1 0h1M81 89h1m1 0h1m1 0h1m12 0h1M79 90h1M77 91h1M73 93h1m3 0h1m2 0h1m7 0h1M73 94h1m17 0h1M33 95h1m10 0h1m32 0h1m8 0h1M71 96h1m1 0h1M74 97h1m9 0h1M36 98h1m29 0h1M49 99h1m16 0h1m13 0h1m3 0h1M36 100h1m25 0h1m13 0h1M47 101h1m1 0h1m2 0h1m5 0h1m12 0h1m15 0h1m7 0h1M53 102h1m9 0h1m12 0h1m4 0h1M38 103h1m12 0h1m13 0h1m4 0h1m12 0h1M35 104h1m6 0h1m3 0h1m1 0h1m27 0h1M36 105h1m1 0h1m13 0h1m12 0h1m1 0h1m6 0h1m5 0h1M46 106h1m7 0h1m15 0h1m7 0h1M33 107h1m15 0h1m14 0h1m15 0h1M42 108h1m11 0h1m19 0h1m1 0h1m18 0h1M34 109h1m15 0h1m7 0h1m7 0h1M38 110h1m7 0h1m51 0h1M45 111h1m2 0h1m1 0h1m22 0h1m4 0h1M36 112h1m37 0h1m2 0h1m15 0h1"/>
<path stroke="#6a6a6a" d="M54 11h1m4 0h1M53 12h2m4 0h3M43 16h1M43 17h2m4 0h1m13 0h1m1 0h1m4 0h1M39 18h2m1 0h1m6 0h2m11 0h2m1 0h1M39 19h1m1 0h1m1 0h1m17 0h1M42 20h1m23 0h2m10 0h1M68 21h1m1 0h1m6 0h1M44 22h1m12 0h1m11 0h1m7 0h1M41 23h1m2 0h1m2 0h1m9 0h2m10 0h1m7 0h1M34 24h1m5 0h1m1 0h1m1 0h1m1 0h1m28 0h1m4 0h1M44 25h1m4 0h1m5 0h1m8 0h3m11 0h1m1 0h1M42 26h1m1 0h1m2 0h1m1 0h1m1 0h1m4 0h1m10 0h1m10 0h1M43 27h1m7 0h2m1 0h1m3 0h1m2 0h1m2 0h1M48 28h2m17 0h1m10 0h1M34 29h1m8 0h1m8 0h2m12 0h1m13 0h1M34 30h2m9 0h1m1 0h2m4 0h4m11 0h1M40 31h1m8 0h2m7 0h1m5 0h1m3 0h1m1 0h1m10 0h2M47 32h1m5 0h2m7 0h1m25 0h1M36 33h1m1 0h1m10 0h3m30 0h1m4 0h2M36 34h1m11 0h2m32 0h1M34 35h1m3 0h1m12 0h1m29 0h1m5 0h1M43 36h2m35 0h1m6 0h2M39 37h1m27 0h1m12 0h1m3 0h1M34 38h2m6 0h3M38 39h2m53 0h1M33 40h1m7 0h1m1 0h1m48 0h2M37 41h1m1 0h1m42 0h1m9 0h1M41 42h1M39 43h1m42 0h2M84 44h1M84 45h2M38 46h1m43 0h1M84 47h2M36 48h1m1 0h1m43 0h1M34 49h1M34 50h1m46 0h1m7 0h1M84 51h2M34 52h2m47 0h1M34 53h1m2 0h1m44 0h2M34 54h1m1 0h1m47 0h1M34 55h1m4 0h1m45 0h1M84 56h2M39 57h1m43 0h1M86 58h1M70 59h1m15 0h5M36 60h1m35 0h1m10 0h2M34 61h1m45 0h1m4 0h1M35 62h1m45 0h4M43 63h1m41 0h1M81 64h1M37 65h1m1 0h1M33 66h1m34 0h1m2 0h1m8 0h1m1 0h2m1 0h1M38 67h1m30 0h1m3 0h2m3 0h1m6 0h1M39 68h1m1 0h1m26 0h1m2 0h1m11 0h1M38 69h1m30 0h1m4 0h1m3 0h1m3 0h1M41 70h1m26 0h1m6 0h1m3 0h1M64 71h1m3 0h1m10 0h1M40 72h1m25 0h2m2 0h1m5 0h1M62 73h1m1 0h1m8 0h2m7 0h1M64 74h2m2 0h1m1 0h1m4 0h2m5 0h1M63 75h1m4 0h1m5 0h1m3 0h1m1 0h1m1 0h5M48 76h1m21 0h1m2 0h1m3 0h1m8 0h1M50 77h1m17 0h1m8 0h1m5 0h1M49 78h1m3 0h1m12 0h1m3 0h1m3 0h1M33 79h1m34 0h2m1 0h1m2 0h2m6 0h1M34 80h1m31 0h1m5 0h1m3 0h2M78 81h1M34 82h1M72 83h1m1 0h1m6 0h1M74 84h1m4 0h1m2 0h1M81 85h1M33 87h1m44 0h1m1 0h1m1 0h1M72 88h1M76 89h1m5 0h1M32 90h1M67 91h1m14 0h2M76 92h1m7 0h1M34 93h2m1 0h1m9 0h1m14 0h1m3 0h1m1 0h1m6 0h1m5 0h1m1 0h1M49 94h1m5 0h1m1 0h1m2 0h1m3 0h1m5 0h1m4 0h1M35 95h2m18 0h1m4 0h1m5 0h1m9 0h1M33 96h1m14 0h1m6 0h1m1 0h2m2 0h1m1 0h1M34 97h1m1 0h1m8 0h1m5 0h1m3 0h1m3 0h1m1 0h1m1 0h2m3 0h1M32 98h1m6 0h1m3 0h1m7 0h2m1 0h1m2 0h1m1 0h1m1 0h1m8 0h2M34 99h1m6 0h1m3 0h1m9 0h1m2 0h1m13 0h1M33 100h1m21 0h1m2 0h1m13 0h1M37 101h1m6 0h1m1 0h1m8 0h1m9 0h2M40 102h1m1 0h1m13 0h1m8 0h1M82 103h1M50 104h1m5 0h3M47 105h1m3 0h1m23 0h1M50 106h1m25 0h2M38 107h2M33 108h1m5 0h2M38 111h1M37 112h1"/>
<path stroke="#3e3e3e" d="M66 18h1M66 19h1M33 23h1m11 0h1M33 24h1m42 0h2M41 25h1m31 0h3m1 0h1M43 26h1m4 0h1m5 0h2m15 0h4m1 0h1M49 27h1m12 0h2m4 0h6m1 0h3M58 28h2m1 0h4m4 0h2m5 0h2M42 29h1m14 0h4m1 0h2m3 0h1m6 0h4M41 30h3m15 0h1m2 0h2m2 0h1m4 0h6m1 0h3M41 31h1m1 0h3m1 0h1m12 0h2m3 0h2m4 0h9M41 32h1m1 0h1m1 0h2m11 0h1m1 0h2m2 0h1m1 0h3m2 0h1m1 0h7m1 0h1M39 33h2m1 0h3m1 0h1m5 0h2m1 0h6m2 0h3m1 0h4m1 0h1m1 0h7M37 34h1m1 0h5m1 0h2m6 0h1m1 0h5m1 0h2m1 0h1m1 0h1m2 0h1m1 0h7m1 0h2M35 35h1m4 0h1m1 0h1m3 0h2m4 0h3m1 0h2m1 0h2m1 0h2m1 0h8m2 0h1m1 0h2M34 36h2m3 0h1m1 0h1m3 0h2m1 0h4m2 0h10m1 0h2m2 0h5m1 0h1m1 0h3M35 37h1m4 0h1m1 0h1m2 0h4m1 0h11m1 0h1m3 0h1m2 0h1m2 0h1m1 0h5M40 38h1m8 0h2m1 0h12m1 0h1m2 0h11m1 0h1M34 39h1m6 0h1m3 0h1m1 0h3m1 0h5m1 0h4m1 0h8m1 0h11M42 40h1m1 0h8m1 0h7m1 0h7m1 0h13M41 41h1m2 0h1m1 0h13m1 0h1m1 0h19M35 42h6m2 0h5m1 0h29m1 0h2M33 43h5m4 0h19m1 0h2m1 0h17M33 44h4m4 0h8m1 0h31M33 45h1m1 0h3m3 0h4m1 0h23m1 0h2m1 0h7m1 0h1M32 46h1m2 0h2m2 0h2m1 0h23m2 0h12m1 0h2m2 0h1M33 47h3m3 0h6m1 0h16m1 0h9m1 0h9M33 48h1m1 0h1m4 0h21m1 0h17m2 0h1M37 49h2m1 0h1m1 0h3m1 0h31m1 0h3M36 50h32m2 0h10M33 51h1m2 0h4m1 0h25m1 0h14M39 52h5m1 0h22m1 0h10m1 0h1M38 53h4m1 0h38M37 54h1m1 0h30m1 0h12M37 55h2m2 0h26m1 0h11m1 0h2M34 56h4m3 0h25m1 0h10m1 0h4M33 57h2m2 0h2m1 0h1m1 0h30m1 0h10M34 58h3m2 0h1m1 0h23m1 0h2m1 0h2m2 0h8m1 0h2M32 59h2m1 0h2m1 0h3m1 0h1m1 0h25m3 0h11M33 60h1m3 0h1m1 0h25m1 0h2m2 0h2m3 0h4m2 0h2M33 61h1m4 0h3m2 0h28m1 0h1m1 0h5M38 62h3m2 0h1m1 0h34M35 63h7m2 0h15m1 0h5m1 0h2m1 0h1m1 0h10M33 64h3m2 0h1m1 0h1m1 0h1m2 0h16m1 0h4m1 0h6m1 0h6M34 65h1m1 0h1m3 0h2m1 0h24m2 0h9m1 0h3M34 66h3m4 0h2m1 0h17m1 0h6m7 0h4M35 67h3m4 0h1m3 0h19m1 0h1m8 0h3m6 0h1M34 68h3m1 0h1m3 0h21m1 0h4m4 0h1m3 0h1M34 69h3m4 0h1m1 0h1m1 0h2m1 0h11m1 0h7m4 0h3m2 0h2M35 70h3m4 0h19m2 0h1m1 0h3m2 0h4m3 0h1M33 71h3m1 0h1m4 0h4m1 0h11m1 0h4m2 0h2m3 0h1m2 0h2m2 0h1M33 72h2m1 0h1m1 0h1m4 0h20m8 0h1m1 0h1m3 0h2M34 73h2m1 0h6m1 0h1m1 0h3m1 0h1m1 0h5m1 0h1m1 0h2m9 0h2m4 0h2M33 74h5m2 0h2m1 0h6m1 0h6m1 0h2m1 0h1m8 0h1m9 0h1M35 75h11m1 0h10m1 0h4m8 0h1M33 76h3m2 0h2m2 0h5m4 0h4m1 0h6m2 0h3m2 0h1m8 0h1m2 0h1M33 77h1m1 0h1m2 0h3m1 0h2m2 0h1m4 0h2m2 0h3m1 0h3m2 0h4m1 0h1m11 0h2M33 78h1m1 0h8m1 0h1m1 0h2m4 0h1m2 0h7m1 0h1m17 0h2M35 79h12m1 0h1m1 0h3m2 0h2m1 0h1m1 0h1m1 0h3M35 80h4m1 0h6m1 0h4m1 0h6m3 0h4m2 0h1m1 0h1m1 0h1M36 81h23m1 0h5m1 0h6m4 0h1M35 82h9m1 0h10m1 0h4m1 0h8m2 0h1m4 0h2M34 83h2m1 0h6m1 0h4m1 0h22m5 0h2M34 84h27m1 0h6m1 0h4m2 0h1m2 0h1M34 85h12m1 0h26m1 0h1m1 0h1m1 0h2M33 86h2m1 0h13m1 0h9m1 0h14m1 0h4m2 0h2M34 87h1m1 0h4m1 0h19m1 0h2m1 0h3m1 0h1m1 0h2m2 0h1m2 0h1m3 0h1M35 88h11m1 0h24m2 0h3M35 89h1m1 0h3m1 0h1m1 0h3m1 0h6m1 0h3m1 0h3m1 0h6m1 0h3m2 0h2M33 90h4m2 0h15m1 0h5m1 0h1m1 0h1m1 0h3m1 0h3M33 91h6m1 0h1m1 0h3m1 0h1m1 0h4m1 0h11m1 0h2m2 0h2M34 92h2m2 0h3m1 0h5m2 0h2m1 0h4m1 0h2m1 0h3m1 0h1m4 0h2m11 0h1M38 93h9m2 0h1m1 0h2m1 0h1m3 0h2m4 0h2m3 0h2M38 94h5m3 0h1m3 0h5m3 0h1m6 0h1m2 0h1M38 95h3m1 0h1m2 0h3m9 0h1m9 0h2M35 96h1m2 0h5m3 0h2m20 0h2M38 97h2m2 0h2m2 0h2m8 0h1m13 0h1M33 98h1m8 0h1m3 0h3m11 0h1M33 99h1m5 0h1m6 0h2M38 100h3m1 0h1m2 0h1M38 101h2m1 0h3M57 103h1"/>
<path stroke="#808080" d="M24 1h1M25 2h1M6 3h2m20 0h1M15 6h1m12 0h1M3 10h1m17 0h1m4 0h1M5 11h1m26 0h1M14 12h1m10 0h1m3 0h1M16 13h1m1 0h1M22 14h1M29 15h1M12 16h1M5 17h1M1 18h1m1 0h1m3 0h1m5 0h1m1 0h1m2 0h1m6 0h1M1 19h1m5 0h1M19 20h1m3 0h1m2 0h1m3 0h1M1 21h1m11 0h1m1 0h1m7 0h1m3 0h1M6 22h1m1 0h2M2 23h1m10 0h1M3 24h1m16 0h1m3 0h1m5 0h1M22 25h1M16 26h1m8 0h1M3 27h1m4 0h1m23 0h1M10 28h1m9 0h1m1 0h2m4 0h1M3 29h1m4 0h1m6 0h1M21 30h1m10 0h1M7 31h1M5 32h1m15 0h1M2 33h1m11 0h1M17 34h1m14 0h1M1 35h1M17 36h1M11 37h2m6 0h1m6 0h1M17 38h1m6 0h1M1 39h1m3 0h1m3 0h1m1 0h1m3 0h1M6 40h1m2 0h1m3 0h1M21 41h1M6 42h1m7 0h1M6 43h1M2 45h1m19 0h1M5 48h1m3 0h1M11 50h1m11 0h1M1 51h1M1 53h1m2 0h1m5 0h1M8 54h1M2 56h1m1 0h1M5 57h1m1 0h1m1 0h1m2 0h1m8 0h1M1 58h1m1 0h1M1 59h1m4 0h1m2 0h1m12 0h1M6 61h2m3 0h1m2 0h1M24 62h1M11 63h1m2 0h1m2 0h1M1 64h1m5 0h1m5 0h1M3 65h1m6 0h1M3 66h1m3 0h1M10 67h1m7 0h1m9 0h1M1 68h1m1 0h1m2 0h1M19 69h1m1 0h1m7 0h1M4 71h1m1 0h1M1 72h1m15 0h1m2 0h1M2 73h1m2 0h1M12 74h1m1 0h1m1 0h1M5 76h1m7 0h1m2 0h1m6 0h1M7 77h1m3 0h1m2 0h1m10 0h1M28 78h1"/>
<path stroke="#4a4a4a" d="M4 11h1m20 0h1M17 13h1M15 16h2m10 0h1M12 17h1m2 0h1m10 0h2M19 19h1M17 23h1m14 0h1M6 24h1m9 0h2m3 0h1m6 0h2M7 25h1m10 0h1m9 0h1m3 0h1M4 26h2m1 0h1m11 0h1m10 0h1M17 27h2m6 0h1m4 0h2M26 28h1M4 29h1m5 0h1m7 0h1m7 0h1m3 0h1M5 30h1m3 0h1m1 0h2m5 0h2m4 0h2m2 0h1M4 31h1m6 0h1m7 0h1m7 0h1m2 0h1M22 32h1m1 0h1m1 0h1M7 33h1m11 0h1m9 0h1M1 34h1m2 0h2m1 0h5m7 0h2m2 0h1m1 0h1M4 35h1m1 0h1m7 0h2m6 0h1M9 36h1m11 0h1M7 37h1m6 0h1m6 0h2m4 0h1m4 0h1M19 38h1m2 0h1m6 0h1M3 39h1m15 0h1m3 0h1m2 0h1m1 0h1m2 0h2M2 40h2m7 0h1m4 0h3m9 0h1m1 0h1M23 41h1m6 0h2M9 42h1m3 0h1m2 0h1m1 0h1m1 0h1m2 0h1m4 0h1m1 0h1M9 43h1m6 0h1M11 44h1m1 0h1m3 0h1m1 0h2m4 0h1m2 0h2m1 0h1M6 45h1m1 0h2m2 0h3m1 0h2m3 0h1m2 0h2M2 46h1m2 0h3m1 0h1m14 0h1M3 47h1m6 0h1m3 0h2m3 0h1m2 0h1m1 0h1M13 48h1m2 0h1m1 0h2m1 0h2M2 49h2m1 0h1m6 0h1m13 0h1m1 0h1M5 50h2m1 0h2m4 0h1m4 0h1m1 0h1m6 0h1m1 0h1M8 51h1m8 0h2m7 0h2m4 0h1M13 52h1m6 0h2m1 0h1m1 0h1m2 0h4M12 53h2m2 0h2m7 0h1m2 0h1M10 54h1m1 0h1m2 0h1m4 0h2m1 0h1m2 0h1m1 0h1m2 0h2M10 55h2m3 0h1m5 0h1m4 0h1m2 0h1M14 56h1m1 0h1m6 0h2m1 0h1M13 57h2M9 58h1M4 59h2M16 60h1m3 0h1M15 61h1m3 0h1m5 0h1M11 62h1m10 0h1M20 63h1m11 0h1M17 64h1m2 0h1m4 0h1M6 65h1m11 0h1m2 0h2m1 0h1M13 66h2m1 0h1m1 0h1m3 0h1m8 0h1M9 67h1m6 0h1m12 0h1M8 68h1m5 0h1m17 0h1M7 69h1M15 70h1m2 0h1m8 0h1m1 0h1M5 71h1m5 0h2m2 0h1m1 0h1m5 0h1m1 0h1m1 0h2m2 0h1M8 72h2m1 0h1m1 0h1m1 0h1M9 73h1m10 0h1m6 0h1m1 0h2m1 0h1M15 74h1m8 0h1m3 0h1M19 75h1m10 0h1M21 76h1m6 0h1M21 77h2m5 0h1m1 0h1"/>
<path stroke="#1a1a1a" d="M32 24h1M5 25h2M30 30h2M23 31h1m5 0h1M23 32h1m4 0h1M24 33h1m1 0h2M27 34h3M10 35h1m16 0h5M7 36h2m5 0h2m12 0h4M8 37h1m21 0h2M25 40h3M11 41h2m4 0h1m7 0h3M11 42h2m4 0h1m6 0h2m1 0h1M10 43h2m7 0h1m4 0h1m3 0h1m2 0h2M32 44h1M29 45h1M15 46h1m11 0h4M26 47h4m1 0h2M2 48h2m21 0h2m3 0h3M16 49h2m4 0h1m7 0h3M15 50h2m3 0h1m8 0h1m2 0h1M15 51h2m2 0h1m1 0h1M22 53h3m6 0h1M17 54h2M18 55h2m11 0h1M18 56h2m7 0h3m1 0h2M17 57h1m1 0h2m3 0h2m2 0h1m1 0h2M17 58h3m4 0h2m2 0h2m2 0h1M17 59h3m4 0h2m2 0h2M25 60h1m1 0h5M21 61h1m4 0h3m2 0h2M20 62h2m9 0h2M27 63h3M26 64h5M26 65h1m2 0h1m1 0h2M25 66h1m4 0h1M14 67h2m7 0h3M23 68h3M23 69h2m6 0h2M23 70h2m6 0h2M14 71h1m9 0h1M19 74h2m4 0h2m3 0h1m1 0h1M20 75h1m4 0h3m3 0h2M26 76h1m3 0h1M31 77h2M32 78h1"/>
</g>
</g>
<path d="M146.8 682.6H112.6" stroke="#0c0c0c" stroke-width="2.7" stroke-dasharray="2.7 2.6" fill="none"/>
<path d="M145.5 716.8V682.6" stroke="#0c0c0c" stroke-width="2.7" stroke-dasharray="2.7 2.6" fill="none"/>
<path d="M107.6 604.2H226V717.3" stroke="#222" stroke-width="1" fill="none"/>
<path d="M112.6 604.2V717.3H226M112.6 717.3h-5M112.6 717.3v4M112.6 689.02h-5M140.95 717.3v4M112.6 660.75h-5M169.3 717.3v4M112.6 632.48h-5M197.65 717.3v4M112.6 604.2h-5M226 717.3v4" stroke="#111" stroke-width="1.3" fill="none"/>
<path d="M112.6 708.79h-2M121.13 717.3v2M112.6 703.81h-2M126.13 717.3v2M112.6 700.28h-2M129.67 717.3v2M112.6 697.54h-2M132.42 717.3v2M112.6 695.3h-2M134.66 717.3v2M112.6 693.4h-2M136.56 717.3v2M112.6 691.77h-2M138.2 717.3v2M112.6 690.32h-2M139.65 717.3v2M112.6 680.51h-2M149.48 717.3v2M112.6 675.53h-2M154.48 717.3v2M112.6 672h-2M158.02 717.3v2M112.6 669.26h-2M160.77 717.3v2M112.6 667.02h-2M163.01 717.3v2M112.6 665.13h-2M164.91 717.3v2M112.6 663.49h-2M166.55 717.3v2M112.6 662.04h-2M168 717.3v2M112.6 652.24h-2M177.83 717.3v2M112.6 647.26h-2M182.83 717.3v2M112.6 643.73h-2M186.37 717.3v2M112.6 640.99h-2M189.12 717.3v2M112.6 638.75h-2M191.36 717.3v2M112.6 636.85h-2M193.26 717.3v2M112.6 635.22h-2M194.9 717.3v2M112.6 633.77h-2M196.35 717.3v2M112.6 623.96h-2M206.18 717.3v2M112.6 618.98h-2M211.18 717.3v2M112.6 615.45h-2M214.72 717.3v2M112.6 612.71h-2M217.47 717.3v2M112.6 610.47h-2M219.71 717.3v2M112.6 608.58h-2M221.61 717.3v2M112.6 606.94h-2M223.25 717.3v2M112.6 605.49h-2M224.7 717.3v2" stroke="#222" stroke-width="0.6" fill="none"/>
<text transform="translate(105.4,717.9) rotate(-90)" font-family='"Liberation Sans",Arial,sans-serif' font-weight="bold" font-size="8.1" text-anchor="middle" fill="#111">10<tspan dy="-2.4" font-size="6">0</tspan></text>
<text transform="translate(105.4,689.62) rotate(-90)" font-family='"Liberation Sans",Arial,sans-serif' font-weight="bold" font-size="8.1" text-anchor="middle" fill="#111">10<tspan dy="-2.4" font-size="6">1</tspan></text>
<text transform="translate(105.4,661.35) rotate(-90)" font-family='"Liberation Sans",Arial,sans-serif' font-weight="bold" font-size="8.1" text-anchor="middle" fill="#111">10<tspan dy="-2.4" font-size="6">2</tspan></text>
<text transform="translate(105.4,633.08) rotate(-90)" font-family='"Liberation Sans",Arial,sans-serif' font-weight="bold" font-size="8.1" text-anchor="middle" fill="#111">10<tspan dy="-2.4" font-size="6">3</tspan></text>
<text transform="translate(105.4,604.8) rotate(-90)" font-family='"Liberation Sans",Arial,sans-serif' font-weight="bold" font-size="8.1" text-anchor="middle" fill="#111">10<tspan dy="-2.4" font-size="6">4</tspan></text>
<text x="108.8" y="732.1" font-family='"Liberation Serif","Times New Roman",serif' font-size="7.6" fill="#333" letter-spacing=".1">10<tspan dx="1.2" dy="-2.1" font-size="6">0</tspan></text>
<text x="137.15" y="732.1" font-family='"Liberation Serif","Times New Roman",serif' font-size="7.6" fill="#333" letter-spacing=".1">10<tspan dx="1.2" dy="-2.1" font-size="6">1</tspan></text>
<text x="165.5" y="732.1" font-family='"Liberation Serif","Times New Roman",serif' font-size="7.6" fill="#333" letter-spacing=".1">10<tspan dx="1.2" dy="-2.1" font-size="6">2</tspan></text>
<text x="193.85" y="732.1" font-family='"Liberation Serif","Times New Roman",serif' font-size="7.6" fill="#333" letter-spacing=".1">10<tspan dx="1.2" dy="-2.1" font-size="6">3</tspan></text>
<text x="222.2" y="732.1" font-family='"Liberation Serif","Times New Roman",serif' font-size="7.6" fill="#333" letter-spacing=".1">10<tspan dx="1.2" dy="-2.1" font-size="6">4</tspan></text>
<text transform="translate(93.8,709.3) rotate(-90)" font-family='"Liberation Serif","Times New Roman",serif' font-weight="bold" font-size="11" fill="#111" stroke="#111" stroke-width=".25">Annexin V PE</text>
<path d="M89.3 638.2V621.2" stroke="#111" stroke-width="1.8" fill="none"/>
<path d="M89.3 616.8l-2.6 5.4h5.2z" fill="#111"/>
<text x="113.2" y="744.9" font-family='"Liberation Serif","Times New Roman",serif' font-size="8.8" fill="#111">7 AAD</text>
<path d="M141.6 743.1H159.6" stroke="#111" stroke-width="1.8" fill="none"/>
<path d="M164 743.1l-5.6 -2.8v5.6z" fill="#111"/>
<text x="113.2" y="759.3" font-family='"Liberation Serif","Times New Roman",serif' font-size="12.3" fill="#111">Bortezomib 100nM Control</text>
<text x="120.6" y="708.5" font-family='"Liberation Serif","Times New Roman",serif' font-weight="bold" font-size="12.2" fill="#000" stroke="#000" stroke-width=".35">61%</text>
<g transform="translate(293.6,604.2)">
<rect x="0" y="77" width="32.6" height="36.4" fill="#b8b8b8"/>
<g transform="translate(0,.5)" fill="none" shape-rendering="crispEdges">
<path stroke="#dcdcdc" d="M5 77h1m3 0h1M4 78h1m5 0h1m1 0h1m1 0h1m1 0h1m2 0h2m7 0h2m1 0h1M1 79h1m3 0h3m1 0h3m3 0h3m1 0h1m3 0h2m1 0h2m2 0h1M1 80h2m1 0h1m1 0h1m1 0h5m1 0h1m2 0h6m1 0h5m2 0h1M2 81h1m1 0h1m2 0h4m1 0h11m1 0h7M1 82h1m2 0h2m1 0h2m1 0h2m3 0h1m1 0h1m1 0h1m1 0h8m1 0h2M1 83h1m1 0h1m2 0h1m1 0h5m1 0h1m3 0h1m2 0h6m1 0h2m1 0h1M5 84h6m3 0h1m1 0h1m1 0h5m1 0h3m4 0h1M1 85h1m4 0h1m2 0h1m3 0h1m1 0h1m1 0h2m5 0h1M1 86h1m6 0h2m2 0h1m1 0h1m6 0h1m5 0h2m1 0h1M5 87h1m7 0h2m6 0h1M10 88h1m4 0h1m2 0h1m8 0h1M1 89h1m6 0h1m4 0h1m2 0h2M1 90h1m16 0h1M7 91h1m10 0h1M12 94h1m2 0h1M28 95h1M6 97h1m12 0h1M6 98h2M18 99h1m7 0h1m3 0h1M6 100h1m4 0h1m19 0h1M4 102h1m6 0h1M12 103h1M19 104h1M19 105h1M2 107h1m2 0h1m2 0h2m10 0h1M9 108h1M13 110h1M9 111h1m1 0h1m12 0h1m4 0h1M6 112h1"/>
<path stroke="#9a9a9a" d="M38 0h1m4 0h1m4 0h1m15 0h1m3 0h1m16 0h1M79 1h1M67 2h1m9 0h1m26 0h1M43 3h1m2 0h1m1 0h1m22 0h1m11 0h1M43 4h1m18 0h1m4 0h1m3 0h1m4 0h1m6 0h1M39 5h1m17 0h1m17 0h1M48 6h1m10 0h1m7 0h1M40 7h1m12 0h1m6 0h1m4 0h1m3 0h1m9 0h1m1 0h1m4 0h1M53 8h1M46 9h1m1 0h1m10 0h2m23 0h1M35 10h1m6 0h1m7 0h1M49 11h1m7 0h1m14 0h1m6 0h1m18 0h1M34 12h1m12 0h1m7 0h1m1 0h1m5 0h1m11 0h1m1 0h1m6 0h1M37 13h1m7 0h1m5 0h1m8 0h1m4 0h1M63 14h1m17 0h1m15 0h1M39 15h1m4 0h1m2 0h1m2 0h1m10 0h1m20 0h1M44 16h1m45 0h1M36 17h1m9 0h1m1 0h1m1 0h1m17 0h1m9 0h1M71 18h1m25 0h1M43 19h1m20 0h1m16 0h1M41 20h1m46 0h1m3 0h1M91 21h1M40 22h1m9 0h1m38 0h1M91 23h1m2 0h1M100 24h1M93 25h1m2 0h1M90 26h1M90 28h1m2 0h1m4 0h1M88 30h1m1 0h1m3 0h1m1 0h1m2 0h1M92 31h1m4 0h1m1 0h1M105 32h1M94 33h2m1 0h2M92 34h1M38 35h1m56 0h2m1 0h1m5 0h1M91 36h1M99 38h1M90 39h1M89 41h1m2 0h1m1 0h1M111 42h1M91 43h1m1 0h1M98 44h1M94 45h1M98 47h1M33 48h1m59 0h1m1 0h1M90 49h1M33 50h1m59 0h1M97 51h1M91 52h1M33 53h1M93 54h1M97 55h1M95 57h1m3 0h1M36 58h1M99 59h1M96 60h1M33 61h1m1 0h1m54 0h1m2 0h1M91 62h1m1 0h1m9 0h1M89 64h1m12 0h1M97 65h1M94 66h1M93 67h1M90 69h1M96 70h1M93 71h2m12 0h1M91 73h1m6 0h1M93 74h1m1 0h1m7 0h1M97 75h1M91 76h1m1 0h1M95 78h1M104 83h1M94 84h1M99 85h1M93 86h1M33 87h1M96 90h2M76 91h1M32 92h1m1 0h1m39 0h1m1 0h1M88 93h1M75 94h1M93 95h1M63 96h1m3 0h1m2 0h1m8 0h1m10 0h1M65 97h1M50 98h1m1 0h1m11 0h1m3 0h1M35 99h1m22 0h1m1 0h1m6 0h1m4 0h1m5 0h1m2 0h1m2 0h1m12 0h1M49 100h1m2 0h1m3 0h1m3 0h1M40 101h1m6 0h1m2 0h1m1 0h1m12 0h2m20 0h1M57 102h1m3 0h1m1 0h1m5 0h1M50 103h1m14 0h1m8 0h1m8 0h1M53 104h1m17 0h2M33 105h1m4 0h1m1 0h1m19 0h1m2 0h1m2 0h1m13 0h1M33 106h1m37 0h1m3 0h1m7 0h1M38 107h1m20 0h2m3 0h1m4 0h1m3 0h1M36 108h1m1 0h1m42 0h1M54 109h2m10 0h1m3 0h2m10 0h1M37 110h1m6 0h1m1 0h1m11 0h1m2 0h1M55 111h1m12 0h1m9 0h1m4 0h1M32 112h1m17 0h1m6 0h1m11 0h1m6 0h1m19 0h1"/>
<path stroke="#6a6a6a" d="M66 3h1M47 7h1m32 0h1M42 8h2m4 0h1m13 0h2m3 0h1m8 0h1M43 9h1m18 0h1m3 0h2m8 0h2M63 10h1m1 0h1m11 0h1m5 0h1M64 11h1m3 0h1m1 0h2m4 0h1m5 0h1M53 12h1m13 0h2m1 0h1m8 0h1m2 0h2M36 13h1m15 0h2m5 0h1m12 0h1m6 0h1M35 14h1m22 0h1m6 0h1m3 0h2m1 0h1m4 0h1m6 0h2M34 15h1m18 0h1m3 0h1m7 0h1m1 0h1m6 0h2m3 0h1m4 0h1M52 16h2m4 0h1m9 0h1m8 0h1m2 0h1m4 0h1M34 17h1m4 0h3m14 0h1m1 0h1m4 0h3m15 0h2m2 0h1M33 18h1m3 0h2m2 0h1m8 0h1m1 0h1m13 0h1m6 0h3m7 0h1M33 19h1m4 0h1m10 0h1m6 0h1M33 20h2m1 0h1m2 0h1m4 0h1m28 0h1m4 0h2m1 0h1m2 0h1M36 21h1m5 0h1m9 0h1m19 0h1m3 0h2m2 0h1m3 0h1m1 0h1M39 22h1m2 0h1m2 0h1m6 0h1m5 0h1m10 0h1m9 0h1m4 0h1M43 23h1m1 0h1m6 0h1m6 0h1m13 0h1m8 0h1M33 24h1m7 0h1m3 0h1m4 0h1m24 0h1m13 0h1M50 25h1m27 0h1M32 26h2m10 0h1m3 0h1m17 0h1m9 0h1m1 0h1m1 0h1m5 0h1m2 0h1M36 27h2m6 0h1m1 0h1m3 0h2m24 0h1m1 0h1m9 0h1M35 28h1m5 0h1m46 0h1M35 29h1m5 0h1m1 0h1m7 0h1M41 30h1m38 0h1M39 31h1m1 0h1m1 0h1m47 0h1M39 32h1m30 0h1m17 0h1M37 33h1m1 0h1m1 0h1m1 0h1M34 34h1m6 0h1m2 0h1M41 35h1m1 0h1m30 0h1m15 0h1M33 36h1m3 0h1m3 0h1m34 0h1m12 0h1M34 37h2m3 0h1m1 0h1M32 38h1m3 0h1M41 39h1M34 40h2m1 0h1m1 0h1m2 0h1M37 41h1m4 0h1m2 0h1M33 42h1m1 0h1M88 43h3M77 45h1m11 0h1M35 46h2M35 47h1m53 0h1M36 48h1m1 0h1m49 0h1m2 0h2M36 49h1M35 50h1m2 0h1M35 51h2m1 0h1m1 0h2m47 0h1m4 0h1M36 52h1m39 0h1m12 0h1m4 0h2M39 53h1m49 0h1M37 54h1M33 55h1m5 0h2m1 0h1m45 0h2M33 56h1m1 0h1m56 0h1M42 57h1m51 0h1M33 58h1m58 0h1M33 59h1m4 0h1m2 0h1m52 0h2M34 61h1m4 0h1m1 0h1M38 62h1m38 0h1m10 0h1M32 63h1m1 0h1m6 0h1M43 64h1M32 65h1M42 66h1m7 0h1m27 0h1m9 0h1M33 67h1m1 0h1m4 0h1m48 0h1M47 68h1m1 0h2M70 69h1m6 0h1M42 70h1m4 0h1m1 0h1m27 0h1M42 71h1m2 0h2m10 0h1m14 0h1M34 72h1m33 0h1m1 0h1m3 0h1m2 0h1M35 73h1m1 0h1m1 0h1m1 0h1m1 0h1m1 0h2M35 74h1m8 0h1m22 0h1m11 0h1m10 0h1M38 75h1m1 0h1m36 0h1m11 0h1m6 0h1M32 76h1m40 0h1m5 0h1M48 77h1m40 0h1M46 78h1M33 80h1m5 0h1m51 0h2M90 81h1m1 0h1M33 82h1m1 0h1M36 84h1m52 0h1M33 85h1M35 86h2m53 0h1M41 88h3m45 0h1m3 0h2M37 89h1m1 0h1m31 0h1m4 0h2m16 0h1M32 90h1m2 0h1m38 0h1m14 0h1M36 91h1m42 0h1m7 0h1m1 0h1M36 93h1m3 0h1m5 0h1m14 0h1m10 0h1m1 0h1m4 0h1M34 94h1m7 0h1m11 0h1m16 0h1m1 0h1m14 0h1M32 95h1m7 0h1m2 0h1m1 0h1m14 0h1m9 0h1m9 0h2M32 96h1m7 0h1m1 0h1m8 0h1m2 0h1m3 0h1m28 0h1M33 97h1m1 0h2m6 0h2m11 0h1m1 0h1m23 0h1m2 0h1M41 98h1m6 0h1m7 0h1m13 0h2m13 0h1M38 99h1m2 0h1m2 0h1m1 0h1m23 0h1M32 100h1m9 0h1m2 0h1M34 101h1m2 0h1m3 0h1m3 0h1M32 102h1m4 0h2m5 0h1m3 0h1m36 0h2M34 103h1m11 0h1m1 0h1m35 0h1M36 104h2m3 0h4m2 0h1m17 0h1M35 105h2m10 0h1M47 106h2m21 0h1M47 107h1"/>
<path stroke="#3e3e3e" d="M70 13h1M71 14h1m6 0h1M66 15h1m11 0h1M33 16h1m23 0h1m3 0h1m4 0h1m7 0h2M54 17h2m4 0h3m11 0h1M54 18h2m4 0h3m21 0h2M46 19h2m3 0h3m5 0h3m5 0h1m1 0h2m13 0h2M45 20h5m2 0h1m1 0h1m1 0h4m1 0h2m2 0h7M33 21h1m3 0h2m7 0h4m3 0h6m1 0h3m1 0h4m2 0h1m3 0h2M33 22h2m2 0h1m9 0h2m5 0h3m3 0h8m6 0h2m2 0h1m6 0h2M33 23h4m1 0h1m8 0h2m5 0h2m5 0h1m1 0h6m8 0h2m7 0h3M36 24h3m3 0h2m3 0h3m2 0h3m1 0h3m3 0h10m1 0h2m2 0h2m2 0h3m1 0h4M35 25h2m1 0h2m1 0h3m2 0h2m4 0h5m1 0h3m1 0h1m1 0h1m1 0h1m1 0h7m6 0h4m1 0h1m1 0h1M34 26h2m3 0h5m2 0h1m6 0h3m2 0h4m1 0h1m4 0h1m1 0h1m1 0h1m1 0h2m6 0h3M34 27h1m3 0h2m1 0h2m4 0h2m4 0h4m1 0h2m2 0h4m1 0h3m1 0h1m1 0h1m6 0h3m1 0h2m1 0h1M32 28h2m4 0h2m3 0h1m3 0h4m2 0h5m1 0h10m1 0h1m1 0h4m2 0h4m2 0h1m1 0h1M32 29h2m4 0h2m4 0h1m1 0h1m1 0h2m2 0h2m1 0h4m1 0h4m1 0h1m1 0h6m1 0h2m1 0h2m1 0h5m1 0h2M34 30h1m4 0h2m3 0h6m2 0h5m1 0h4m1 0h10m1 0h1m1 0h3m2 0h6M33 31h4m7 0h5m2 0h17m1 0h1m2 0h4m1 0h2m3 0h5M33 32h5m5 0h1m1 0h2m1 0h5m2 0h14m4 0h1m1 0h1m1 0h3m2 0h4M33 33h2m3 0h1m3 0h1m2 0h3m1 0h2m1 0h6m1 0h7m2 0h1m1 0h6m1 0h3m1 0h5m1 0h3M46 34h1m1 0h3m2 0h12m1 0h1m1 0h7m1 0h3m2 0h9M46 35h3m1 0h23m4 0h1m1 0h9M32 36h1m9 0h1m1 0h5m1 0h9m1 0h14m4 0h3m1 0h1m1 0h5M38 37h1m4 0h2m1 0h29m1 0h3m1 0h9M37 38h3m2 0h1m1 0h21m1 0h16m1 0h1m1 0h3M38 39h1m4 0h33m1 0h1m1 0h6m1 0h2M46 40h28m1 0h1m1 0h11M35 41h2m2 0h2m6 0h30m1 0h4m1 0h5M38 42h1m1 0h2m2 0h1m1 0h25m1 0h3m1 0h1m1 0h4m1 0h4M33 43h1m2 0h4m1 0h5m1 0h16m1 0h15m1 0h8M33 44h4m1 0h2m2 0h7m2 0h25m2 0h1m3 0h4m1 0h1M33 45h1m2 0h1m1 0h2m3 0h1m1 0h31m2 0h11M38 46h2m1 0h2m1 0h32m1 0h1m1 0h8m1 0h1M32 47h1m5 0h1m1 0h5m1 0h25m1 0h5m1 0h9M39 48h2m1 0h28m1 0h9m1 0h6M39 49h6m1 0h30m1 0h2m1 0h1m1 0h6M42 50h5m1 0h25m1 0h3m1 0h11M39 51h1m2 0h5m1 0h24m1 0h2m1 0h3m2 0h7M39 52h1m3 0h2m2 0h1m1 0h21m1 0h4m3 0h1m1 0h8m2 0h1M35 53h1m4 0h1m2 0h1m1 0h30m2 0h3m1 0h7M34 54h3m3 0h2m1 0h2m1 0h29m2 0h1m2 0h8M35 55h2m7 0h1m1 0h28m1 0h2m1 0h9M34 56h1m3 0h1m4 0h1m1 0h2m1 0h12m1 0h4m1 0h10m1 0h2m1 0h7m2 0h2M37 57h3m3 0h29m1 0h1m1 0h1m1 0h3m1 0h11m1 0h1M38 58h3m3 0h1m1 0h6m1 0h20m2 0h2m2 0h11m3 0h1M40 59h1m2 0h3m1 0h33m1 0h9M39 60h1m1 0h1m1 0h2m1 0h5m1 0h15m1 0h7m1 0h1m1 0h11M40 61h1m2 0h26m1 0h1m1 0h4m2 0h9m1 0h1M43 62h2m1 0h4m1 0h21m2 0h3m2 0h1m1 0h5m1 0h1M38 63h3m1 0h2m1 0h1m1 0h6m1 0h8m1 0h8m1 0h4m2 0h2m1 0h7M32 64h2m1 0h1m1 0h4m4 0h5m1 0h14m1 0h10m3 0h2m1 0h6M34 65h7m2 0h1m1 0h4m1 0h1m1 0h12m1 0h8m1 0h3m3 0h7M35 66h1m1 0h2m1 0h1m2 0h6m2 0h14m1 0h11m2 0h9M36 67h2m1 0h1m2 0h1m1 0h2m2 0h1m1 0h1m1 0h1m1 0h6m1 0h7m2 0h5m1 0h3m1 0h7m1 0h1M33 68h1m1 0h1m1 0h2m2 0h6m5 0h9m1 0h4m1 0h3m1 0h5m2 0h2m1 0h1m1 0h5M32 69h1m1 0h4m1 0h1m2 0h1m1 0h2m1 0h1m3 0h19m3 0h2m4 0h3m1 0h5M33 70h1m1 0h2m1 0h3m2 0h2m1 0h1m3 0h4m1 0h3m1 0h6m1 0h3m3 0h3m3 0h1m2 0h7M33 71h2m1 0h5m8 0h1m1 0h5m2 0h3m1 0h5m6 0h1m3 0h1m2 0h8M37 72h1m1 0h3m6 0h2m1 0h2m2 0h1m3 0h5m2 0h2m10 0h11M32 73h1m3 0h1m10 0h15m3 0h2m1 0h5m1 0h1m3 0h1m1 0h1m1 0h8M33 74h1m8 0h1m4 0h3m1 0h4m2 0h2m1 0h1m1 0h1m1 0h3m3 0h7m3 0h2m1 0h4m1 0h1M33 75h1m2 0h1m4 0h2m2 0h3m1 0h1m1 0h2m1 0h3m1 0h1m1 0h5m5 0h1m4 0h2m4 0h1m1 0h5M35 76h5m1 0h7m1 0h8m1 0h14m8 0h7m1 0h1M34 77h3m1 0h8m1 0h1m2 0h6m1 0h2m1 0h1m1 0h3m1 0h4m1 0h5m3 0h8m1 0h1M33 78h2m1 0h1m1 0h5m1 0h1m5 0h4m1 0h10m1 0h23M33 79h6m2 0h4m2 0h3m1 0h2m1 0h6m1 0h10m1 0h1m1 0h1m1 0h1m1 0h11M34 80h4m2 0h36m2 0h12M37 81h1m1 0h1m1 0h3m1 0h2m1 0h3m1 0h27m1 0h10M36 82h2m1 0h2m1 0h23m1 0h22M32 83h3m2 0h10m1 0h30m1 0h10M32 84h4m3 0h1m1 0h30m2 0h2m2 0h11M36 85h1m1 0h4m1 0h29m1 0h1m3 0h3m1 0h9M38 86h6m2 0h2m1 0h1m1 0h26m2 0h8m1 0h2M36 87h1m1 0h3m2 0h3m1 0h3m1 0h8m1 0h16m1 0h11m1 0h1M34 88h4m2 0h1m4 0h9m1 0h15m4 0h2m1 0h12M33 89h2m10 0h1m1 0h1m3 0h18m1 0h1m2 0h2m4 0h9m1 0h1M33 90h2m3 0h1m2 0h2m1 0h2m2 0h4m1 0h8m1 0h1m1 0h3m2 0h1m1 0h3m7 0h5m1 0h2M37 91h9m1 0h2m1 0h3m1 0h2m2 0h13m9 0h6M37 92h1m2 0h1m1 0h3m2 0h2m1 0h12m1 0h3m1 0h1m2 0h2m7 0h3m1 0h4M38 93h2m2 0h2m3 0h2m1 0h1m1 0h1m3 0h4m2 0h9m9 0h1m1 0h5M35 94h1m1 0h2m1 0h1m6 0h6m2 0h2m1 0h2m3 0h6m14 0h1m2 0h1M34 95h1m1 0h4m6 0h1m1 0h2m1 0h3m1 0h1m3 0h1m7 0h1m15 0h5M33 96h2m1 0h3m7 0h2m2 0h1m30 0h2m1 0h2M38 97h2m5 0h2m1 0h2M38 98h3m3 0h1m2 0h1m9 0h1M39 99h1M32 101h2M33 102h2m10 0h1M45 103h1"/>
<path stroke="#808080" d="M7 0h1m9 0h1m10 0h1M14 1h1M19 2h1M17 3h1m6 0h1M18 4h1M14 5h1M5 6h1m11 0h1M1 7h1m15 0h1m13 0h2M9 8h1m2 0h1m12 0h1M2 9h1m11 0h1m4 0h1M11 10h1m4 0h1m15 0h1M7 11h1m15 0h1m2 0h1M13 12h1M21 13h1m1 0h1m7 0h1M14 14h1m5 0h1M1 15h1m3 0h1m1 0h1M1 16h1m2 0h1m6 0h1m2 0h1m5 0h1M6 17h1M4 18h1M3 20h1m1 0h1M2 21h1m5 0h1M9 27h1M2 31h1m10 0h1m1 0h1m1 0h1M23 34h1M10 35h1M10 36h1m5 0h1M7 38h1M32 39h1M5 40h1M7 41h1m1 0h1M3 42h2m1 0h1m15 0h1M10 43h1M4 44h1M1 45h1m4 0h1m1 0h1M10 46h1m4 0h1M1 47h1m3 0h2m1 0h1m7 0h1M27 48h1M7 49h2m1 0h1m1 0h1M25 50h1M2 51h1m10 0h1m14 0h1M19 52h1M3 53h1m24 0h1M15 54h1m8 0h1M7 55h1M4 56h1M19 57h1m5 0h1M1 58h1m15 0h1M3 59h1m16 0h1M6 60h1m1 0h1m13 0h1M31 61h1M9 62h1m6 0h1m3 0h1m5 0h1M18 63h1M7 64h1m1 0h1m10 0h1M2 65h1m17 0h1M8 66h1m1 0h1m3 0h1M22 67h1M2 68h1m9 0h1m8 0h1m4 0h1M10 69h1M2 70h1m1 0h1m2 0h1m9 0h1M2 71h1m2 0h1m3 0h1m4 0h1m4 0h1M16 72h1M7 73h1M5 74h1m7 0h1m11 0h1M5 75h1m2 0h1m5 0h1m12 0h1m1 0h1M8 76h1m7 0h2m2 0h1"/>
<path stroke="#4a4a4a" d="M1 8h1m9 0h1M10 9h1M15 10h1M14 11h1M17 13h1m6 0h1m2 0h1M16 14h1m1 0h1m6 0h3M12 15h1m18 0h2M13 16h1m3 0h1m6 0h1m1 0h4M20 17h1m3 0h2m3 0h1m1 0h1M5 18h1m2 0h5m4 0h3m1 0h2m4 0h2M7 19h1m5 0h1m1 0h1m5 0h1m1 0h1m3 0h1m3 0h1M7 20h1m5 0h1m1 0h1m1 0h3m2 0h1m2 0h1m2 0h1M10 21h2m1 0h1m1 0h1m4 0h2M6 22h1m10 0h1m2 0h1m7 0h1M2 23h2m16 0h1M1 24h2m8 0h1m2 0h1m1 0h1m1 0h1M8 25h1m4 0h1M1 26h1m2 0h2m3 0h1m1 0h1m3 0h1m5 0h1M15 27h1M4 28h1m6 0h1M2 29h2m5 0h1m4 0h1m3 0h1M9 30h1m16 0h1M4 31h3m2 0h1m6 0h1m8 0h1m2 0h1m1 0h1M1 32h1m6 0h1m1 0h1m12 0h1m6 0h2M1 33h1m1 0h1m5 0h1m1 0h2m2 0h1m1 0h1m1 0h1m1 0h1m4 0h1m4 0h1M5 34h4m6 0h1m1 0h1m3 0h1m2 0h1m5 0h1M1 35h2m9 0h1m5 0h1m1 0h2m3 0h1m4 0h1M1 36h1m2 0h1m1 0h1m8 0h1m2 0h1m5 0h2M4 37h2m8 0h1m3 0h1m1 0h2M9 38h1m1 0h2m1 0h1m1 0h2m5 0h2M6 39h1m2 0h1m3 0h1m2 0h1m2 0h1m5 0h1m1 0h1m2 0h1M11 40h1m1 0h1m5 0h1m1 0h1m1 0h1m2 0h1m2 0h1M11 41h2m3 0h1M15 42h1m1 0h1m10 0h2M12 43h2m1 0h1m1 0h1m2 0h1m10 0h1M5 44h1m3 0h1m6 0h2m4 0h2M18 45h1m11 0h1M22 46h1m1 0h1m2 0h1M12 47h1m5 0h1m1 0h1m1 0h1m2 0h1M14 48h1m3 0h1m6 0h1M1 49h2m12 0h1m1 0h1m1 0h2m5 0h1M1 50h1m2 0h2m6 0h1m4 0h1m1 0h1m1 0h1M4 51h1m6 0h1m3 0h1M15 52h1m6 0h2m7 0h1M19 53h1m6 0h1m4 0h1M4 54h1m12 0h1m1 0h1m2 0h1m8 0h1M4 55h1m5 0h2m6 0h1m2 0h2m7 0h1M8 56h1m3 0h1m3 0h1m10 0h1m3 0h1M13 57h2m5 0h2m1 0h1m4 0h1M7 58h2m1 0h1m12 0h1m1 0h1m3 0h1M8 59h1m3 0h2m2 0h1m7 0h2m1 0h1M1 60h2m11 0h1m2 0h1m11 0h1M2 61h1m3 0h1m7 0h1m1 0h1M4 62h1m1 0h1m15 0h1M3 63h2m1 0h1m2 0h1m1 0h1m16 0h1M11 64h2m5 0h1m7 0h1m2 0h2M12 65h1m4 0h1m4 0h1M9 66h1m7 0h1m6 0h1m6 0h1M15 67h2m11 0h1m1 0h1M6 68h4m7 0h2m9 0h1M12 69h1m5 0h1m10 0h1M13 70h1m6 0h1m3 0h1m5 0h1M21 71h1m2 0h1m2 0h1m2 0h1m1 0h1M22 72h1m7 0h1M16 73h1m1 0h1m1 0h1m1 0h1M16 74h1m4 0h1M10 75h2m11 0h1M11 76h1m10 0h2m4 0h1"/>
<path stroke="#1a1a1a" d="M17 14h1M17 15h1M32 16h1M18 17h1m13 0h1M30 19h1M16 20h1m12 0h3M12 21h1m4 0h1m7 0h2m3 0h2M11 22h1m4 0h1m6 0h3m1 0h1m2 0h2M5 23h3m1 0h2m5 0h1m5 0h3m2 0h2m1 0h3M4 24h3m1 0h3m4 0h1m3 0h1m1 0h2m2 0h1m1 0h4M4 25h1m5 0h1m5 0h1m1 0h2m2 0h1m1 0h3m1 0h1m1 0h2M12 26h2m2 0h5m2 0h3m1 0h1m2 0h2M1 27h2m3 0h1m5 0h2m3 0h4m3 0h5m1 0h1M1 28h2m2 0h3m4 0h3m3 0h1m1 0h2m2 0h2m1 0h5M6 29h3m4 0h1m5 0h1m1 0h5m3 0h3M19 30h2m2 0h3m5 0h2M19 31h1m2 0h2M5 32h1m13 0h2m1 0h1m4 0h2M2 33h1m1 0h1m13 0h1m8 0h2M3 34h1m9 0h2m12 0h2M7 35h1m5 0h2m12 0h3M27 36h2m2 0h1M28 37h2m1 0h2M10 38h1m4 0h1m4 0h1m7 0h3M11 39h1m8 0h3m5 0h1M24 41h2m4 0h1M24 42h4m2 0h2M21 43h1m2 0h4m4 0h1M12 44h1m8 0h1m2 0h3M12 45h2m5 0h2m5 0h2m4 0h1M12 46h2m5 0h2m5 0h1m2 0h4M13 47h1m9 0h1m5 0h3M23 48h1m6 0h2M22 49h2m6 0h2M16 50h1m5 0h2m5 0h4M16 51h1m6 0h1m6 0h2M10 52h2M10 53h2M10 54h1m7 0h1m6 0h3M15 55h1m10 0h2M9 56h1m4 0h2M8 57h1m1 0h2m20 0h1M11 58h1m9 0h2m7 0h2M30 59h3M15 60h1m10 0h2M27 61h3M3 62h1m19 0h1m4 0h1m1 0h1M22 63h3m4 0h1m1 0h1M22 64h3M24 65h4M25 66h3M26 67h1m4 0h1M31 68h2M7 69h1M25 71h2M25 72h3m3 0h1M26 73h1m4 0h1M17 74h4m10 0h2M19 75h1m11 0h2"/>
</g>
</g>
<path d="M327.5 681.2H293.6" stroke="#0c0c0c" stroke-width="2.7" stroke-dasharray="2.7 2.6" fill="none"/>
<path d="M326.2 717.1V681.2" stroke="#0c0c0c" stroke-width="2.7" stroke-dasharray="2.7 2.6" fill="none"/>
<path d="M288.6 604.2H407.2V717.6" stroke="#222" stroke-width="1" fill="none"/>
<path d="M293.6 604.2V717.6H407.2M293.6 717.6h-5M293.6 717.6v4M293.6 689.25h-5M322 717.6v4M293.6 660.9h-5M350.4 717.6v4M293.6 632.55h-5M378.8 717.6v4M293.6 604.2h-5M407.2 717.6v4" stroke="#111" stroke-width="1.3" fill="none"/>
<path d="M293.6 709.07h-2M302.15 717.6v2M293.6 704.07h-2M307.15 717.6v2M293.6 700.53h-2M310.7 717.6v2M293.6 697.78h-2M313.45 717.6v2M293.6 695.54h-2M315.7 717.6v2M293.6 693.64h-2M317.6 717.6v2M293.6 692h-2M319.25 717.6v2M293.6 690.55h-2M320.7 717.6v2M293.6 680.72h-2M330.55 717.6v2M293.6 675.72h-2M335.55 717.6v2M293.6 672.18h-2M339.1 717.6v2M293.6 669.43h-2M341.85 717.6v2M293.6 667.19h-2M344.1 717.6v2M293.6 665.29h-2M346 717.6v2M293.6 663.65h-2M347.65 717.6v2M293.6 662.2h-2M349.1 717.6v2M293.6 652.37h-2M358.95 717.6v2M293.6 647.37h-2M363.95 717.6v2M293.6 643.83h-2M367.5 717.6v2M293.6 641.08h-2M370.25 717.6v2M293.6 638.84h-2M372.5 717.6v2M293.6 636.94h-2M374.4 717.6v2M293.6 635.3h-2M376.05 717.6v2M293.6 633.85h-2M377.5 717.6v2M293.6 624.02h-2M387.35 717.6v2M293.6 619.02h-2M392.35 717.6v2M293.6 615.48h-2M395.9 717.6v2M293.6 612.73h-2M398.65 717.6v2M293.6 610.49h-2M400.9 717.6v2M293.6 608.59h-2M402.8 717.6v2M293.6 606.95h-2M404.45 717.6v2M293.6 605.5h-2M405.9 717.6v2" stroke="#222" stroke-width="0.6" fill="none"/>
<text transform="translate(286.4,718.2) rotate(-90)" font-family='"Liberation Sans",Arial,sans-serif' font-weight="bold" font-size="8.1" text-anchor="middle" fill="#111">10<tspan dy="-2.4" font-size="6">0</tspan></text>
<text transform="translate(286.4,689.85) rotate(-90)" font-family='"Liberation Sans",Arial,sans-serif' font-weight="bold" font-size="8.1" text-anchor="middle" fill="#111">10<tspan dy="-2.4" font-size="6">1</tspan></text>
<text transform="translate(286.4,661.5) rotate(-90)" font-family='"Liberation Sans",Arial,sans-serif' font-weight="bold" font-size="8.1" text-anchor="middle" fill="#111">10<tspan dy="-2.4" font-size="6">2</tspan></text>
<text transform="translate(286.4,633.15) rotate(-90)" font-family='"Liberation Sans",Arial,sans-serif' font-weight="bold" font-size="8.1" text-anchor="middle" fill="#111">10<tspan dy="-2.4" font-size="6">3</tspan></text>
<text transform="translate(286.4,604.8) rotate(-90)" font-family='"Liberation Sans",Arial,sans-serif' font-weight="bold" font-size="8.1" text-anchor="middle" fill="#111">10<tspan dy="-2.4" font-size="6">4</tspan></text>
<text x="289.8" y="732.4" font-family='"Liberation Serif","Times New Roman",serif' font-size="7.6" fill="#333" letter-spacing=".1">10<tspan dx="1.2" dy="-2.1" font-size="6">0</tspan></text>
<text x="318.2" y="732.4" font-family='"Liberation Serif","Times New Roman",serif' font-size="7.6" fill="#333" letter-spacing=".1">10<tspan dx="1.2" dy="-2.1" font-size="6">1</tspan></text>
<text x="346.6" y="732.4" font-family='"Liberation Serif","Times New Roman",serif' font-size="7.6" fill="#333" letter-spacing=".1">10<tspan dx="1.2" dy="-2.1" font-size="6">2</tspan></text>
<text x="375" y="732.4" font-family='"Liberation Serif","Times New Roman",serif' font-size="7.6" fill="#333" letter-spacing=".1">10<tspan dx="1.2" dy="-2.1" font-size="6">3</tspan></text>
<text x="403.4" y="732.4" font-family='"Liberation Serif","Times New Roman",serif' font-size="7.6" fill="#333" letter-spacing=".1">10<tspan dx="1.2" dy="-2.1" font-size="6">4</tspan></text>
<text transform="translate(274.8,709.6) rotate(-90)" font-family='"Liberation Serif","Times New Roman",serif' font-weight="bold" font-size="11" fill="#111" stroke="#111" stroke-width=".25">Annexin V PE</text>
<path d="M270.3 638.2V621.2" stroke="#111" stroke-width="1.8" fill="none"/>
<path d="M270.3 616.8l-2.6 5.4h5.2z" fill="#111"/>
<text x="294.2" y="745.2" font-family='"Liberation Serif","Times New Roman",serif' font-size="8.8" fill="#111">7 AAD</text>
<path d="M322.6 743.4H340.6" stroke="#111" stroke-width="1.8" fill="none"/>
<path d="M345 743.4l-5.6 -2.8v5.6z" fill="#111"/>
<text x="294.4" y="759.6" font-family='"Liberation Serif","Times New Roman",serif' font-size="12.3" fill="#111">Bortezomib 1000nM Control</text>
<text x="294.7" y="708.5" font-family='"Liberation Serif","Times New Roman",serif' font-weight="bold" font-size="12.9" fill="#000" stroke="#000" stroke-width=".35">55.6%</text>
<path d="M56.2 806.8H373.8V1091.7H56.2M61.2 806.8V1091.7" stroke="#050505" stroke-width="2.1" fill="none"/>
<path d="M61.2 1021.4h-5M61.2 949.3h-5M61.2 877.3h-5" stroke="#0a0a0a" stroke-width="1.8" fill="none"/>
<text x="45.9" y="1090.2" text-anchor="end" font-family='"Liberation Serif","Times New Roman",serif' font-size="10" fill="#222">0</text>
<text x="45.9" y="1024.9" text-anchor="end" font-family='"Liberation Serif","Times New Roman",serif' font-size="10" fill="#222">20</text>
<text x="45.9" y="953.9" text-anchor="end" font-family='"Liberation Serif","Times New Roman",serif' font-size="10" fill="#222">40</text>
<text x="45.9" y="883.9" text-anchor="end" font-family='"Liberation Serif","Times New Roman",serif' font-size="10" fill="#222">60</text>
<text x="45.9" y="813.4" text-anchor="end" font-family='"Liberation Serif","Times New Roman",serif' font-size="10" fill="#222">80</text>
<text transform="translate(10.7,1071.3) rotate(-90)" font-family='"Liberation Serif","Times New Roman",serif' font-size="13.35" fill="#1c1c1c">% Annexin and 7 AAD negative lymphocytes</text>
<path d="M88.5 918.8V917.4M81 917.4h15M88.5 962V963.6M81 963.6h15" stroke="#050505" stroke-width="2.3" fill="none"/>
<rect x="76.6" y="918.8" width="23.8" height="43.2" fill="#e3e3e3" stroke="#050505" stroke-width="2.5"/>
<path d="M76.6 940.6H100.4" stroke="#050505" stroke-width="2.2"/>
<path d="M112 893V896.6M104.5 896.6h15" stroke="#050505" stroke-width="2.3" fill="none"/>
<rect x="100" y="857.5" width="24" height="35.5" fill="#7d7d7d" stroke="#050505" stroke-width="2.5"/>
<path d="M100 874H124" stroke="#050505" stroke-width="2.2"/>
<path d="M147.2 902.5V900M139.7 900h15M147.2 951V975.3M139.7 975.3h15" stroke="#050505" stroke-width="2.3" fill="none"/>
<rect x="136.2" y="902.5" width="22" height="48.5" fill="#e3e3e3" stroke="#050505" stroke-width="2.5"/>
<path d="M136.2 916.3H158.2" stroke="#050505" stroke-width="2.2"/>
<path d="M170.5 848.8V846M163 846h15M170.5 867.5V869.2M163 869.2h15" stroke="#050505" stroke-width="2.3" fill="none"/>
<rect x="158.2" y="848.8" width="24.6" height="18.7" fill="#7d7d7d" stroke="#050505" stroke-width="2.5"/>
<path d="M158.2 858.5H182.8" stroke="#050505" stroke-width="2.2"/>
<path d="M205.8 1001.5V1008M198.3 1008h15" stroke="#050505" stroke-width="2.3" fill="none"/>
<rect x="194.8" y="926.6" width="22" height="74.9" fill="#e3e3e3" stroke="#050505" stroke-width="2.5"/>
<path d="M194.8 960.5H216.8" stroke="#050505" stroke-width="2.2"/>
<path d="M228.15 853.5V846.5M220.65 846.5h15M228.15 869.6V875.4M220.65 875.4h15" stroke="#050505" stroke-width="2.3" fill="none"/>
<rect x="215.9" y="853.5" width="24.5" height="16.1" fill="#7d7d7d" stroke="#050505" stroke-width="2.5"/>
<path d="M215.9 862.3H240.4" stroke="#050505" stroke-width="2.2"/>
<path d="M264.7 985.4V977.3M257.2 977.3h15M264.7 1047.7V1073.5M257.2 1073.5h15" stroke="#050505" stroke-width="2.3" fill="none"/>
<rect x="252.8" y="985.4" width="23.8" height="62.3" fill="#e3e3e3" stroke="#050505" stroke-width="2.5"/>
<path d="M252.8 1007.3H276.6" stroke="#050505" stroke-width="2.2"/>
<path d="M287.65 852.3V849.6M280.15 849.6h15M287.65 882.3V887M280.15 887h15" stroke="#050505" stroke-width="2.3" fill="none"/>
<rect x="276.5" y="852.3" width="22.3" height="30" fill="#7d7d7d" stroke="#050505" stroke-width="2.5"/>
<path d="M276.5 867H298.8" stroke="#050505" stroke-width="2.2"/>
<path d="M322.9 1022.7V1015M315.4 1015h15" stroke="#050505" stroke-width="2.3" fill="none"/>
<rect x="311.2" y="1022.7" width="23.4" height="46.1" fill="#e3e3e3" stroke="#050505" stroke-width="2.5"/>
<path d="M311.2 1049.6H334.6" stroke="#050505" stroke-width="2.2"/>
<path d="M347.4 913V924.6M339.9 924.6h15" stroke="#050505" stroke-width="2.3" fill="none"/>
<rect x="335.4" y="892" width="24" height="21" fill="#7d7d7d" stroke="#050505" stroke-width="2.5"/>
<path d="M335.4 896.5H359.4" stroke="#050505" stroke-width="2.2"/>
<path d="M79.5 832.4Q79.8 829.2 83 829.2H95Q97.2 829.2 97.5 826.4Q97.8 829.2 100 829.2H112Q115.2 829.2 115.5 832.4" stroke="#2a2a2a" stroke-width="0.9" fill="none"/>
<path d="M134.9 832.4Q135.2 829.2 138.4 829.2H150.05Q152.25 829.2 152.55 826.4Q152.85 829.2 155.05 829.2H166.7Q169.9 829.2 170.2 832.4" stroke="#2a2a2a" stroke-width="0.9" fill="none"/>
<path d="M194.6 832.4Q194.9 829.2 198.1 829.2H209.8Q212 829.2 212.3 826.4Q212.6 829.2 214.8 829.2H226.5Q229.7 829.2 230 832.4" stroke="#2a2a2a" stroke-width="0.9" fill="none"/>
<path d="M255 832.4Q255.3 829.2 258.5 829.2H270.4Q272.6 829.2 272.9 826.4Q273.2 829.2 275.4 829.2H287.3Q290.5 829.2 290.8 832.4" stroke="#2a2a2a" stroke-width="0.9" fill="none"/>
<path d="M314.6 832.4Q314.9 829.2 318.1 829.2H330Q332.2 829.2 332.5 826.4Q332.8 829.2 335 829.2H346.9Q350.1 829.2 350.4 832.4" stroke="#2a2a2a" stroke-width="0.9" fill="none"/>
<text x="99.4" y="820" text-anchor="middle" font-family='"Liberation Serif","Times New Roman",serif' font-size="9.8" fill="#1a1a1a" word-spacing="-1.25"><tspan font-style="italic" stroke="#1a1a1a" stroke-width=".2">P</tspan> = .04</text>
<text x="153.4" y="820" text-anchor="middle" font-family='"Liberation Serif","Times New Roman",serif' font-size="9.8" fill="#1a1a1a" word-spacing="-1.25"><tspan font-style="italic" stroke="#1a1a1a" stroke-width=".2">P</tspan> = .04</text>
<text x="215.5" y="820" text-anchor="middle" font-family='"Liberation Serif","Times New Roman",serif' font-size="9.8" fill="#1a1a1a" word-spacing="-1.25"><tspan font-style="italic" stroke="#1a1a1a" stroke-width=".2">P</tspan> = .015</text>
<text x="271.9" y="820" text-anchor="middle" font-family='"Liberation Serif","Times New Roman",serif' font-size="9.8" fill="#1a1a1a" word-spacing="-1.25"><tspan font-style="italic" stroke="#1a1a1a" stroke-width=".2">P</tspan> = .001</text>
<text x="330.7" y="820" text-anchor="middle" font-family='"Liberation Serif","Times New Roman",serif' font-size="9.8" fill="#1a1a1a" word-spacing="-1.25"><tspan font-style="italic" stroke="#1a1a1a" stroke-width=".2">P</tspan> &lt; .001</text>
<text x="49" y="1105.2" font-family='"Liberation Serif","Times New Roman",serif' font-size="8.3" fill="#333">N =</text>
<text x="85.4" y="1105.2" text-anchor="middle" font-family='"Liberation Serif","Times New Roman",serif' font-size="8.5" fill="#333">5</text>
<text x="106.8" y="1105.2" text-anchor="middle" font-family='"Liberation Serif","Times New Roman",serif' font-size="8.5" fill="#333">5</text>
<text x="143.2" y="1105.2" text-anchor="middle" font-family='"Liberation Serif","Times New Roman",serif' font-size="8.5" fill="#333">5</text>
<text x="167.4" y="1105.2" text-anchor="middle" font-family='"Liberation Serif","Times New Roman",serif' font-size="8.5" fill="#333">5</text>
<text x="201.3" y="1105.2" text-anchor="middle" font-family='"Liberation Serif","Times New Roman",serif' font-size="8.5" fill="#333">5</text>
<text x="225.4" y="1105.2" text-anchor="middle" font-family='"Liberation Serif","Times New Roman",serif' font-size="8.5" fill="#333">5</text>
<text x="262" y="1105.2" text-anchor="middle" font-family='"Liberation Serif","Times New Roman",serif' font-size="8.5" fill="#333">5</text>
<text x="283" y="1105.2" text-anchor="middle" font-family='"Liberation Serif","Times New Roman",serif' font-size="8.5" fill="#333">5</text>
<text x="320.4" y="1105.2" text-anchor="middle" font-family='"Liberation Serif","Times New Roman",serif' font-size="8.5" fill="#333">5</text>
<text x="344.2" y="1105.2" text-anchor="middle" font-family='"Liberation Serif","Times New Roman",serif' font-size="8.5" fill="#333">5</text>
<text x="99.8" y="1121" text-anchor="middle" font-family='"Liberation Serif","Times New Roman",serif' font-size="9.8" fill="#222">0nM</text>
<text x="152.5" y="1121" text-anchor="middle" font-family='"Liberation Serif","Times New Roman",serif' font-size="9.8" fill="#222">1nM</text>
<text x="213.5" y="1121" text-anchor="middle" font-family='"Liberation Serif","Times New Roman",serif' font-size="9.8" fill="#222">10nM</text>
<text x="269.8" y="1121" text-anchor="middle" font-family='"Liberation Serif","Times New Roman",serif' font-size="9.8" fill="#222">100nM</text>
<text x="330.5" y="1121" text-anchor="middle" font-family='"Liberation Serif","Times New Roman",serif' font-size="9.8" fill="#222">1000nM</text>
<text x="193.4" y="1140.6" font-family='"Liberation Serif","Times New Roman",serif' font-size="13.2" fill="#222">[bortezomib]</text>
<rect x="386" y="1046.2" width="31.6" height="14.4" fill="#5a5a5a" stroke="#0a0a0a" stroke-width="1.8"/>
<rect x="386" y="1077.6" width="31.6" height="14" fill="#e3e3e3" stroke="#0a0a0a" stroke-width="1.8"/>
<text x="422.8" y="1059.2" font-family='"Liberation Serif","Times New Roman",serif' font-size="15" fill="#222">control</text>
<text x="422.8" y="1090.4" font-family='"Liberation Serif","Times New Roman",serif' font-size="15" fill="#222">PHA stimulated</text>
</svg>
</body></html>
